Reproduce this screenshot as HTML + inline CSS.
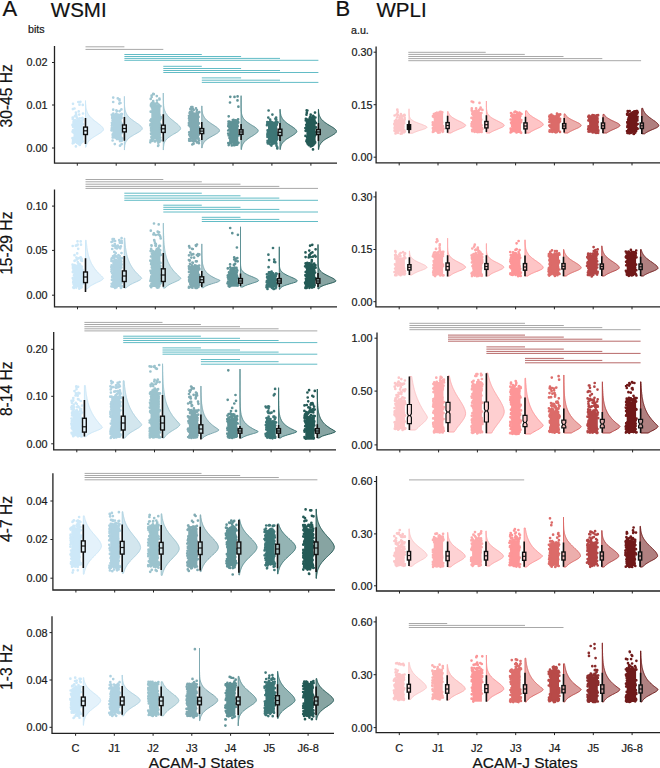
<!DOCTYPE html>
<html><head><meta charset="utf-8"><style>
html,body{margin:0;padding:0;background:#fff;}
body{width:660px;height:768px;overflow:hidden;font-family:"Liberation Sans",sans-serif;}
svg{display:block;}
</style></head><body>
<svg width="660" height="768" viewBox="0 0 660 768" font-family="Liberation Sans, sans-serif">
<style>text{stroke:#1a1a1a;stroke-width:0.22px;}</style>
<rect width="660" height="768" fill="#fff"/>
<defs><clipPath id="ca"><rect x="0" y="0" width="337" height="768"/></clipPath></defs>
<g clip-path="url(#ca)">
<rect x="73.5" y="121" width="9.2" height="21" fill="#cde8f8"/>
<path d="M73.8 139.8h0M74.1 125.7h0M73.1 139.3h0M72.5 138.2h0M74.1 130.8h0M73.1 126.8h0M73 130.3h0M73.5 132.6h0M74.5 137.6h0M73.7 141.8h0M72.9 124.4h0M73.7 121.9h0M72.6 131.8h0M73.4 140.3h0M73.8 131.8h0M73.5 126.2h0M72.5 125h0M73.9 125.2h0M81.9 121.1h0M82.9 124.2h0M81.7 139.5h0M82.2 138.8h0M82.5 136.6h0M81.4 132.4h0M82.2 139.3h0M81.9 133.6h0M81.3 129.1h0M74.1 121.4h0M75.1 121.4h0M73.5 122h0M74.8 121.7h0M75.7 121.9h0M79.6 121.1h0M81.5 121.9h0M82.2 121.6h0M79.4 120.6h0M76.5 120.4h0M75.1 120h0M81.9 120.5h0M78.4 120.3h0M72.8 119.1h0M82.8 119.7h0M79.8 118.4h0M78.1 118.8h0M82.2 118.2h0M82.5 118h0M77 117.8h0M72.7 117.6h0M74.9 116.2h0M76.4 116.2h0M76.1 114.3h0M83 113.5h0M78.7 111.4h0M81.1 141.7h0M80.2 141.6h0M82.9 141.3h0M76.8 141.2h0M73 141.2h0M82.3 141.8h0M79.2 142.6h0M74.5 142.1h0M76.9 142.8h0M81.2 142.7h0M73.7 142.9h0M81.1 142.9h0M78.1 142.9h0M72.7 143.3h0M78.6 144h0M79.8 145h0M78.3 102h0M79.5 104.7h0M74.5 108.5h0M72.9 109.1h0M82.8 104.9h0M73 103.8h0M75.9 112.5h0M79.2 114.6h0M80.4 101.8h0M75.9 146.4h0M81 143.2h0" stroke="#cde8f8" stroke-width="2.7" stroke-linecap="round"/>
<rect x="112.4" y="115" width="9.2" height="23.5" fill="#afd2e1"/>
<path d="M112.9 135.7h0M111.8 128.5h0M112.7 129.3h0M111.6 130.5h0M112.7 134.4h0M113 122.7h0M112.8 135.4h0M113.2 118.8h0M111.5 130.3h0M111.8 128.2h0M113.3 123.9h0M111.9 125.7h0M112.7 117.4h0M112.2 118.1h0M112.7 134.5h0M112.2 123.7h0M112.5 120.1h0M111.9 122.8h0M112.3 116.9h0M112.9 128.6h0M120.7 116.8h0M121.6 118.1h0M120.4 118.1h0M120.3 136.3h0M120.6 122.2h0M121.8 129.6h0M120.5 125.2h0M121.9 123.8h0M121.5 117.3h0M121.6 133.2h0M114.2 115.5h0M119.4 115.9h0M112.7 115.2h0M120 115.6h0M119.1 116h0M121.4 115.8h0M111.8 114.8h0M117.2 114.4h0M117.3 114.7h0M115.5 114.8h0M121.2 114.4h0M112.9 114.8h0M122 114.1h0M119 114.8h0M121.3 114.1h0M113.3 113.6h0M116.2 113.8h0M119.6 111.1h0M122.1 138.4h0M121.2 137.7h0M115.6 137.7h0M112.7 137.5h0M118.6 138.8h0M117 138.8h0M116.9 139.1h0M117.1 138.9h0M119.9 139.4h0M112.6 140.5h0M121.8 140.7h0M114.8 144.1h0M116.4 110.4h0M119.5 99.3h0M119.5 100.4h0M120.5 103h0M119.3 103.6h0M113.2 109.7h0M113.2 102h0M117.8 98.4h0M121.4 109.4h0M116.9 111.2h0M113.2 97.6h0M121.7 144.1h0M120 141.1h0M120 145.7h0" stroke="#afd2e1" stroke-width="2.7" stroke-linecap="round"/>
<rect x="151.3" y="105" width="9.2" height="34.5" fill="#9bc3cd"/>
<path d="M151.6 137.8h0M151.2 119.3h0M151.7 133.8h0M151 128.1h0M150.7 124h0M151.8 107.3h0M151.8 105.5h0M152.2 121.2h0M151.1 129.9h0M151.3 130.2h0M150.5 124.4h0M151.4 137.2h0M150.4 120.6h0M151.6 124h0M150.4 125.5h0M150.7 111.7h0M152.1 111.8h0M151.2 130.9h0M151.7 124.1h0M151.9 121.1h0M151.5 133.3h0M151.7 127.1h0M151.1 124.3h0M151.1 130.7h0M151.1 121.1h0M151.8 122.4h0M151 133.5h0M151.1 134.1h0M151.9 120.4h0M160.4 106.2h0M159.8 134.7h0M160.2 124.2h0M160.3 128.4h0M160.2 119.5h0M159.4 115.1h0M159.6 119.9h0M161 117.2h0M159.9 117.8h0M160.2 137.7h0M160.8 118h0M159.5 135.5h0M160 128.7h0M159.1 134.9h0M154.3 105.5h0M152.5 105.3h0M157.9 105.8h0M150.9 105.7h0M159 105.4h0M151 105.7h0M152.9 105.6h0M154.3 105.6h0M153.6 104.3h0M151 104.4h0M158.6 104.7h0M152.4 104.1h0M153.7 104.8h0M155.5 104.9h0M155 103.5h0M151.8 103.4h0M157.1 103.1h0M151.8 103.2h0M153.3 104h0M153.2 139.3h0M152.3 139.1h0M157.4 140.1h0M158.6 139.7h0M160.5 140.4h0M151.5 139.8h0M150.6 140.3h0M160.1 140.5h0M156.8 140.2h0M158 141.2h0M154.8 141.4h0M158.4 140.8h0M151.1 140.6h0M152.3 140.8h0M155.1 141.4h0M159.4 141.9h0M150.3 142.3h0M153.2 101.2h0M153.2 93.9h0M151.7 96.9h0M151.6 95.5h0M150.7 98.9h0M159.4 98.5h0M153.2 101.8h0M156.8 96.1h0M157 100.6h0M159.5 99.4h0M153.8 94.2h0M158.4 145.3h0M158.2 142.7h0M158.1 146h0" stroke="#9bc3cd" stroke-width="2.7" stroke-linecap="round"/>
<rect x="189.8" y="112.4" width="9.2" height="27.4" fill="#80aab2"/>
<path d="M189.6 113.1h0M190.7 132h0M189.2 132.4h0M189.4 125.3h0M190.5 124.7h0M189.4 120.8h0M189 118.4h0M189.3 117.1h0M188.9 125.2h0M189.2 132.6h0M190.6 119.9h0M189.9 126.3h0M189 115.8h0M190.6 125.4h0M190.4 114.2h0M190 136.1h0M190.5 112.6h0M189.8 122.5h0M190.3 114.4h0M189.3 134.7h0M189.7 124.8h0M190.7 121.2h0M188.9 123.1h0M197.8 114.6h0M198.6 138.5h0M198.7 130.1h0M198.1 128h0M199 128.5h0M199.1 127.5h0M197.9 128.4h0M198.5 116.9h0M198.7 134.8h0M197.8 127.3h0M199 123.4h0M197.6 113.3h0M189.9 112.6h0M190.7 113.2h0M198.5 112.4h0M192.4 112.6h0M196.8 111.8h0M190.3 111.8h0M199.3 112.2h0M190 112.2h0M192.1 112.2h0M193.7 110.1h0M193.8 139.2h0M195.1 139.1h0M189.2 139.1h0M190.3 140.2h0M195.2 140.7h0M190.4 140.5h0M193.9 139.9h0M199.2 140.5h0M190.2 140.7h0M189.9 139.9h0M192.3 140.7h0M189.2 140.7h0M193.7 141.4h0M196.7 141.5h0M197.5 142.2h0M193.6 143.7h0M198.9 143.2h0M198.9 143.2h0M192.9 108.9h0M190.3 108.9h0M196.9 110h0M196 108.4h0M191.3 107.1h0M191.8 109.6h0M192.4 107.1h0M196.9 142.4h0M192.3 144.5h0" stroke="#80aab2" stroke-width="2.7" stroke-linecap="round"/>
<rect x="229.1" y="121.8" width="9.2" height="21.5" fill="#5f9296"/>
<path d="M228.5 124.1h0M229.5 138.1h0M228.7 135.5h0M228.2 130.5h0M229.3 127.2h0M228.8 134.9h0M229.3 125.1h0M229.5 123.5h0M230 126.2h0M228.6 126.1h0M230.1 128h0M229.3 143.1h0M230 122.7h0M229.1 134.7h0M229.5 129h0M228.8 121.9h0M228.2 133.6h0M228.3 126.2h0M237.5 123.3h0M236.9 141.7h0M237.7 126.2h0M238.2 122h0M237.3 142.5h0M238.6 135.5h0M237 128.6h0M236.9 126.5h0M236.9 124.5h0M229 122.6h0M235.3 122.3h0M234.7 121.9h0M230.9 122.4h0M238.3 122.6h0M229.5 121.5h0M236.8 121.6h0M232.9 121h0M228.5 121.7h0M233.5 119.8h0M232.8 120h0M235.7 120.3h0M237.4 120.7h0M238.1 119.3h0M228.7 116.3h0M237 142.9h0M235.9 142.9h0M230.3 143.1h0M228.3 143h0M230.2 142.8h0M238.5 142.8h0M230.8 143.3h0M233.9 143.7h0M233.5 143.6h0M237.3 144.6h0M236.7 144.6h0M235.8 144.6h0M234.5 145.2h0M228.7 145.1h0M231.8 145.4h0M238.4 106.7h0M237.6 96.4h0M230 102.5h0M230.3 96.8h0M237.5 100.4h0M234.5 96.9h0M233.7 144.8h0M233.7 145.1h0" stroke="#5f9296" stroke-width="2.7" stroke-linecap="round"/>
<rect x="268" y="121.8" width="9.2" height="21.2" fill="#3d7676"/>
<path d="M267.3 124.5h0M268.6 141.4h0M267.3 122.1h0M267.5 124.7h0M267.4 134.2h0M267.8 130.9h0M267.4 135.9h0M267.6 130.3h0M267.9 141h0M267.5 137h0M267.6 140.8h0M267.8 132.5h0M268.8 136.1h0M267.2 124.7h0M269 122.4h0M267.6 142.1h0M267 125.2h0M267.4 123.6h0M276.6 134.4h0M276.3 124.1h0M277.3 138.9h0M276.8 124.7h0M276.8 135.1h0M276.6 140.1h0M276.5 132.6h0M275.9 133.7h0M277.2 137.3h0M272.5 122.7h0M272 122.3h0M270 122.7h0M270.4 122.5h0M271.4 122.7h0M277.1 121.8h0M277.6 122.4h0M267.8 122.3h0M270.3 121.4h0M275.8 121.7h0M270.5 121.4h0M276.3 119.5h0M270.1 119.6h0M268.3 117.6h0M273.3 143h0M271.9 142.8h0M268 142.9h0M273.2 142.9h0M275.4 142.9h0M267.6 142.7h0M269.1 143.4h0M275.8 143.5h0M272.5 143.8h0M274 143.3h0M267.9 143.5h0M276.4 143.6h0M271.1 144.6h0M271.4 145.6h0M276.5 145.7h0M277.3 147.3h0M276.1 117.6h0M272.4 114.6h0M275.4 118.8h0M268.6 110.5h0M277.3 148.5h0M270.2 144.3h0" stroke="#3d7676" stroke-width="2.7" stroke-linecap="round"/>
<rect x="306.4" y="118.3" width="9.2" height="25" fill="#245a56"/>
<path d="M307.2 130.3h0M305.6 130.8h0M305.9 128.5h0M306.7 141.2h0M307 122.3h0M306.4 130.6h0M307.4 120.5h0M306.4 141.2h0M306.2 124.8h0M306.5 126.3h0M307.3 120.4h0M305.8 120.4h0M306.8 125.6h0M307.2 140.6h0M307.3 124.7h0M305.4 128h0M307.3 137.4h0M305.5 135.9h0M307.2 142.5h0M306.8 139.9h0M307.1 127.3h0M314.3 136.5h0M314.4 127.9h0M316.1 132.3h0M315.1 142h0M314.7 143.3h0M315.9 127.4h0M314.8 121.5h0M315.9 122.9h0M314.1 140.6h0M315.3 135.1h0M305.9 118.8h0M313.3 119h0M312 118.3h0M315.4 117.5h0M309.8 117.8h0M313.1 118.2h0M313.3 117.6h0M313.7 116.5h0M310.3 116.8h0M312 117.3h0M313.1 115.8h0M314.4 143.1h0M309.1 142.9h0M315.1 142.7h0M311.3 142.7h0M310.8 144h0M307.6 143.4h0M313.9 144.1h0M312.5 143.6h0M312.4 143.4h0M312.5 143.9h0M312 143.7h0M307.8 144h0M310.4 144h0M309.3 143.4h0M313.7 144.6h0M312.9 144.7h0M308.8 144.8h0M311.1 145h0M312.6 145.6h0M311.9 145.8h0M310.7 146.5h0M315 112.6h0M306.5 114.7h0M306.8 112.9h0M306.7 110.4h0M310.7 114.7h0M307.4 110.5h0M308.8 145.1h0M313 149.4h0" stroke="#245a56" stroke-width="2.7" stroke-linecap="round"/>
<path d="M85.5 100.6L85.6 100.6L85.6 101.2L85.6 101.8L85.6 102.4L85.6 103L85.6 103.6L85.7 104.1L85.7 104.7L85.8 105.3L85.8 105.9L85.9 106.5L85.9 107.1L86 107.7L86.1 108.3L86.2 108.9L86.4 109.5L86.5 110.1L86.7 110.6L86.9 111.2L87.1 111.8L87.4 112.4L87.6 113L87.9 113.6L88.3 114.2L88.7 114.8L89.1 115.4L89.5 116L90 116.6L90.6 117.2L91.1 117.7L91.7 118.3L92.4 118.9L93.1 119.5L93.8 120.1L94.5 120.7L95.3 121.3L96.1 121.9L96.9 122.5L97.7 123.1L98.4 123.7L99.2 124.2L99.9 124.8L100.7 125.4L101.3 126L101.9 126.6L102.4 127.2L102.9 127.8L103.2 128.4L103.4 129L103.5 129.5L103.5 129.6L103.3 130.2L103 130.7L102.4 131.3L101.7 131.9L101 132.5L100.1 133.1L99.2 133.7L98.2 134.3L97.2 134.9L96.2 135.5L95.2 136.1L94.3 136.7L93.4 137.3L92.5 137.8L91.7 138.4L90.9 139L90.2 139.6L89.6 140.2L89 140.8L88.5 141.4L88.1 142L87.7 142.6L87.3 143.2L87 143.8L86.8 144.3L86.5 144.9L86.3 145.5L86.2 146.1L86.1 146.7L85.9 147.3L85.5 147.3Z" fill="#e4f2fb" stroke="#cde8f8" stroke-width="1"/>
<path d="M124.4 96.4L124.4 96.4L124.4 97.1L124.4 97.8L124.4 98.4L124.4 99.1L124.4 99.8L124.4 100.5L124.4 101.1L124.4 101.8L124.4 102.5L124.5 103.2L124.5 103.9L124.5 104.5L124.5 105.2L124.6 105.9L124.6 106.6L124.7 107.3L124.8 107.9L124.9 108.6L125 109.3L125.1 110L125.3 110.6L125.5 111.3L125.7 112L126 112.7L126.3 113.4L126.6 114L127 114.7L127.5 115.4L128.1 116.1L128.7 116.8L129.3 117.4L130 118.1L130.8 118.8L131.7 119.5L132.6 120.1L133.5 120.8L134.5 121.5L135.5 122.2L136.5 122.9L137.5 123.5L138.5 124.2L139.4 124.9L140.2 125.6L141 126.3L141.6 126.9L142 127.6L142.3 128.3L142.3 128.6L142.2 129L141.9 129.6L141.2 130.3L140.4 131L139.4 131.7L138.3 132.4L137.1 133L135.9 133.7L134.7 134.4L133.5 135.1L132.4 135.8L131.3 136.4L130.3 137.1L129.4 137.8L128.6 138.5L127.9 139.1L127.3 139.8L126.8 140.5L126.3 141.2L125.9 141.9L125.6 142.5L125.4 143.2L125.1 143.9L125 144.6L124.8 145.3L124.7 145.9L124.7 146.6L124.6 147.3L124.5 148L124.5 148.6L124.5 149.3L124.5 150L124.4 150Z" fill="#d3e6ee" stroke="#afd2e1" stroke-width="1"/>
<path d="M163.3 93L163.3 93L163.3 93.7L163.3 94.4L163.3 95.2L163.3 95.9L163.3 96.6L163.3 97.3L163.3 98.1L163.3 98.8L163.3 99.5L163.4 100.2L163.4 100.9L163.4 101.7L163.4 102.4L163.5 103.1L163.5 103.8L163.6 104.5L163.6 105.3L163.7 106L163.8 106.7L163.9 107.4L164 108.2L164.2 108.9L164.4 109.6L164.6 110.3L164.9 111L165.2 111.8L165.5 112.5L165.9 113.2L166.4 113.9L166.9 114.6L167.4 115.4L168 116.1L168.7 116.8L169.4 117.5L170.2 118.3L171 119L171.9 119.7L172.8 120.4L173.7 121.1L174.6 121.9L175.5 122.6L176.4 123.3L177.3 124L178.1 124.7L178.8 125.5L179.5 126.2L180 126.9L180.4 127.6L180.6 128.4L180.6 128.6L180.5 129.1L180 129.8L179.3 130.5L178.4 131.2L177.4 132L176.2 132.7L175 133.4L173.7 134.1L172.5 134.8L171.3 135.6L170.2 136.3L169.2 137L168.2 137.7L167.4 138.5L166.7 139.2L166 139.9L165.5 140.6L165.1 141.3L164.7 142.1L164.4 142.8L164.1 143.5L163.9 144.2L163.8 144.9L163.7 145.7L163.6 146.4L163.5 147.1L163.4 147.8L163.4 148.6L163.4 149.3L163.4 150L163.3 150Z" fill="#c8dee4" stroke="#9bc3cd" stroke-width="1"/>
<path d="M201.8 105.9L201.8 105.9L201.9 106.4L201.9 107L201.9 107.5L201.9 108L201.9 108.6L202 109.1L202 109.6L202.1 110.2L202.1 110.7L202.2 111.2L202.3 111.8L202.4 112.3L202.5 112.8L202.6 113.4L202.7 113.9L202.9 114.4L203.1 115L203.3 115.5L203.6 116L203.9 116.6L204.2 117.1L204.5 117.6L204.9 118.2L205.4 118.7L205.8 119.2L206.4 119.8L206.9 120.3L207.5 120.8L208.2 121.4L208.9 121.9L209.6 122.4L210.4 123L211.1 123.5L211.9 124L212.8 124.6L213.6 125.1L214.4 125.6L215.2 126.2L216 126.7L216.7 127.2L217.4 127.7L218 128.3L218.5 128.8L219 129.3L219.3 129.9L219.5 130.4L219.5 130.7L219.5 130.9L219.2 131.5L218.8 132L218.2 132.5L217.5 133.1L216.7 133.6L215.8 134.1L214.9 134.7L213.9 135.2L212.9 135.7L212 136.3L211 136.8L210.1 137.3L209.2 137.9L208.4 138.4L207.6 138.9L206.9 139.5L206.2 140L205.6 140.5L205.1 141.1L204.6 141.6L204.1 142.1L203.8 142.7L203.5 143.2L203.2 143.7L202.9 144.3L202.7 144.8L202.6 145.3L202.4 145.9L202.3 146.4L202.2 146.9L202.1 147.5L202.1 148L201.8 148Z" fill="#b9d0d5" stroke="#80aab2" stroke-width="1"/>
<path d="M241.1 95.7L241.1 95.7L241.1 96.4L241.1 97.1L241.1 97.7L241.1 98.4L241.1 99.1L241.1 99.8L241.1 100.5L241.1 101.1L241.1 101.8L241.1 102.5L241.1 103.2L241.1 103.9L241.1 104.6L241.1 105.2L241.1 105.9L241.1 106.6L241.1 107.3L241.1 108L241.2 108.6L241.2 109.3L241.2 110L241.2 110.7L241.3 111.4L241.4 112L241.4 112.7L241.5 113.4L241.7 114.1L241.8 114.8L242 115.4L242.3 116.1L242.6 116.8L242.9 117.5L243.3 118.2L243.8 118.9L244.4 119.5L245 120.2L245.7 120.9L246.5 121.6L247.4 122.3L248.3 122.9L249.3 123.6L250.4 124.3L251.5 125L252.6 125.7L253.7 126.3L254.8 127L255.7 127.7L256.6 128.4L257.3 129.1L257.9 129.8L258.2 130.4L258.2 130.7L258.1 131.1L257.8 131.8L257.2 132.5L256.5 133.2L255.6 133.8L254.6 134.5L253.6 135.2L252.5 135.9L251.4 136.6L250.3 137.2L249.3 137.9L248.3 138.6L247.4 139.3L246.5 140L245.7 140.6L245 141.3L244.4 142L243.8 142.7L243.4 143.4L242.9 144.1L242.6 144.7L242.3 145.4L242.1 146.1L241.9 146.8L241.7 147.5L241.6 148.1L241.5 148.8L241.4 149.5L241.1 149.5Z" fill="#a7c3c5" stroke="#5f9296" stroke-width="1"/>
<path d="M280 109.3L280.1 109.3L280.1 109.8L280.1 110.3L280.2 110.8L280.2 111.3L280.3 111.8L280.3 112.4L280.4 112.9L280.5 113.4L280.6 113.9L280.7 114.4L280.8 114.9L280.9 115.4L281.1 115.9L281.3 116.4L281.5 116.9L281.8 117.4L282 118L282.3 118.5L282.7 119L283.1 119.5L283.5 120L283.9 120.5L284.4 121L285 121.5L285.6 122L286.2 122.5L286.8 123L287.5 123.5L288.2 124.1L289 124.6L289.8 125.1L290.5 125.6L291.3 126.1L292.1 126.6L292.8 127.1L293.5 127.6L294.2 128.1L294.9 128.6L295.4 129.1L295.9 129.7L296.3 130.2L296.6 130.7L296.8 131.2L296.8 131.4L296.8 131.7L296.5 132.2L296.2 132.7L295.7 133.2L295.1 133.7L294.5 134.2L293.7 134.7L292.9 135.3L292.1 135.8L291.3 136.3L290.4 136.8L289.6 137.3L288.8 137.8L288 138.3L287.2 138.8L286.4 139.3L285.8 139.8L285.1 140.3L284.5 140.8L284 141.4L283.5 141.9L283 142.4L282.6 142.9L282.2 143.4L281.9 143.9L281.6 144.4L281.4 144.9L281.2 145.4L281 145.9L280.8 146.4L280.7 147L280.6 147.5L280.5 148L280.4 148.5L280.3 149L280.2 149.5L280 149.5Z" fill="#94b4b4" stroke="#3d7676" stroke-width="1"/>
<path d="M318.4 109.3L318.5 109.3L318.5 109.8L318.6 110.3L318.6 110.8L318.6 111.3L318.7 111.8L318.7 112.4L318.8 112.9L318.9 113.4L319 113.9L319.1 114.4L319.3 114.9L319.4 115.4L319.6 115.9L319.8 116.4L320 116.9L320.3 117.4L320.6 118L320.9 118.5L321.3 119L321.7 119.5L322.2 120L322.7 120.5L323.2 121L323.8 121.5L324.4 122L325.1 122.5L325.8 123L326.6 123.5L327.3 124.1L328.1 124.6L329 125.1L329.8 125.6L330.6 126.1L331.5 126.6L332.3 127.1L333.1 127.6L333.8 128.1L334.5 128.6L335.1 129.1L335.7 129.7L336.1 130.2L336.4 130.7L336.6 131.2L336.6 131.4L336.6 131.7L336.3 132.2L335.9 132.7L335.4 133.2L334.8 133.7L334.1 134.2L333.3 134.7L332.4 135.3L331.5 135.8L330.6 136.3L329.7 136.8L328.8 137.3L327.9 137.8L327 138.3L326.2 138.8L325.4 139.3L324.6 139.8L323.9 140.3L323.3 140.8L322.7 141.4L322.1 141.9L321.7 142.4L321.2 142.9L320.8 143.4L320.5 143.9L320.2 144.4L319.9 144.9L319.6 145.4L319.4 145.9L319.3 146.4L319.1 147L319 147.5L318.9 148L318.8 148.5L318.7 149L318.7 149.5L318.4 149.5Z" fill="#87a4a2" stroke="#245a56" stroke-width="1"/>
<path d="M85.5 118.1V127.1M85.5 134.5V143.9" stroke="#111" stroke-width="1.6"/>
<rect x="83.6" y="127.1" width="3.8" height="7.4" fill="#e8f5fc" stroke="#111" stroke-width="1.4"/>
<path d="M83.6 130.8H87.4" stroke="#111" stroke-width="1.2"/>
<path d="M124.4 117V125M124.4 131.9V140.7" stroke="#111" stroke-width="1.6"/>
<rect x="122.5" y="125" width="3.8" height="6.9" fill="#dbebf2" stroke="#111" stroke-width="1.4"/>
<path d="M122.5 128.5H126.3" stroke="#111" stroke-width="1.2"/>
<path d="M163.3 114.2V125.2M163.3 132.4V141.5" stroke="#111" stroke-width="1.6"/>
<rect x="161.4" y="125.2" width="3.8" height="7.2" fill="#d2e4e8" stroke="#111" stroke-width="1.4"/>
<path d="M161.4 128.8H165.2" stroke="#111" stroke-width="1.2"/>
<path d="M201.8 122V128.6M201.8 133.6V140" stroke="#111" stroke-width="1.6"/>
<rect x="199.9" y="128.6" width="3.8" height="5" fill="#c6d9dc" stroke="#111" stroke-width="1.4"/>
<path d="M199.9 131.1H203.7" stroke="#111" stroke-width="1.2"/>
<path d="M241.1 124V129.8M241.1 134.3V140" stroke="#111" stroke-width="1.6"/>
<rect x="239.2" y="129.8" width="3.8" height="4.5" fill="#b7ced0" stroke="#111" stroke-width="1.4"/>
<path d="M239.2 132H243" stroke="#111" stroke-width="1.2"/>
<path d="M280 123V129.2M280 135.5V141" stroke="#111" stroke-width="1.6"/>
<rect x="278.1" y="129.2" width="3.8" height="6.3" fill="#a8c1c1" stroke="#111" stroke-width="1.4"/>
<path d="M278.1 132.4H281.9" stroke="#111" stroke-width="1.2"/>
<path d="M318.4 123V129.5M318.4 134.5V141" stroke="#111" stroke-width="1.6"/>
<rect x="316.5" y="129.5" width="3.8" height="5" fill="#9cb5b3" stroke="#111" stroke-width="1.4"/>
<path d="M316.5 132H320.3" stroke="#111" stroke-width="1.2"/>
<path d="M85.5 46.8H124.4" stroke="#a8a8a8" stroke-width="1"/>
<path d="M85.5 49.4H163.3" stroke="#a8a8a8" stroke-width="1"/>
<path d="M124.4 54.5H201.8" stroke="#62bcc6" stroke-width="1"/>
<path d="M124.4 56.5H241.1" stroke="#62bcc6" stroke-width="1"/>
<path d="M124.4 58.4H280" stroke="#62bcc6" stroke-width="1"/>
<path d="M124.4 60.3H318.4" stroke="#62bcc6" stroke-width="1"/>
<path d="M163.3 66.3H201.8" stroke="#62bcc6" stroke-width="1"/>
<path d="M163.3 68.5H241.1" stroke="#62bcc6" stroke-width="1"/>
<path d="M163.3 70.5H280" stroke="#62bcc6" stroke-width="1"/>
<path d="M163.3 72.5H318.4" stroke="#62bcc6" stroke-width="1"/>
<path d="M201.8 77.9H241.1" stroke="#62bcc6" stroke-width="1"/>
<path d="M201.8 80.2H280" stroke="#62bcc6" stroke-width="1"/>
<path d="M201.8 82.4H318.4" stroke="#62bcc6" stroke-width="1"/>
<rect x="73.5" y="266" width="9.2" height="21" fill="#cde8f8"/>
<path d="M73.2 282.6h0M72.8 278.2h0M73.4 272.1h0M74.1 281.7h0M72.8 272.1h0M74.1 286.8h0M73.7 284.3h0M74.5 281.6h0M73.8 270.6h0M73.2 279.1h0M74.4 272.3h0M73.3 266.5h0M73.9 275.3h0M74.1 270.9h0M73.8 280.1h0M73.4 270h0M73.3 281.6h0M72.9 267.9h0M82.1 270.9h0M82.8 283.2h0M83.1 283.6h0M82.5 269.9h0M82.8 281.3h0M82.7 280.6h0M82.9 272.3h0M82.5 276.9h0M81.9 272.9h0M77.9 266.1h0M76.7 267h0M73.4 266.8h0M81.8 266.5h0M81 266.4h0M76.3 266.5h0M74.6 266.3h0M75.8 267h0M74.6 265.1h0M73.6 265.3h0M76.9 265.9h0M78.2 266h0M80.2 265.1h0M78.4 265.2h0M72.9 265.9h0M79.5 264.5h0M72.6 264.7h0M78.2 263.5h0M79.7 264h0M77.8 262.2h0M81.6 258.7h0M75.5 286.5h0M79.7 286.6h0M80.3 286.1h0M74.4 286.3h0M75.5 286.8h0M76.3 287.6h0M81.7 287.3h0M74.5 287h0M74 287.9h0M79.2 288h0M73.2 287.4h0M81 287.7h0M79.3 288.7h0M74.5 255.2h0M77.5 241.3h0M78.2 248.8h0M75 260.6h0M74.5 260.8h0M76.9 259.4h0M76.4 257.6h0M72.7 246h0M81.1 260.4h0M77.2 253.4h0M78.3 258.5h0M81.7 259.1h0M75.9 245.7h0M82 260.9h0M79.5 258h0M81 244.7h0M77.7 244.6h0M77.4 245.2h0M77.6 258.5h0M80.7 257.4h0M80.7 241.4h0" stroke="#cde8f8" stroke-width="2.7" stroke-linecap="round"/>
<rect x="112.3" y="261" width="9.2" height="26" fill="#afd2e1"/>
<path d="M111.6 265.3h0M112.1 273h0M113.2 285.5h0M113.2 280h0M112.7 268h0M112 261.1h0M113 268.2h0M111.5 269.2h0M111.9 279.8h0M111.3 267h0M113.1 283.2h0M112.6 275.5h0M111.7 283.8h0M112.8 274.3h0M111.6 266.6h0M112.1 269.6h0M111.4 271.6h0M112.2 268.5h0M112.1 269.6h0M112.1 277.1h0M112.3 266.1h0M112.9 274.3h0M120.9 279.5h0M121.5 283.1h0M121.6 278.4h0M121.4 265.1h0M121.4 267.6h0M120.5 264.1h0M120.8 261.5h0M121.3 280.5h0M121.6 264.4h0M121.3 282.8h0M120.1 266h0M118.6 261.2h0M118.9 261.7h0M119 261.1h0M121.4 261.6h0M114.2 261.4h0M116.8 261.5h0M116.1 260.2h0M111.4 261h0M114.4 260.5h0M115.1 260.1h0M120.9 260.9h0M118.4 259.8h0M119.4 259.7h0M111.5 259.2h0M114.2 258.3h0M121.9 258.2h0M111.8 258.4h0M118.2 258.2h0M120.3 258.2h0M119.1 257.8h0M114 257.1h0M117.6 257.5h0M116.2 256.4h0M113 256.3h0M114.1 256.2h0M119.7 256.1h0M114.6 255.2h0M118.5 255h0M115.7 253.2h0M121.5 253.1h0M114.3 251.9h0M115.5 247.9h0M113.8 246h0M116.1 246.1h0M114.8 245.2h0M120.6 286.7h0M113.8 286.6h0M114.6 286.9h0M115 286.2h0M111.8 286.3h0M121.9 286.2h0M116.2 287h0M111.4 286.3h0M120.1 286.1h0M121.2 286.8h0M112.8 286.6h0M121 287.9h0M115.2 287.7h0M116.5 287.3h0M115 288h0M115 287.6h0M121.4 287.3h0M112.5 241.5h0M119.9 242.7h0M121.7 241h0M121.8 243h0M116.9 248.4h0M112.2 249h0M119 246.8h0M111.5 242h0M113.9 239.1h0M120.2 248.3h0M119.2 240h0M116.3 247.9h0M115.1 241h0M119.7 241.5h0M120.9 246.4h0M119.3 247.4h0M114.8 244.1h0M117.8 245.6h0M112.5 245.6h0M121.6 238.2h0M112.6 239.2h0" stroke="#afd2e1" stroke-width="2.7" stroke-linecap="round"/>
<rect x="151.3" y="252.8" width="9.2" height="34.2" fill="#9bc3cd"/>
<path d="M152.2 271h0M150.6 280.9h0M151.2 277.2h0M152 271.2h0M150.4 280.9h0M151.7 283.9h0M150.8 279.7h0M152 264.9h0M151.1 264.2h0M150.3 260.7h0M151 256.5h0M151.8 267.4h0M151.4 262.5h0M151 278.6h0M151.2 273.2h0M151.1 271.9h0M152.1 261.9h0M151.3 276.3h0M150.5 285.7h0M151.3 261.2h0M151.8 280.7h0M151.6 284.1h0M150.5 270.8h0M151.8 284.2h0M151.6 273.4h0M151.1 272.3h0M151.4 283.8h0M152 278h0M160.8 255.1h0M160.5 268.7h0M160.5 262.9h0M159.9 281h0M159.1 262.8h0M160 281.9h0M159.5 280.9h0M159.5 263.2h0M160.1 275.2h0M160.8 282.9h0M159.5 278.3h0M160.3 266h0M160.6 283.5h0M160 284.1h0M151.9 253.6h0M158.2 252.9h0M153.1 253.6h0M160.1 253.7h0M155.7 253.2h0M154.4 251.9h0M155.3 252.5h0M157.3 252.8h0M159.8 252.4h0M159.2 250.8h0M152.8 251h0M153.1 251.7h0M150.6 251.1h0M156.4 251.5h0M158.6 251.2h0M152.7 251.7h0M151.6 250.9h0M152.8 251.3h0M151.3 250h0M158.7 250.4h0M158.8 249.8h0M159.9 250.2h0M160.2 250.4h0M156.2 250.6h0M156.8 249.2h0M151.1 248.9h0M158.5 247.9h0M155.8 246h0M154.2 240h0M158.7 286.7h0M150.5 286.1h0M158.2 286.7h0M151.2 287.2h0M158.5 287.5h0M157.4 287.7h0M156.8 287.2h0M157.8 287.1h0M155.1 243.2h0M151.4 245.3h0M158.2 234.5h0M154.5 241.3h0M155.9 244.2h0M160.3 236.5h0M160 245.9h0M154 223.5h0M159.1 232.3h0M153.4 234.5h0M159.7 235.3h0M155.4 245.4h0M159.3 245.9h0M150.8 230.7h0M157.7 231.7h0M155.9 245.2h0M153.9 233.4h0M160.7 238.4h0M155.7 235h0M151.6 245.7h0M158.7 224.4h0" stroke="#9bc3cd" stroke-width="2.7" stroke-linecap="round"/>
<rect x="189.8" y="268.6" width="9.2" height="18.4" fill="#80aab2"/>
<path d="M190.3 284h0M190 279.2h0M189.9 282.1h0M189.5 277.7h0M189.7 280.8h0M189.2 269.1h0M189 271.9h0M190.5 281.8h0M190.3 276.8h0M189 277.2h0M190.5 278h0M190.1 275.5h0M189.1 280.1h0M189.8 275h0M189.3 281.4h0M189.4 279.2h0M198 282.5h0M198.2 277.4h0M199.4 281.8h0M199 274.8h0M199.2 275.7h0M199.5 285.1h0M198.8 283.9h0M198.6 282.1h0M197 268.7h0M199.1 268.9h0M199.4 269.4h0M194 269h0M189.8 268.7h0M194.5 268.1h0M192.7 268.5h0M198.4 267.8h0M197.1 267.9h0M190.8 267.8h0M194.9 267.9h0M191.4 267.7h0M192.3 268.4h0M189 268.1h0M195.3 267.6h0M191.9 268.5h0M199.4 268.5h0M198.7 267.5h0M193 266.7h0M198.4 267.6h0M194.3 266.8h0M192 265.6h0M191.5 266.6h0M188.9 266.3h0M197.2 266h0M199.2 265.5h0M194.9 265.3h0M191.7 265.5h0M195.7 265.5h0M191.9 265.6h0M190 263.8h0M192.9 262.8h0M192.4 262.5h0M195.9 261.3h0M196.8 261.3h0M189.6 260.7h0M188.9 260.1h0M189.8 260.3h0M194.1 257.7h0M191.3 257.6h0M198 256h0M199.3 254.7h0M193.3 254.2h0M195.8 245.3h0M189 286.9h0M195.5 286.4h0M190.3 286.8h0M195.4 287.1h0M188.9 287.7h0M192.5 287.7h0M197.1 287.8h0M195.4 287.8h0M195.8 287.9h0M198.4 287h0M191.7 287.4h0M191.5 287.2h0M189.1 246.2h0M196.9 255h0M191.6 254.7h0M197 244.5h0M190.3 252.5h0M199.3 254.3h0M189.5 247.6h0M192.8 249h0M192 248.8h0M189 255.3h0M198 254.1h0M196.1 245.9h0M196.3 245.1h0" stroke="#80aab2" stroke-width="2.7" stroke-linecap="round"/>
<rect x="228.5" y="272" width="9.2" height="14.7" fill="#5f9296"/>
<path d="M227.9 277.2h0M229.3 286.5h0M228.4 283.4h0M229.4 286.7h0M228.1 281.6h0M228.3 278.8h0M228.4 276.1h0M227.5 283.3h0M228.9 284.4h0M227.8 275.5h0M228.7 285.8h0M228.4 275h0M228.7 286.1h0M237.9 285.2h0M237 275.9h0M237.9 283.6h0M237.9 277.8h0M236.8 275.5h0M237.9 285.5h0M230.4 272.3h0M233 272.1h0M235.9 272.2h0M232.3 272.6h0M229 272.4h0M233.5 272.6h0M235 271.8h0M236.1 271.2h0M236.4 271.6h0M234.7 271.9h0M231.8 271.9h0M236.9 271.8h0M231.6 271.5h0M237.3 270.5h0M230.4 270h0M235.9 270.3h0M233 270.2h0M234 270.4h0M236.1 270.7h0M236.9 269.9h0M234.4 269.9h0M232.7 268.2h0M232.1 268.5h0M227.8 268.4h0M234.6 267.6h0M230.2 267.4h0M236.5 267.9h0M233.9 264.9h0M230.1 264.4h0M234.7 264.2h0M235.1 263.8h0M235.6 261h0M237.3 258.1h0M234.2 257.4h0M229.6 286.5h0M229.8 285.8h0M230.1 286.2h0M236.9 247.5h0M237.9 234.8h0M232.3 233.2h0M237.7 261.3h0M234.2 259.5h0M236.2 258.6h0M230.2 228h0" stroke="#5f9296" stroke-width="2.7" stroke-linecap="round"/>
<rect x="267.3" y="274.4" width="9.2" height="12.8" fill="#3d7676"/>
<path d="M267.1 277.2h0M268 282.3h0M267.6 278.4h0M266.7 285.4h0M267.8 283.8h0M268.3 281.6h0M266.7 282.2h0M266.9 281h0M267.2 281.6h0M268.1 284.8h0M267.1 284.9h0M276.7 284.3h0M276.1 285.9h0M276 275.8h0M275.5 282.8h0M275.8 279.8h0M273.5 274.7h0M271.2 275.3h0M273 275.2h0M266.9 274.3h0M270.7 273.9h0M276.3 273.6h0M276.7 273.8h0M268.9 273.6h0M271.8 273.9h0M275.8 273.5h0M272.8 273.2h0M268.9 272.4h0M269.8 272.3h0M271.6 271.6h0M274.2 261.9h0M266.7 287.1h0M269.7 286.3h0M272.7 287h0M272.7 286.4h0M270.6 286.5h0M266.5 287.2h0M271.9 287.8h0M275.7 288.2h0M276 287.5h0M272.6 287.3h0M271.9 287.3h0M267.5 287.3h0M267.5 288.9h0M273.5 288.9h0M274 288.9h0M274.2 259.5h0M268.6 267.2h0M268.4 254.7h0M269.1 260.1h0M275.2 262.2h0M273 248h0" stroke="#3d7676" stroke-width="2.7" stroke-linecap="round"/>
<rect x="306" y="266.2" width="9.2" height="20.8" fill="#245a56"/>
<path d="M305.9 271.9h0M306.6 279.9h0M305.9 284.3h0M306.4 286.6h0M306.3 284.9h0M306.1 281h0M306.7 268.1h0M305.9 278.8h0M305.1 282.6h0M306.4 285.7h0M305.7 276h0M306.8 274.8h0M306.7 275h0M305.7 272h0M305.4 275.2h0M305.3 283.4h0M306.9 268.2h0M305.1 266.3h0M315.6 267.7h0M315.1 272.5h0M314.1 271.3h0M315.1 266.6h0M315.4 278h0M314.2 270.5h0M315 279.3h0M314.3 273.1h0M314.6 285.1h0M314.3 266.6h0M314 267.1h0M311.2 266.3h0M313.1 266.9h0M308.1 267.1h0M310.2 266.3h0M305.7 266.4h0M311.5 267h0M306.1 266.2h0M306.6 265.8h0M315.2 265.3h0M310.5 265.6h0M309.4 265.5h0M307.9 265.4h0M306.1 265.8h0M309.8 265.9h0M311.8 264.3h0M310.7 264.3h0M307.4 264.8h0M315.4 265.2h0M307.8 264.3h0M310.5 264.6h0M309.1 265h0M312.6 264.8h0M309.8 264h0M308.1 263.8h0M305.6 263.4h0M309.3 263.3h0M309.5 263.4h0M314.2 263.5h0M309.1 264h0M307.3 262.8h0M311.7 261.7h0M311.8 260.2h0M308.7 257.4h0M305.6 257.1h0M314.8 255.5h0M309.9 254.7h0M310.8 253.3h0M309.3 250.6h0M305.9 286.4h0M313.8 286.2h0M310.4 287h0M313.9 286.9h0M312.2 286.6h0M311.2 286.6h0M310 286.4h0M306.8 287.8h0M305.4 287.9h0M312 287.6h0M309.4 287.8h0M310.6 257h0M309.3 255.2h0M305.5 252.4h0M312.3 244.8h0M312.9 256.7h0M312.4 252.4h0M315.6 249.3h0M315.7 256.6h0M310.1 245.7h0" stroke="#245a56" stroke-width="2.7" stroke-linecap="round"/>
<path d="M85.5 240.2L86.2 240.2L86.2 240.8L86.3 241.4L86.3 242.1L86.4 242.7L86.4 243.3L86.5 243.9L86.6 244.5L86.6 245.1L86.7 245.8L86.8 246.4L86.9 247L86.9 247.6L87 248.2L87.1 248.8L87.2 249.5L87.3 250.1L87.4 250.7L87.5 251.3L87.7 251.9L87.8 252.6L87.9 253.2L88.1 253.8L88.2 254.4L88.4 255L88.5 255.6L88.7 256.3L88.9 256.9L89.1 257.5L89.3 258.1L89.5 258.7L89.7 259.3L90 260L90.2 260.6L90.5 261.2L90.7 261.8L91 262.4L91.3 263.1L91.6 263.7L92 264.3L92.3 264.9L92.7 265.5L93.1 266.1L93.5 266.8L93.9 267.4L94.3 268L94.7 268.6L95.2 269.2L95.7 269.9L96.2 270.5L96.7 271.1L97.3 271.7L97.8 272.3L98.4 272.9L99 273.6L99.6 274.2L100.2 274.8L100.8 275.4L101.5 276L102.1 276.6L102.7 277.3L103.3 277.9L103.5 278.2L103.4 278.5L103 279.1L102.3 279.7L101.4 280.4L100.3 281L99 281.6L97.7 282.2L96.4 282.8L95.1 283.4L93.9 284.1L92.7 284.7L91.6 285.3L90.6 285.9L89.8 286.5L89 287.1L88.3 287.8L87.8 288.4L87.3 289L85.5 289Z" fill="#e4f2fb" stroke="#cde8f8" stroke-width="1"/>
<path d="M124.3 238L124.8 238L124.8 238.6L124.8 239.3L124.9 239.9L124.9 240.5L125 241.2L125 241.8L125.1 242.4L125.1 243.1L125.2 243.7L125.2 244.3L125.3 245L125.3 245.6L125.4 246.2L125.5 246.9L125.5 247.5L125.6 248.1L125.7 248.8L125.8 249.4L125.9 250L126 250.7L126.1 251.3L126.2 251.9L126.3 252.6L126.5 253.2L126.6 253.8L126.7 254.5L126.9 255.1L127.1 255.7L127.2 256.4L127.4 257L127.6 257.6L127.8 258.3L128 258.9L128.2 259.5L128.5 260.2L128.7 260.8L129 261.4L129.2 262.1L129.5 262.7L129.8 263.3L130.1 263.9L130.5 264.6L130.8 265.2L131.2 265.8L131.6 266.5L132 267.1L132.4 267.7L132.8 268.4L133.3 269L133.8 269.6L134.3 270.3L134.8 270.9L135.3 271.5L135.9 272.2L136.5 272.8L137.1 273.4L137.7 274.1L138.3 274.7L139 275.3L139.6 276L140.2 276.6L140.9 277.2L141.5 277.9L141.7 278.2L141.6 278.5L141.1 279.1L140.3 279.8L139.3 280.4L138 281L136.6 281.7L135.2 282.3L133.8 282.9L132.5 283.6L131.2 284.2L130.1 284.8L129.1 285.5L128.2 286.1L127.4 286.7L126.7 287.4L126.2 288L124.3 288Z" fill="#d3e6ee" stroke="#afd2e1" stroke-width="1"/>
<path d="M163.3 223.2L163.4 223.2L163.4 224L163.4 224.8L163.4 225.7L163.4 226.5L163.4 227.3L163.4 228.1L163.5 228.9L163.5 229.8L163.5 230.6L163.5 231.4L163.5 232.2L163.5 233L163.6 233.9L163.6 234.7L163.6 235.5L163.7 236.3L163.7 237.1L163.7 238L163.8 238.8L163.8 239.6L163.8 240.4L163.9 241.2L163.9 242.1L164 242.9L164.1 243.7L164.1 244.5L164.2 245.3L164.3 246.2L164.4 247L164.5 247.8L164.6 248.6L164.7 249.4L164.8 250.3L164.9 251.1L165.1 251.9L165.2 252.7L165.4 253.5L165.6 254.4L165.8 255.2L166 256L166.2 256.8L166.4 257.7L166.7 258.5L167 259.3L167.3 260.1L167.6 260.9L167.9 261.8L168.3 262.6L168.7 263.4L169.1 264.2L169.6 265L170 265.9L170.5 266.7L171.1 267.5L171.7 268.3L172.3 269.1L172.9 270L173.6 270.8L174.3 271.6L175.1 272.4L175.9 273.2L176.7 274.1L177.5 274.9L178.4 275.7L179.3 276.5L180.1 277.3L180.9 278.2L180.9 278.2L180.5 279L179.4 279.8L177.9 280.6L176.2 281.4L174.3 282.3L172.4 283.1L170.7 283.9L169.1 284.7L167.8 285.5L166.7 286.4L165.8 287.2L165.1 288L163.3 288Z" fill="#c8dee4" stroke="#9bc3cd" stroke-width="1"/>
<path d="M201.8 243.9L201.8 243.9L201.8 244.5L201.8 245L201.8 245.6L201.8 246.1L201.8 246.7L201.8 247.2L201.8 247.8L201.8 248.3L201.8 248.9L201.8 249.4L201.8 250L201.8 250.6L201.8 251.1L201.9 251.7L201.9 252.2L201.9 252.8L201.9 253.3L201.9 253.9L201.9 254.4L201.9 255L201.9 255.5L202 256.1L202 256.7L202 257.2L202 257.8L202 258.3L202.1 258.9L202.1 259.4L202.2 260L202.2 260.5L202.3 261.1L202.3 261.6L202.4 262.2L202.5 262.8L202.5 263.3L202.6 263.9L202.7 264.4L202.9 265L203 265.5L203.1 266.1L203.3 266.6L203.5 267.2L203.7 267.7L203.9 268.3L204.1 268.8L204.4 269.4L204.7 270L205.1 270.5L205.4 271.1L205.9 271.6L206.3 272.2L206.8 272.7L207.4 273.3L208 273.8L208.7 274.4L209.4 274.9L210.2 275.5L211.1 276.1L212 276.6L213 277.2L214.1 277.7L215.2 278.3L216.4 278.8L217.7 279.4L218.9 279.9L220 280.5L220 280.5L219.6 281L218.6 281.6L217.1 282.2L215.4 282.7L213.6 283.3L211.8 283.8L210 284.4L208.4 284.9L207 285.5L205.8 286L204.8 286.6L204 287.1L203.4 287.7L201.8 287.7Z" fill="#b9d0d5" stroke="#80aab2" stroke-width="1"/>
<path d="M240.5 226.8L240.5 226.8L240.5 227.6L240.5 228.3L240.5 229.1L240.5 229.8L240.5 230.6L240.5 231.4L240.5 232.1L240.5 232.9L240.5 233.7L240.5 234.4L240.5 235.2L240.5 235.9L240.5 236.7L240.5 237.5L240.5 238.2L240.5 239L240.5 239.8L240.5 240.5L240.5 241.3L240.5 242L240.5 242.8L240.5 243.6L240.5 244.3L240.5 245.1L240.5 245.9L240.5 246.6L240.5 247.4L240.5 248.1L240.5 248.9L240.5 249.7L240.5 250.4L240.5 251.2L240.5 251.9L240.5 252.7L240.5 253.5L240.5 254.2L240.5 255L240.5 255.8L240.5 256.5L240.5 257.3L240.5 258L240.5 258.8L240.5 259.6L240.5 260.3L240.5 261.1L240.5 261.9L240.5 262.6L240.5 263.4L240.5 264.1L240.6 264.9L240.6 265.7L240.7 266.4L240.8 267.2L240.9 267.9L241.1 268.7L241.4 269.5L241.8 270.2L242.3 271L243 271.8L243.9 272.5L244.9 273.3L246.2 274L247.7 274.8L249.4 275.6L251.2 276.3L253.1 277.1L254.9 277.9L256.5 278.6L257.7 279.4L258.5 280.1L258.6 280.5L258.4 280.9L257 281.7L254.9 282.4L252.5 283.2L250 284L247.7 284.7L245.7 285.5L244.1 286.2L242.9 287L240.5 287Z" fill="#a7c3c5" stroke="#5f9296" stroke-width="1"/>
<path d="M279.3 246.8L279.3 246.8L279.3 247.3L279.3 247.9L279.3 248.4L279.3 249L279.3 249.5L279.3 250L279.3 250.6L279.3 251.1L279.3 251.6L279.3 252.2L279.3 252.7L279.3 253.3L279.3 253.8L279.3 254.3L279.3 254.9L279.3 255.4L279.3 255.9L279.3 256.5L279.3 257L279.3 257.6L279.3 258.1L279.3 258.6L279.3 259.2L279.3 259.7L279.3 260.2L279.3 260.8L279.3 261.3L279.3 261.9L279.3 262.4L279.3 262.9L279.3 263.5L279.3 264L279.4 264.6L279.4 265.1L279.4 265.6L279.5 266.2L279.5 266.7L279.6 267.2L279.7 267.8L279.8 268.3L280 268.9L280.2 269.4L280.4 269.9L280.7 270.5L281.1 271L281.5 271.5L282.1 272.1L282.7 272.6L283.4 273.2L284.2 273.7L285.1 274.2L286 274.8L287.1 275.3L288.3 275.9L289.5 276.4L290.7 276.9L291.9 277.5L293.1 278L294.3 278.5L295.3 279.1L296.2 279.6L296.8 280.2L297.2 280.7L297.3 281L297.2 281.2L296.4 281.8L295.1 282.3L293.5 282.8L291.6 283.4L289.7 283.9L287.9 284.5L286.2 285L284.7 285.5L283.4 286.1L282.4 286.6L281.5 287.1L280.9 287.7L280.4 288.2L280.1 288.8L279.8 289.3L279.3 289.3Z" fill="#94b4b4" stroke="#3d7676" stroke-width="1"/>
<path d="M318 244.5L318 244.5L318 245.1L318 245.6L318 246.2L318 246.8L318 247.3L318 247.9L318 248.4L318 249L318 249.6L318 250.1L318 250.7L318 251.3L318 251.8L318 252.4L318 252.9L318 253.5L318 254.1L318 254.6L318 255.2L318 255.8L318 256.3L318 256.9L318 257.5L318 258L318 258.6L318 259.1L318 259.7L318 260.3L318 260.8L318 261.4L318 262L318.1 262.5L318.1 263.1L318.1 263.7L318.1 264.2L318.2 264.8L318.2 265.3L318.3 265.9L318.4 266.5L318.5 267L318.7 267.6L318.9 268.2L319.1 268.7L319.4 269.3L319.7 269.8L320.1 270.4L320.5 271L321.1 271.5L321.7 272.1L322.4 272.7L323.2 273.2L324.1 273.8L325.1 274.4L326.1 274.9L327.2 275.5L328.3 276L329.5 276.6L330.7 277.2L331.8 277.7L332.9 278.3L333.9 278.9L334.7 279.4L335.3 280L335.8 280.6L335.9 281L335.9 281.1L335.2 281.7L333.9 282.2L332.2 282.8L330.3 283.4L328.3 283.9L326.4 284.5L324.7 285.1L323.2 285.6L321.9 286.2L320.8 286.7L320 287.3L319.4 287.9L319 288.4L318.6 289L318 289Z" fill="#87a4a2" stroke="#245a56" stroke-width="1"/>
<path d="M85.5 258.2V272M85.5 282.6V292.1" stroke="#111" stroke-width="1.6"/>
<rect x="83.6" y="272" width="3.8" height="10.6" fill="#e8f5fc" stroke="#111" stroke-width="1.4"/>
<path d="M83.6 277H87.4" stroke="#111" stroke-width="1.2"/>
<path d="M124.3 256V270.9M124.3 281.5V287.9" stroke="#111" stroke-width="1.6"/>
<rect x="122.4" y="270.9" width="3.8" height="10.6" fill="#dbebf2" stroke="#111" stroke-width="1.4"/>
<path d="M122.4 276H126.2" stroke="#111" stroke-width="1.2"/>
<path d="M163.3 252.9V268.8M163.3 281.5V286.8" stroke="#111" stroke-width="1.6"/>
<rect x="161.4" y="268.8" width="3.8" height="12.7" fill="#d2e4e8" stroke="#111" stroke-width="1.4"/>
<path d="M161.4 275H165.2" stroke="#111" stroke-width="1.2"/>
<path d="M201.8 271V276.8M201.8 282.5V287" stroke="#111" stroke-width="1.6"/>
<rect x="199.9" y="276.8" width="3.8" height="5.7" fill="#c6d9dc" stroke="#111" stroke-width="1.4"/>
<path d="M199.9 279.8H203.7" stroke="#111" stroke-width="1.2"/>
<path d="M240.5 273.4V278.6M240.5 283.2V286" stroke="#111" stroke-width="1.6"/>
<rect x="238.6" y="278.6" width="3.8" height="4.6" fill="#b7ced0" stroke="#111" stroke-width="1.4"/>
<path d="M238.6 281H242.4" stroke="#111" stroke-width="1.2"/>
<path d="M279.3 273V278.6M279.3 283.2V287" stroke="#111" stroke-width="1.6"/>
<rect x="277.4" y="278.6" width="3.8" height="4.6" fill="#a8c1c1" stroke="#111" stroke-width="1.4"/>
<path d="M277.4 281H281.2" stroke="#111" stroke-width="1.2"/>
<path d="M318 273V278.6M318 283.2V287" stroke="#111" stroke-width="1.6"/>
<rect x="316.1" y="278.6" width="3.8" height="4.6" fill="#9cb5b3" stroke="#111" stroke-width="1.4"/>
<path d="M316.1 281H319.9" stroke="#111" stroke-width="1.2"/>
<path d="M85.5 179.5H163.3" stroke="#a8a8a8" stroke-width="1"/>
<path d="M85.5 181.8H201.8" stroke="#a8a8a8" stroke-width="1"/>
<path d="M85.5 184.2H240.5" stroke="#a8a8a8" stroke-width="1"/>
<path d="M85.5 186.4H279.3" stroke="#a8a8a8" stroke-width="1"/>
<path d="M85.5 188.4H318" stroke="#a8a8a8" stroke-width="1"/>
<path d="M124.3 193.2H201.8" stroke="#62bcc6" stroke-width="1"/>
<path d="M124.3 195.8H240.5" stroke="#62bcc6" stroke-width="1"/>
<path d="M124.3 198.1H279.3" stroke="#62bcc6" stroke-width="1"/>
<path d="M124.3 200.3H318" stroke="#62bcc6" stroke-width="1"/>
<path d="M163.3 205.2H201.8" stroke="#62bcc6" stroke-width="1"/>
<path d="M163.3 207.3H240.5" stroke="#62bcc6" stroke-width="1"/>
<path d="M163.3 209.4H279.3" stroke="#62bcc6" stroke-width="1"/>
<path d="M163.3 212H318" stroke="#62bcc6" stroke-width="1"/>
<path d="M201.8 217.3H240.5" stroke="#62bcc6" stroke-width="1"/>
<path d="M201.8 219.4H279.3" stroke="#62bcc6" stroke-width="1"/>
<path d="M201.8 221.5H318" stroke="#62bcc6" stroke-width="1"/>
<rect x="72.4" y="412.8" width="9.2" height="22.6" fill="#cde8f8"/>
<path d="M71.8 421.2h0M72.1 433h0M72.4 414.3h0M72.8 424h0M73 413.8h0M73.1 433h0M71.4 423.6h0M71.6 424.8h0M71.6 432.8h0M71.8 427.9h0M72.7 420.1h0M71.8 433.5h0M71.5 418.5h0M72.1 426h0M72.1 415.3h0M72.5 429.2h0M72.8 423.9h0M72 413h0M72.5 427h0M81 434.5h0M80.5 431.2h0M81.5 433.1h0M81.9 418.1h0M81.9 421.9h0M81.5 434.3h0M81.3 426h0M80.2 426.3h0M80.6 421.6h0M81.6 413.2h0M75.6 413.3h0M76.1 413.3h0M75.9 413.5h0M74.4 413h0M76 412.9h0M76.2 413.3h0M75.5 412.6h0M77 412.5h0M82 412.5h0M77.2 412.6h0M76 411.8h0M74.3 412.4h0M81.5 412.4h0M72.6 411.5h0M78.8 411.8h0M72.9 411.7h0M79.9 411.1h0M76.5 411.4h0M76.7 410.2h0M81.1 410.4h0M75.9 410.8h0M80.3 409.3h0M73.8 409.4h0M81.1 409.1h0M71.6 409h0M72 407.9h0M79.2 407.3h0M77.2 407.1h0M71.4 407.4h0M74.2 407.1h0M78.1 406.3h0M72 406.1h0M82 405.6h0M73.8 404.7h0M76.8 404h0M71.9 402.8h0M75.8 402.8h0M72.3 401.7h0M78 399.2h0M75.5 395.5h0M79.5 435.2h0M73.8 434.6h0M74 434.5h0M75.9 434.9h0M78.1 434.5h0M73.5 434.5h0M74.3 434.6h0M81.4 434.8h0M72.9 435.1h0M74 435.6h0M81.2 436.2h0M81 436.2h0M80 435.8h0M79.6 435.6h0M78.4 435.4h0M81.7 436.3h0M73.2 436.2h0M80.2 435.4h0M77.5 435.8h0M78 436.3h0M79.1 435.6h0M77.4 395h0M72.8 401h0M73.3 398h0M78.6 399.4h0M76.3 386.4h0M79.5 393.3h0M78.4 392.8h0M80.7 401h0M73.3 400.2h0M77.7 395.7h0M74.5 391.1h0M78.1 386.8h0M76.5 389.2h0M71.5 400.8h0M76 393.4h0M76.2 386.7h0" stroke="#cde8f8" stroke-width="2.7" stroke-linecap="round"/>
<rect x="111.2" y="396.5" width="9.2" height="41.4" fill="#afd2e1"/>
<path d="M110.9 403.9h0M111.1 407h0M112 403.9h0M112.1 432.1h0M111 428.5h0M111.4 415.8h0M111.8 430.9h0M110.6 434h0M110.3 396.7h0M111.2 409h0M111 416.3h0M111.1 434.1h0M112 410.8h0M110.8 423.6h0M110.6 413.1h0M111.6 396.7h0M111.7 426.9h0M111 406.8h0M111.3 408.7h0M111.8 421h0M110.8 429.9h0M111.4 402h0M111 416.8h0M112.1 409.8h0M111.1 436.9h0M111.1 430.7h0M110.4 412.8h0M110.6 433.1h0M111.3 405.5h0M110.4 413.9h0M110.4 416.6h0M111.7 409.3h0M110.5 411.5h0M110.5 431.4h0M119.1 427.2h0M119.6 426.7h0M120.4 402.1h0M120.4 435.6h0M120 423.2h0M119.5 403.7h0M120.4 430.5h0M119.3 401.2h0M119.6 422.4h0M119.6 436.4h0M120.5 434.4h0M120.1 427.8h0M120.8 398h0M120 404.2h0M120.5 406.1h0M120.4 410.3h0M120.2 424.6h0M115.7 397.1h0M118 397.1h0M114.1 397.4h0M114.2 397.4h0M118.8 397.3h0M119.1 397.5h0M120.8 397h0M114.2 397.2h0M115.2 396.3h0M119.7 395.9h0M115.7 396h0M115.8 395h0M117.8 393.6h0M120.3 394.5h0M120.6 393.5h0M117.1 394.2h0M118.9 392.8h0M110.9 392.6h0M120.2 392.4h0M120.2 392.3h0M114.3 391.7h0M120 391.9h0M117.6 391.1h0M115.6 391.3h0M119.9 390.3h0M110.7 389.4h0M116.9 387.5h0M117.6 382.9h0M110.8 437.9h0M116.2 437.5h0M114 437.7h0M116.5 385.2h0M118.5 387.2h0M111.7 387.4h0M119.1 384.8h0M113.4 387h0M116.7 387.7h0M111.5 383.3h0M116 385.4h0M115.9 387.8h0M112.3 387.1h0M111.2 381h0M116.8 386.7h0M110.4 386.3h0M112.8 382.3h0M119.9 386.3h0M119.6 382h0" stroke="#afd2e1" stroke-width="2.7" stroke-linecap="round"/>
<rect x="150.5" y="392.8" width="9.2" height="45.1" fill="#9bc3cd"/>
<path d="M151.3 411.3h0M151 431.1h0M149.9 436.5h0M149.7 422.5h0M150 402.5h0M149.8 435.3h0M149.8 434h0M149.8 407.6h0M149.9 437.4h0M149.7 431.6h0M150.1 435.7h0M151 404.7h0M150.5 400.1h0M150.3 394h0M150.9 419.6h0M150 393.4h0M151.4 398.4h0M150.2 393.9h0M150.3 410.9h0M150.6 407.4h0M150 428.2h0M150.1 407.8h0M150.5 405.1h0M151 396.6h0M150.1 411.8h0M150 430.7h0M150.2 411.8h0M150.4 430.2h0M149.9 430.2h0M151.4 404.8h0M149.8 428.4h0M150.1 403.1h0M149.7 420.5h0M151.4 432.5h0M150.7 412.6h0M151.5 422.6h0M151.4 423.8h0M159.6 424.4h0M158.5 404.2h0M158.3 434.9h0M160.2 420.1h0M158.5 398.4h0M159.1 410.4h0M158.6 396.8h0M159.5 428.5h0M158.3 406.8h0M158.8 417.3h0M159.4 411.3h0M159.9 410.4h0M158.8 427.4h0M159.9 432.4h0M158.5 401.7h0M159.1 436.4h0M159.4 420.9h0M158.9 437.5h0M151 393.6h0M158.6 393.4h0M153.6 393.5h0M160 393.4h0M157.9 393.7h0M157.6 393.3h0M151.4 393.5h0M158.4 393.8h0M151.1 392.9h0M150.4 392.6h0M152.7 392.2h0M150.9 392.1h0M150.9 392.1h0M155.7 392.1h0M156.6 392.7h0M153.2 391.3h0M156.1 391.1h0M154.2 391.4h0M152.6 390.4h0M155 390.2h0M157.1 390.6h0M158.1 389.2h0M153.7 389.6h0M156.5 389.8h0M154.9 388.6h0M150.7 386.1h0M153.2 386.1h0M155.8 383.9h0M159.6 382.1h0M154.4 437.2h0M153.1 437.4h0M156.8 436.9h0M160.2 437.3h0M149.6 366.3h0M150.6 384.8h0M153.9 366.7h0M156.9 368.8h0M153.4 384.6h0M154.3 381.4h0M150.4 371.5h0M154.6 366.2h0M157 380.8h0M157.1 382.3h0M154.6 379.8h0M151.7 383.5h0M155.7 368.3h0M157.8 379.7h0M151.2 366.7h0M159.2 365h0" stroke="#9bc3cd" stroke-width="2.7" stroke-linecap="round"/>
<rect x="188.9" y="415.6" width="9.2" height="22.4" fill="#80aab2"/>
<path d="M187.9 429.4h0M188.4 421.2h0M188.9 429.1h0M188.8 431.6h0M189.8 419.4h0M188.4 429.3h0M188.7 422.7h0M188.9 431.2h0M189.7 436.7h0M189.5 423.4h0M189.7 431.5h0M188.2 437h0M188.4 430.9h0M189.3 435.9h0M189.2 437.6h0M188 416.4h0M188.3 428.5h0M188.7 417.4h0M188.3 428.6h0M197.4 432.7h0M197.5 435.3h0M198.1 426.7h0M197.3 420.4h0M197.2 423.6h0M197.3 419.6h0M197.5 418.1h0M198.3 427.9h0M196.8 422.9h0M195.4 416h0M195.1 416.1h0M193.3 415.9h0M192.5 416.1h0M191.8 415.2h0M196.7 414.8h0M195 415.3h0M192.1 414.7h0M194.4 414.8h0M191.8 415.1h0M198.2 414.7h0M194.8 413.6h0M193.8 413.7h0M195 414h0M190.8 412.8h0M190 413.1h0M192.6 413.4h0M192.8 411.6h0M194.4 411.7h0M193.7 411.7h0M197.1 411.7h0M195 412.3h0M190.7 410.6h0M195.1 410.7h0M190 410.7h0M191.3 410.1h0M198.5 410.2h0M193 410.5h0M188.5 409.7h0M196.3 410.5h0M188.4 409.6h0M193.9 408.3h0M191.7 405.9h0M192.2 405.6h0M191.7 404.8h0M198.4 403.8h0M188.1 403.5h0M190.4 402.7h0M191.2 401.9h0M190.1 402.2h0M198 401.7h0M195.7 398.5h0M190.8 398.5h0M190 396.9h0M193.6 394.8h0M196.1 395.2h0M189 394h0M189.9 391.9h0M191.8 437.3h0M196.6 437.2h0M193.7 437.6h0M191.4 437.9h0M191.5 437.3h0M195.3 437.5h0M189.5 390.9h0M195.8 397.4h0M197.1 395.4h0M190.5 396.8h0M191.8 388.6h0M190.3 397.7h0M190.7 390.2h0M196.8 393.4h0M196 392.6h0M191.1 386.5h0M193.8 388.4h0M189.3 397.1h0M191.8 387.3h0" stroke="#80aab2" stroke-width="2.7" stroke-linecap="round"/>
<rect x="228" y="419" width="9.2" height="19" fill="#5f9296"/>
<path d="M227.3 433.7h0M228.1 419.8h0M228.8 430.3h0M227.9 421.7h0M227.9 436.4h0M228.2 427.7h0M228.2 429.5h0M228.2 422.8h0M227.3 419.2h0M228.7 419.1h0M227.5 430.1h0M228 436.1h0M227.4 421.2h0M227.3 428.5h0M227.6 427.7h0M228.4 425.1h0M237 419.4h0M236.8 436.2h0M237.6 429.9h0M237.7 423.5h0M236.3 427.5h0M236.7 434.6h0M236.6 419.9h0M237.1 423.2h0M233.4 419.3h0M227.5 419.6h0M234.9 419.1h0M231.5 419.1h0M236.4 418h0M233.9 418.7h0M236.7 417h0M228.5 417.7h0M231.9 417.5h0M230.2 417.2h0M235 416.3h0M237.2 416.2h0M232.8 415.8h0M227.5 415.5h0M231.7 415.4h0M232.8 415.6h0M228.6 414.1h0M229.9 414.1h0M234.3 414.7h0M233.5 414.4h0M232 414.3h0M230.4 413.6h0M231 411.1h0M228.2 437.2h0M229.4 437.7h0M229.7 437h0M231.5 437.2h0M234.4 437.2h0M233 437.2h0M232.2 437.9h0M230.2 437.5h0M227.7 399.8h0M236 410.9h0M234.3 403.5h0M236 400.8h0M232.2 407.9h0M235.5 395h0M228.3 370.3h0" stroke="#5f9296" stroke-width="2.7" stroke-linecap="round"/>
<rect x="266.6" y="421.5" width="9.2" height="17" fill="#3d7676"/>
<path d="M266.3 429.6h0M266.8 423.9h0M266.7 433.3h0M267.1 425.3h0M266.5 426.6h0M266.4 427.7h0M267.5 421.7h0M267.5 422.1h0M265.8 425h0M266.2 436.1h0M267.3 437.4h0M266.4 421.8h0M266.9 436.8h0M265.8 435.6h0M265.6 433.9h0M275.3 436.9h0M276 422.3h0M275.3 425.6h0M275.2 422.6h0M275 428.4h0M274.3 429.6h0M276.1 422.5h0M267.9 421.8h0M266.3 422.3h0M270.8 422.1h0M275.1 422h0M268.6 422h0M271 421.8h0M268.1 421.9h0M273.5 421.7h0M272.9 421.4h0M268.3 421.3h0M268.9 420.9h0M267 421.4h0M269.6 421.2h0M270.4 420.2h0M267.4 420h0M267.1 419h0M270.5 419.1h0M274.8 419.2h0M267 418.4h0M268.6 417.9h0M275.1 417.7h0M275.4 417.7h0M266.5 418h0M274.3 416.6h0M268.6 416.6h0M273.5 417h0M273.5 416.5h0M271.6 412.6h0M270.2 413.1h0M268.4 412.9h0M265.6 406.6h0M269 406.7h0M266.2 407.4h0M268.3 406.4h0M270.2 437.9h0M275.1 437.7h0M272.6 437.8h0M272.5 438.3h0M274.6 394.2h0M268.6 408.6h0M268.3 411.2h0M274 411.2h0M267.7 411.8h0M273.8 395.3h0M275.1 388.9h0" stroke="#3d7676" stroke-width="2.7" stroke-linecap="round"/>
<rect x="305.3" y="416.8" width="9.2" height="22.9" fill="#245a56"/>
<path d="M305.1 417.8h0M305.9 423.4h0M305.8 417.2h0M304.4 430.5h0M305.7 429.7h0M305.4 430.5h0M304.6 418.3h0M305 429.3h0M304.8 420.9h0M305.2 426.2h0M304.8 438h0M306.2 417.9h0M305.3 422.2h0M305 417.5h0M304.5 417.6h0M304.6 431.7h0M304.5 437.1h0M305.9 423h0M305.7 438.6h0M313.2 429.6h0M313.9 423.9h0M313.6 418.8h0M314.3 421.3h0M313.8 438.1h0M313.7 424h0M314.9 430.2h0M314.1 421.9h0M314.3 425.5h0M305.8 417.1h0M307.8 417h0M307.1 417.1h0M313.5 417.2h0M313.1 416.8h0M306.3 417.8h0M304.8 416.9h0M310.1 416.3h0M313.4 415.9h0M306.8 416.4h0M304.7 416.6h0M314.7 416.1h0M305 415.3h0M304.7 415.8h0M311.1 415.4h0M311 415.2h0M307.7 414.2h0M305.2 414.7h0M307.1 414.3h0M305 414.4h0M307.1 413.5h0M307.9 413.7h0M306.8 413.1h0M311.5 412h0M313.3 412.5h0M306.2 412.1h0M307.9 412.7h0M309.2 412.4h0M304.4 410.9h0M311.7 411.2h0M313.2 411.3h0M311.8 410.2h0M309.6 410.6h0M313.3 409.2h0M314.7 409.6h0M310.2 408.5h0M308.4 407.4h0M308.6 407.5h0M310 407.5h0M314.1 406.6h0M304.5 405.4h0M312.3 403h0M308.2 401.3h0M307.7 397.5h0M313.4 396.6h0M314.8 390.9h0M311.1 403.4h0M310.7 404.7h0M312.3 395.8h0M307.4 392.5h0M313 404.5h0M306.8 405h0M312.6 403.4h0M309.1 390.2h0" stroke="#245a56" stroke-width="2.7" stroke-linecap="round"/>
<path d="M84.4 385.5L85.3 385.5L85.4 386.1L85.4 386.8L85.5 387.4L85.6 388.1L85.6 388.7L85.7 389.4L85.8 390L85.8 390.7L85.9 391.3L86 392L86.1 392.6L86.2 393.3L86.2 393.9L86.3 394.6L86.4 395.2L86.6 395.9L86.7 396.5L86.8 397.2L86.9 397.8L87 398.5L87.2 399.1L87.3 399.8L87.5 400.4L87.6 401.1L87.8 401.7L87.9 402.4L88.1 403L88.3 403.7L88.5 404.3L88.7 405L88.9 405.6L89.1 406.3L89.4 406.9L89.6 407.6L89.8 408.2L90.1 408.9L90.4 409.5L90.7 410.2L90.9 410.8L91.3 411.5L91.6 412.1L91.9 412.8L92.2 413.4L92.6 414.1L93 414.7L93.4 415.4L93.8 416L94.2 416.7L94.6 417.3L95 418L95.5 418.6L96 419.3L96.4 419.9L96.9 420.6L97.4 421.2L98 421.9L98.5 422.5L99 423.2L99.6 423.8L100.1 424.5L100.7 425.1L101.2 425.8L101.8 426.4L102.3 427.1L102.4 427.3L102.2 427.7L101.6 428.4L100.5 429L99.1 429.7L97.6 430.3L95.9 431L94.3 431.6L92.7 432.3L91.3 432.9L90 433.6L88.8 434.2L87.9 434.9L87.1 435.5L86.4 436.2L85.9 436.8L84.4 436.8Z" fill="#e4f2fb" stroke="#cde8f8" stroke-width="1"/>
<path d="M123.2 380.8L124.1 380.8L124.2 381.5L124.2 382.2L124.3 383L124.3 383.7L124.4 384.4L124.5 385.1L124.5 385.9L124.6 386.6L124.7 387.3L124.8 388L124.9 388.8L125 389.5L125.1 390.2L125.2 390.9L125.3 391.7L125.4 392.4L125.5 393.1L125.7 393.8L125.8 394.6L126 395.3L126.1 396L126.3 396.7L126.4 397.5L126.6 398.2L126.8 398.9L127 399.6L127.2 400.3L127.4 401.1L127.7 401.8L127.9 402.5L128.1 403.2L128.4 404L128.7 404.7L129 405.4L129.3 406.1L129.6 406.9L129.9 407.6L130.3 408.3L130.6 409L131 409.8L131.4 410.5L131.8 411.2L132.2 411.9L132.6 412.7L133.1 413.4L133.6 414.1L134.1 414.8L134.6 415.6L135.1 416.3L135.6 417L136.2 417.7L136.8 418.5L137.3 419.2L137.9 419.9L138.6 420.6L139.2 421.3L139.8 422.1L140.4 422.8L141 423.5L141.5 424.2L141.7 424.5L141.6 425L141.2 425.7L140.5 426.4L139.6 427.1L138.5 427.9L137.3 428.6L136.1 429.3L134.8 430L133.6 430.8L132.4 431.5L131.2 432.2L130.1 432.9L129.1 433.7L128.2 434.4L127.4 435.1L126.6 435.8L126 436.6L125.5 437.3L125 438L123.2 438Z" fill="#d3e6ee" stroke="#afd2e1" stroke-width="1"/>
<path d="M162.5 363.8L162.6 363.8L162.6 364.7L162.6 365.7L162.7 366.6L162.7 367.6L162.7 368.5L162.7 369.4L162.7 370.4L162.7 371.3L162.8 372.3L162.8 373.2L162.8 374.1L162.8 375.1L162.9 376L162.9 376.9L162.9 377.9L163 378.8L163 379.8L163.1 380.7L163.1 381.6L163.2 382.6L163.2 383.5L163.3 384.5L163.4 385.4L163.4 386.3L163.5 387.3L163.6 388.2L163.7 389.2L163.8 390.1L163.9 391L164 392L164.1 392.9L164.3 393.9L164.4 394.8L164.6 395.7L164.8 396.7L164.9 397.6L165.1 398.6L165.4 399.5L165.6 400.4L165.8 401.4L166.1 402.3L166.4 403.2L166.7 404.2L167 405.1L167.4 406.1L167.8 407L168.2 407.9L168.6 408.9L169 409.8L169.5 410.8L170 411.7L170.6 412.6L171.2 413.6L171.8 414.5L172.4 415.5L173.1 416.4L173.8 417.3L174.6 418.3L175.4 419.2L176.2 420.2L177 421.1L177.8 422L178.7 423L179.5 423.9L179.9 424.5L179.8 424.9L179.3 425.8L178.4 426.7L177.2 427.7L175.8 428.6L174.3 429.5L172.7 430.5L171.2 431.4L169.8 432.4L168.5 433.3L167.3 434.2L166.3 435.2L165.5 436.1L164.8 437.1L164.2 438L162.5 438Z" fill="#c8dee4" stroke="#9bc3cd" stroke-width="1"/>
<path d="M200.9 386.1L201 386.1L201 386.8L201 387.4L201 388.1L201 388.7L201 389.4L201 390.1L201 390.7L201 391.4L201 392.1L201.1 392.7L201.1 393.4L201.1 394L201.1 394.7L201.1 395.4L201.2 396L201.2 396.7L201.2 397.4L201.3 398L201.3 398.7L201.3 399.3L201.4 400L201.4 400.7L201.5 401.3L201.5 402L201.6 402.7L201.6 403.3L201.7 404L201.8 404.6L201.9 405.3L202 406L202.1 406.6L202.2 407.3L202.3 407.9L202.4 408.6L202.6 409.3L202.7 409.9L202.9 410.6L203.1 411.3L203.2 411.9L203.5 412.6L203.7 413.2L203.9 413.9L204.2 414.6L204.5 415.2L204.8 415.9L205.1 416.6L205.5 417.2L205.9 417.9L206.3 418.5L206.8 419.2L207.2 419.9L207.8 420.5L208.3 421.2L208.9 421.8L209.6 422.5L210.2 423.2L210.9 423.8L211.7 424.5L212.5 425.2L213.3 425.8L214.2 426.5L215.1 427.1L216.1 427.8L217 428.5L217.9 429.1L218.8 429.8L218.9 429.9L218.6 430.5L217.6 431.1L216.1 431.8L214.4 432.4L212.6 433.1L210.7 433.8L208.9 434.4L207.3 435.1L205.9 435.8L204.7 436.4L203.7 437.1L203 437.7L202.4 438.4L200.9 438.4Z" fill="#b9d0d5" stroke="#80aab2" stroke-width="1"/>
<path d="M240 369.1L240 369.1L240 370L240 370.8L240 371.7L240 372.6L240 373.5L240 374.3L240 375.2L240 376.1L240 376.9L240 377.8L240 378.7L240 379.6L240 380.4L240 381.3L240 382.2L240 383.1L240 383.9L240 384.8L240 385.7L240 386.5L240 387.4L240 388.3L240 389.2L240 390L240 390.9L240 391.8L240 392.6L240 393.5L240 394.4L240 395.3L240 396.1L240 397L240 397.9L240.1 398.8L240.1 399.6L240.1 400.5L240.1 401.4L240.1 402.2L240.1 403.1L240.1 404L240.2 404.9L240.2 405.7L240.2 406.6L240.3 407.5L240.4 408.3L240.4 409.2L240.5 410.1L240.6 411L240.7 411.8L240.8 412.7L241 413.6L241.1 414.5L241.3 415.3L241.6 416.2L241.8 417.1L242.2 417.9L242.5 418.8L242.9 419.7L243.4 420.6L244 421.4L244.6 422.3L245.4 423.2L246.2 424L247.2 424.9L248.3 425.8L249.5 426.7L250.8 427.5L252.3 428.4L253.9 429.3L255.7 430.2L257.4 431L258.2 431.5L257.9 431.9L256.1 432.8L253.3 433.6L250.2 434.5L247.3 435.4L244.9 436.3L243.1 437.1L241.8 438L240 438Z" fill="#a7c3c5" stroke="#5f9296" stroke-width="1"/>
<path d="M278.6 387.7L278.6 387.7L278.6 388.3L278.6 389L278.6 389.6L278.6 390.2L278.6 390.9L278.6 391.5L278.6 392.2L278.6 392.8L278.6 393.4L278.6 394.1L278.6 394.7L278.6 395.3L278.6 396L278.6 396.6L278.6 397.3L278.6 397.9L278.6 398.5L278.6 399.2L278.6 399.8L278.6 400.4L278.7 401.1L278.7 401.7L278.7 402.3L278.7 403L278.7 403.6L278.7 404.3L278.7 404.9L278.7 405.5L278.8 406.2L278.8 406.8L278.8 407.4L278.8 408.1L278.9 408.7L278.9 409.3L279 410L279 410.6L279.1 411.3L279.1 411.9L279.2 412.5L279.3 413.2L279.4 413.8L279.5 414.4L279.6 415.1L279.8 415.7L279.9 416.4L280.1 417L280.3 417.6L280.5 418.3L280.8 418.9L281.1 419.5L281.4 420.2L281.7 420.8L282.1 421.4L282.6 422.1L283.1 422.7L283.6 423.4L284.2 424L284.9 424.6L285.7 425.3L286.5 425.9L287.4 426.5L288.4 427.2L289.4 427.8L290.6 428.4L291.8 429.1L293.2 429.7L294.5 430.4L295.9 431L296.8 431.5L296.8 431.6L295.9 432.3L294.3 432.9L292.3 433.5L290 434.2L287.8 434.8L285.7 435.5L283.9 436.1L282.4 436.7L281.3 437.4L280.4 438L278.6 438Z" fill="#94b4b4" stroke="#3d7676" stroke-width="1"/>
<path d="M317.3 389L317.3 389L317.3 389.6L317.3 390.2L317.3 390.9L317.3 391.5L317.3 392.1L317.3 392.7L317.4 393.3L317.4 394L317.4 394.6L317.4 395.2L317.4 395.8L317.4 396.4L317.4 397.1L317.4 397.7L317.4 398.3L317.4 398.9L317.5 399.5L317.5 400.2L317.5 400.8L317.5 401.4L317.5 402L317.6 402.6L317.6 403.3L317.6 403.9L317.7 404.5L317.7 405.1L317.7 405.7L317.8 406.4L317.8 407L317.9 407.6L318 408.2L318 408.8L318.1 409.5L318.2 410.1L318.3 410.7L318.4 411.3L318.5 411.9L318.6 412.6L318.8 413.2L318.9 413.8L319.1 414.4L319.3 415.1L319.4 415.7L319.7 416.3L319.9 416.9L320.2 417.5L320.4 418.2L320.8 418.8L321.1 419.4L321.5 420L321.9 420.6L322.3 421.3L322.8 421.9L323.3 422.5L323.8 423.1L324.4 423.7L325 424.4L325.7 425L326.5 425.6L327.2 426.2L328.1 426.8L329 427.5L329.9 428.1L330.9 428.7L331.9 429.3L333 429.9L334 430.6L335.1 431.2L335.5 431.5L335.3 431.8L334.3 432.4L332.6 433L330.6 433.7L328.4 434.3L326.2 434.9L324.2 435.5L322.5 436.1L321.1 436.8L320 437.4L319.1 438L317.3 438Z" fill="#87a4a2" stroke="#245a56" stroke-width="1"/>
<path d="M84.4 399.9V418.3M84.4 432.1V436.4" stroke="#111" stroke-width="1.6"/>
<rect x="82.5" y="418.3" width="3.8" height="13.8" fill="#e8f5fc" stroke="#111" stroke-width="1.4"/>
<path d="M82.5 426.8H86.3" stroke="#111" stroke-width="1.2"/>
<path d="M123.2 396.5V416.2M123.2 430V438.5" stroke="#111" stroke-width="1.6"/>
<rect x="121.3" y="416.2" width="3.8" height="13.8" fill="#dbebf2" stroke="#111" stroke-width="1.4"/>
<path d="M121.3 423H125.1" stroke="#111" stroke-width="1.2"/>
<path d="M162.5 395V416.2M162.5 430V438" stroke="#111" stroke-width="1.6"/>
<rect x="160.6" y="416.2" width="3.8" height="13.8" fill="#d2e4e8" stroke="#111" stroke-width="1.4"/>
<path d="M160.6 423H164.4" stroke="#111" stroke-width="1.2"/>
<path d="M200.9 414.5V424.8M200.9 433.2V439.5" stroke="#111" stroke-width="1.6"/>
<rect x="199" y="424.8" width="3.8" height="8.4" fill="#c6d9dc" stroke="#111" stroke-width="1.4"/>
<path d="M199 429H202.8" stroke="#111" stroke-width="1.2"/>
<path d="M240 425.9V428.6M240 433.2V438.4" stroke="#111" stroke-width="1.6"/>
<rect x="238.1" y="428.6" width="3.8" height="4.6" fill="#b7ced0" stroke="#111" stroke-width="1.4"/>
<path d="M238.1 431H241.9" stroke="#111" stroke-width="1.2"/>
<path d="M278.6 425V428.6M278.6 433.2V438" stroke="#111" stroke-width="1.6"/>
<rect x="276.7" y="428.6" width="3.8" height="4.6" fill="#a8c1c1" stroke="#111" stroke-width="1.4"/>
<path d="M276.7 431H280.5" stroke="#111" stroke-width="1.2"/>
<path d="M317.3 424.3V428.6M317.3 433.2V438" stroke="#111" stroke-width="1.6"/>
<rect x="315.4" y="428.6" width="3.8" height="4.6" fill="#9cb5b3" stroke="#111" stroke-width="1.4"/>
<path d="M315.4 431H319.2" stroke="#111" stroke-width="1.2"/>
<path d="M84.4 322.4H162.5" stroke="#a8a8a8" stroke-width="1"/>
<path d="M84.4 324.5H200.9" stroke="#a8a8a8" stroke-width="1"/>
<path d="M84.4 326.7H240" stroke="#a8a8a8" stroke-width="1"/>
<path d="M84.4 328.8H278.6" stroke="#a8a8a8" stroke-width="1"/>
<path d="M84.4 330.9H317.3" stroke="#a8a8a8" stroke-width="1"/>
<path d="M123.2 336.2H200.9" stroke="#62bcc6" stroke-width="1"/>
<path d="M123.2 338.3H240" stroke="#62bcc6" stroke-width="1"/>
<path d="M123.2 340.5H278.6" stroke="#62bcc6" stroke-width="1"/>
<path d="M123.2 342.6H317.3" stroke="#62bcc6" stroke-width="1"/>
<path d="M162.5 347.9H200.9" stroke="#62bcc6" stroke-width="1"/>
<path d="M162.5 350H240" stroke="#62bcc6" stroke-width="1"/>
<path d="M162.5 352.1H278.6" stroke="#62bcc6" stroke-width="1"/>
<path d="M162.5 354.2H317.3" stroke="#62bcc6" stroke-width="1"/>
<path d="M200.9 359.5H240" stroke="#62bcc6" stroke-width="1"/>
<path d="M200.9 361.7H278.6" stroke="#62bcc6" stroke-width="1"/>
<path d="M200.9 364.2H317.3" stroke="#62bcc6" stroke-width="1"/>
<rect x="71.3" y="527.8" width="9.2" height="36.2" fill="#cde8f8"/>
<path d="M72 552h0M72 556.3h0M72.1 537.8h0M71 550.5h0M71.5 556h0M71.9 538.8h0M70.5 554.6h0M71.7 537.8h0M70.4 528.6h0M70.8 537.7h0M70.7 529.6h0M70.6 540.5h0M70.5 535.3h0M71.2 558.5h0M72 542.5h0M70.6 537.5h0M71.6 542.5h0M71.4 554.5h0M71.6 558.9h0M70.5 538.5h0M70.4 546.7h0M71.5 537h0M70.4 544.6h0M70.6 534.8h0M71.1 562h0M71 553.5h0M71 542.5h0M70.6 534.5h0M71.8 543.3h0M70.9 563.5h0M80.8 537.4h0M79.9 548.3h0M79.3 543.3h0M79.6 557.1h0M79.2 563.7h0M79.5 539.8h0M79.2 560.8h0M80.7 530.2h0M80.1 541.9h0M80.2 540h0M80.9 535.7h0M80.6 537.5h0M80.3 543.3h0M80.1 546.7h0M80.3 530.3h0M77.2 528.8h0M74.6 528.1h0M74 527.8h0M71.3 527.8h0M79.3 526.9h0M71.7 527.6h0M72.9 527h0M80.4 527h0M79.2 527.1h0M78.1 525.9h0M73.5 525.9h0M77.2 526.5h0M78.3 526.6h0M74.5 526h0M76.9 524.7h0M79.5 524.5h0M78.3 523.2h0M80.4 522h0M79.6 521.4h0M76.8 521.1h0M80.7 563h0M79.8 563.8h0M73.9 563.7h0M74.3 563.6h0M74.9 563.9h0M75.2 563.8h0M76.5 563.4h0M80.6 563.2h0M71.1 564.1h0M78.2 564.4h0M80 564.1h0M72.1 564.8h0M74.8 564.2h0M78.7 564.2h0M80.7 564.3h0M79.5 564.5h0M80.3 564.3h0M80.2 564.3h0M75.1 564.6h0M76.2 564.7h0M78 565.6h0M76.3 565.5h0M77.7 566.9h0M72 566.8h0M73.2 566.1h0M73.2 570.3h0M73.5 520.8h0M72.5 522h0M77.5 521.3h0M78 520.7h0M73.9 520.3h0M72.7 521.7h0M79.1 517.1h0M75.2 566.6h0M72.6 572.6h0M77.8 570.3h0" stroke="#cde8f8" stroke-width="2.7" stroke-linecap="round"/>
<rect x="110.2" y="526" width="9.2" height="41.6" fill="#afd2e1"/>
<path d="M110.8 536h0M110.7 529h0M110.5 539.4h0M110.5 535.4h0M109.9 553.9h0M111.1 540.2h0M109.5 531.2h0M110.5 563.2h0M109.2 540.3h0M109.5 565.7h0M109.5 528.9h0M110.7 567.6h0M110.7 530.8h0M110 547.6h0M111 557.3h0M109.3 544.8h0M110.8 548.6h0M110.5 566.2h0M111.2 560.8h0M110.3 538.8h0M109.5 533h0M110.5 558.2h0M110.9 564h0M109.8 539.9h0M109.6 548.6h0M111.1 557.5h0M110.1 532.6h0M110.9 563.3h0M110.7 538.2h0M110 550.3h0M111 536.1h0M110 528.5h0M109.2 536.1h0M110.8 554.1h0M118.9 543h0M118.4 557.9h0M118.9 528.9h0M119.2 567.3h0M118 567.5h0M118.1 538.8h0M119.9 566.4h0M118.3 556h0M119.1 542.6h0M119.5 552.4h0M118.4 546.4h0M119.3 551.9h0M119 556.7h0M118.2 527.8h0M118 551.8h0M118.8 560.8h0M119.8 530.7h0M110.3 526.6h0M114.3 526.6h0M115.3 526.6h0M117.1 526.1h0M117.2 526.6h0M116.6 526.4h0M110.1 526.9h0M118 527h0M113.6 525.5h0M116.2 525.6h0M118.6 525.8h0M110.3 525.3h0M118.7 525.8h0M109.4 525.6h0M110.6 525.5h0M116.1 524.9h0M112.2 524.7h0M111.9 524.2h0M112.8 524.3h0M119.5 524.2h0M113.7 524.5h0M116.3 523.2h0M118.5 523.6h0M110.7 523.9h0M114.8 523.5h0M118.5 521.1h0M114.9 520.6h0M111 519.9h0M119.9 566.8h0M109.7 567.4h0M111.1 566.9h0M114.7 566.7h0M113.7 567h0M110.1 567.2h0M114 566.8h0M117.6 567h0M109.5 567.5h0M113.6 566.7h0M111 567.8h0M116.4 567.8h0M109.4 567.8h0M118.6 569.4h0M114.2 569.4h0M117.2 570.1h0M117.1 570.3h0M109.9 570.4h0M109.8 514.2h0M112.9 516.1h0M112.8 520.9h0M110.1 516.4h0M109.7 513.9h0M112.7 520.1h0M119.1 520.9h0M118.9 512.2h0M111.9 512.9h0M118.1 569.5h0M112.3 571.2h0" stroke="#afd2e1" stroke-width="2.7" stroke-linecap="round"/>
<rect x="149.2" y="526.9" width="9.2" height="38.9" fill="#9bc3cd"/>
<path d="M148.4 527.1h0M150.1 540.7h0M149.8 543.5h0M148.4 545.4h0M148.5 530h0M148.2 542.5h0M148.7 540h0M150.1 559.2h0M149.6 536.4h0M149.7 554h0M149.3 536.2h0M148.6 543.2h0M148.8 561.3h0M149.1 553.3h0M150 551.1h0M148.5 539.3h0M150 528.7h0M148.6 550.9h0M149.9 558.8h0M149.7 554.2h0M148.9 529.3h0M149.5 529.7h0M149.8 532h0M148.2 565.8h0M148.5 549.5h0M148.3 565.1h0M148.2 553.7h0M149.9 538.4h0M148.2 528.3h0M148.3 556.2h0M149.3 561.8h0M149.5 550h0M157.3 535.6h0M158.9 563.9h0M157.8 557.8h0M158.3 537.7h0M157.3 556h0M158.8 565.2h0M157.6 529.4h0M157.5 529.6h0M158.9 538.8h0M158.6 536.5h0M158.8 545.9h0M158.6 550.2h0M158.4 529.7h0M157.1 540.8h0M158.7 562.3h0M158.3 550.2h0M155.5 527.7h0M149.2 527.6h0M157.9 527.5h0M150 527.8h0M149.3 527.1h0M157.3 527.5h0M153.8 526.6h0M151.7 526h0M152.7 526.8h0M156 526.1h0M157.2 526.6h0M151.3 526.2h0M150.1 526.3h0M155.6 525.7h0M156.3 525.8h0M151.8 525.3h0M150.8 525.8h0M157.9 525.3h0M152.5 525h0M158.6 525.6h0M158.5 525.5h0M153.7 525.6h0M156.8 524.4h0M157.1 524h0M148.2 524h0M152.9 524.3h0M158.5 524.9h0M157.2 522.3h0M153.2 521.2h0M151.8 565h0M154 564.9h0M154 565.2h0M148.3 565.1h0M158.6 565.4h0M148.9 565.4h0M155.7 564.9h0M152.5 565h0M154 565.6h0M153.8 566.6h0M156.4 566.5h0M148.3 566.2h0M150.8 566.3h0M158.4 567.7h0M151.8 569.8h0M155.7 570.2h0M149.7 521.3h0M154.2 518.1h0M149.8 515h0M158.3 516.2h0M149.4 516.9h0M149.1 521.6h0M156.3 520.6h0M153 521.6h0M149.6 515h0M155.5 567.1h0M156.7 570.9h0M150.2 571.8h0" stroke="#9bc3cd" stroke-width="2.7" stroke-linecap="round"/>
<rect x="188.2" y="528.3" width="9.2" height="37.9" fill="#80aab2"/>
<path d="M187.9 548.1h0M188.3 538.6h0M188 558.1h0M188.9 560.5h0M188.3 561.4h0M187.5 565.6h0M187.3 562.4h0M188.8 543.1h0M188.8 564.6h0M187.5 552.9h0M187.2 553.5h0M187.3 553.6h0M187.3 543.6h0M188.9 539.9h0M189.1 546.2h0M187.6 563.8h0M187.5 550.8h0M189.1 564h0M188.3 536.3h0M188.2 539.4h0M187.8 540.3h0M187.6 529.8h0M188.7 528.8h0M188.3 542.2h0M188.5 550.3h0M188.2 557.8h0M188.3 562.4h0M188.4 561.5h0M188.9 555.1h0M187.9 546.7h0M187.4 555.8h0M197.2 559.3h0M196.1 533.2h0M197.2 556h0M196 529.5h0M196.5 541.2h0M196 532h0M196.3 528.8h0M196.2 529.3h0M196.6 556.7h0M197.2 551.2h0M196.8 535.4h0M196 535.3h0M197.8 559.1h0M197 551.5h0M197.4 559.5h0M193.1 529.3h0M195.7 528.5h0M188.5 528.6h0M189 528.4h0M195 528.6h0M190.3 527.8h0M190.5 527.6h0M188.9 528.3h0M189.4 527.6h0M191.6 527.4h0M189.7 527.7h0M193.4 527.8h0M193.9 526.7h0M196.1 526.3h0M193 526.6h0M189.5 527.2h0M188.4 525.5h0M188.1 525.6h0M196.9 525.9h0M193.8 565.4h0M191.2 565.8h0M195.2 566.1h0M189.8 565.4h0M191.5 565.5h0M195.1 566.3h0M196.3 566.4h0M189.9 566.7h0M196.9 566.6h0M192.3 566.6h0M188.4 566.5h0M194.9 567.2h0M191.8 567.6h0M191.9 568.1h0M191 567.2h0M187.8 569.4h0M188.8 570.9h0M193.1 522.1h0M194.7 514.9h0M197.9 520.6h0M192 520.9h0M195.6 516h0M197.5 569.9h0M191.1 568.3h0" stroke="#80aab2" stroke-width="2.7" stroke-linecap="round"/>
<rect x="226.9" y="529.5" width="9.2" height="36.7" fill="#5f9296"/>
<path d="M225.9 538.3h0M227.5 547.4h0M227.6 554.1h0M227 559.1h0M226.9 554h0M226.9 542.4h0M227.4 532.1h0M227.9 564.8h0M227.6 546.7h0M226.8 544.3h0M226.8 537.6h0M227.5 561.8h0M226.9 560.8h0M226.5 561h0M227.8 554.1h0M227.8 556.1h0M227.3 546.9h0M226 534.1h0M227.6 536.2h0M227.3 535.4h0M227.4 564.6h0M227.1 530.9h0M227.4 547h0M227.6 535h0M226.5 563.2h0M227.6 562.9h0M226.9 554.2h0M227.8 553.7h0M226.1 535.2h0M225.9 533.6h0M234.7 543.6h0M235.8 561.1h0M235.4 535.4h0M236.4 563.2h0M236.6 530.4h0M235.8 552.6h0M235.7 536.4h0M236.4 549.2h0M234.7 542.2h0M236.1 536.9h0M236.2 537.2h0M235.5 540.2h0M234.9 561.9h0M235.3 557.1h0M236.4 539.9h0M235.3 529.7h0M233.6 529.5h0M229.2 529.4h0M232.5 529.3h0M231.3 528.7h0M235.7 528.8h0M227.7 529.1h0M231.1 527.6h0M226.8 527.9h0M226 527.7h0M229.8 528.1h0M234.4 527.2h0M233.3 526.8h0M233.2 526.1h0M232 526h0M226.6 524.7h0M236.4 524.9h0M232 524.1h0M229.2 522.7h0M229.5 522.9h0M233.1 522.2h0M227.4 565.3h0M234.9 565.7h0M229.3 565.9h0M233.1 566.2h0M227.2 566.3h0M233.3 566.9h0M228.5 566.5h0M234.2 566.6h0M229.6 567.1h0M230.2 568h0M232.9 568.1h0M229.2 567.7h0M230.3 522.7h0M234.2 520.9h0M232.9 522.2h0M229.2 522.6h0M231.3 520.5h0M232.7 574.5h0M234.6 567.3h0" stroke="#5f9296" stroke-width="2.7" stroke-linecap="round"/>
<rect x="265.5" y="531.8" width="9.2" height="33.2" fill="#3d7676"/>
<path d="M265.8 534.8h0M265.7 560h0M265.9 535.8h0M265.3 538.3h0M265.8 555.4h0M266 543.6h0M265.7 538.7h0M266.4 563h0M264.6 550.5h0M265.9 539.5h0M264.6 531.9h0M265.9 532.2h0M265.3 558.3h0M264.6 555.3h0M265.4 544.7h0M265.5 543.5h0M266.2 554h0M265.3 535.8h0M265.5 565h0M266.3 534.1h0M265.2 547.4h0M265.3 535.5h0M264.9 549.6h0M265.9 555.6h0M265.8 554.2h0M264.5 539h0M265.2 540.3h0M265.3 545.1h0M273.9 532.1h0M274.9 563.6h0M274.4 540.9h0M274.1 562.1h0M274.4 554.9h0M274.6 564.4h0M274.5 535.4h0M274.2 562.4h0M273.5 533.5h0M273.3 534.1h0M273.5 557.4h0M274.4 556.1h0M274.3 543.5h0M274.8 537.4h0M272.5 532.3h0M270 532.4h0M266 532h0M266.4 532.3h0M271.7 532.5h0M266.7 532.1h0M266.1 532.5h0M269 532.1h0M266.9 532.7h0M274.2 531.7h0M269.1 531.7h0M266.4 531.2h0M269.2 531h0M269.7 531.6h0M265.7 531.3h0M270.1 531h0M271.4 531.1h0M272.9 530.6h0M273 530.6h0M270.5 530.7h0M271.5 530.4h0M273.5 530.5h0M272.7 530.7h0M268.7 530.6h0M271 529h0M264.7 529.6h0M272.6 529.5h0M270.7 529.5h0M272.2 529.3h0M271.5 529h0M270.2 529.4h0M265.9 528.5h0M272.8 526.2h0M266.2 525.5h0M266.1 564.9h0M265.8 565h0M273.5 564.4h0M273.7 564.1h0M270.5 564.4h0M267.7 564.9h0M267.6 565.5h0M274.4 565.8h0M265.6 565.3h0M273.7 566.8h0M274.7 566.2h0M267.1 568h0M274.3 525.6h0M270 525.3h0M268.8 525.5h0M273.3 525.6h0M269.3 525.1h0M267 568.3h0M274.4 570h0" stroke="#3d7676" stroke-width="2.7" stroke-linecap="round"/>
<rect x="304.1" y="528.3" width="9.2" height="39.1" fill="#245a56"/>
<path d="M303.3 544.7h0M304 528.8h0M305 564.1h0M303.3 549.9h0M303.7 536.6h0M303.6 530.4h0M304.5 542.6h0M304.5 560.2h0M304.2 541.7h0M303.4 553.8h0M304.4 558.8h0M303.4 530.1h0M304.9 552h0M303.3 556h0M303.2 553h0M304.2 556.3h0M303.3 563.8h0M305 566.8h0M304.6 540.5h0M305.1 552.3h0M304.5 554.2h0M303.5 561.7h0M304.4 536.9h0M303.9 533.9h0M304 567h0M303.9 543.8h0M304.7 531.5h0M303.3 557.5h0M303.4 552.2h0M304.7 550.3h0M303.3 536.4h0M304.2 565.6h0M313.1 555.5h0M313 541h0M313 528.7h0M312.6 560h0M312.2 553.7h0M313.2 534.4h0M313.5 537.8h0M313.7 541.8h0M313 565.4h0M313.4 547.3h0M312.2 552.3h0M313 530.8h0M312.6 564.3h0M312.9 535.4h0M313.1 546h0M313.6 547.5h0M313.3 528.7h0M306.8 529.3h0M310.6 527.5h0M305 527.6h0M304.5 528h0M306.1 527.7h0M306 527.7h0M306.4 527.7h0M304.4 527.2h0M303.5 526.6h0M312.3 526.4h0M305.4 526.6h0M309.2 526.1h0M309.1 525.8h0M307.8 525.6h0M304.8 525.2h0M308.5 524.9h0M309.8 525.1h0M312.1 525h0M303.2 525.1h0M311.4 522.9h0M304.4 521.2h0M305 518.2h0M312.9 567.2h0M305.3 566.6h0M307.3 567.2h0M308.6 566.7h0M311.3 566.6h0M310.7 567.2h0M304.2 567h0M313.7 567.8h0M305.7 567.6h0M310.5 568h0M305.7 567.9h0M306.2 568.2h0M306.9 568h0M312.9 567.6h0M313.3 567.9h0M303.3 569.3h0M309.2 569h0M309.5 568.4h0M306.2 568.5h0M310.1 569.3h0M310.2 569.2h0M307.5 569.6h0M311.9 515.8h0M305.6 509.4h0M311.3 510.3h0M313.5 516.3h0M303.4 516.9h0M306.4 520.6h0M310.2 510.3h0M309.2 574h0M303.3 569.6h0M309 573.7h0" stroke="#245a56" stroke-width="2.7" stroke-linecap="round"/>
<path d="M83.3 515.9L84.3 515.9L84.4 516.6L84.6 517.4L84.7 518.1L84.9 518.9L85.1 519.6L85.4 520.3L85.6 521.1L85.9 521.8L86.2 522.5L86.5 523.3L86.8 524L87.2 524.8L87.6 525.5L88 526.2L88.4 527L88.9 527.7L89.4 528.4L89.9 529.2L90.4 529.9L91 530.7L91.6 531.4L92.2 532.1L92.8 532.9L93.4 533.6L94.1 534.3L94.7 535.1L95.4 535.8L96 536.6L96.6 537.3L97.3 538L97.9 538.8L98.4 539.5L99 540.3L99.5 541L100 541.7L100.4 542.5L100.7 543.2L101 543.9L101.2 544.7L101.4 545.4L101.4 545.9L101.4 546.2L101.3 546.9L101 547.6L100.7 548.4L100.3 549.1L99.8 549.8L99.3 550.6L98.7 551.3L98 552.1L97.4 552.8L96.7 553.5L96 554.3L95.2 555L94.5 555.8L93.8 556.5L93.1 557.2L92.4 558L91.7 558.7L91.1 559.4L90.4 560.2L89.8 560.9L89.2 561.7L88.7 562.4L88.2 563.1L87.7 563.9L87.3 564.6L86.9 565.3L86.5 566.1L86.1 566.8L85.8 567.6L85.5 568.3L85.3 569L85 569.8L84.8 570.5L84.6 571.2L84.4 572L84.3 572.7L84.2 573.5L84 574.2L83.3 574.2Z" fill="#e4f2fb" stroke="#cde8f8" stroke-width="1"/>
<path d="M122.2 511.7L122.8 511.7L122.9 512.5L123 513.3L123.1 514L123.2 514.8L123.4 515.6L123.5 516.4L123.7 517.1L123.9 517.9L124.1 518.7L124.3 519.5L124.5 520.3L124.8 521L125.1 521.8L125.3 522.6L125.7 523.4L126 524.2L126.4 524.9L126.8 525.7L127.2 526.5L127.6 527.3L128.1 528L128.6 528.8L129.1 529.6L129.6 530.4L130.2 531.2L130.8 531.9L131.4 532.7L132 533.5L132.6 534.3L133.2 535.1L133.8 535.8L134.5 536.6L135.1 537.4L135.7 538.2L136.3 538.9L136.9 539.7L137.5 540.5L138 541.3L138.5 542.1L139 542.8L139.4 543.6L139.8 544.4L140.1 545.2L140.3 546L140.5 546.7L140.6 547.5L140.6 547.7L140.5 548.3L140.4 549.1L140 549.8L139.6 550.6L139.2 551.4L138.6 552.2L138 553L137.3 553.7L136.6 554.5L135.9 555.3L135.1 556.1L134.3 556.9L133.6 557.6L132.8 558.4L132 559.2L131.3 560L130.6 560.7L129.9 561.5L129.2 562.3L128.6 563.1L128 563.9L127.4 564.6L126.9 565.4L126.4 566.2L126 567L125.5 567.8L125.2 568.5L124.8 569.3L124.5 570.1L124.2 570.9L124 571.6L123.7 572.4L123.5 573.2L122.2 573.2Z" fill="#d3e6ee" stroke="#afd2e1" stroke-width="1"/>
<path d="M161.2 513.8L161.7 513.8L161.8 514.6L161.9 515.4L162 516.1L162.1 516.9L162.2 517.7L162.3 518.5L162.5 519.2L162.7 520L162.8 520.8L163.1 521.6L163.3 522.4L163.5 523.1L163.8 523.9L164.1 524.7L164.4 525.5L164.8 526.3L165.2 527L165.6 527.8L166 528.6L166.4 529.4L166.9 530.1L167.4 530.9L168 531.7L168.5 532.5L169.1 533.3L169.7 534L170.3 534.8L171 535.6L171.6 536.4L172.3 537.2L172.9 537.9L173.6 538.7L174.3 539.5L174.9 540.3L175.5 541L176.1 541.8L176.7 542.6L177.2 543.4L177.7 544.2L178.1 544.9L178.5 545.7L178.8 546.5L179 547.3L179.2 548.1L179.2 548.6L179.2 548.8L179.1 549.6L178.8 550.4L178.5 551.2L178 551.9L177.5 552.7L176.9 553.5L176.3 554.3L175.6 555.1L174.9 555.8L174.2 556.6L173.4 557.4L172.7 558.2L171.9 559L171.2 559.7L170.4 560.5L169.7 561.3L169 562.1L168.4 562.8L167.7 563.6L167.1 564.4L166.6 565.2L166 566L165.5 566.7L165.1 567.5L164.7 568.3L164.3 569.1L163.9 569.9L163.6 570.6L163.3 571.4L163 572.2L162.8 573L162.6 573.7L162.4 574.5L162.2 575.3L161.2 575.3Z" fill="#c8dee4" stroke="#9bc3cd" stroke-width="1"/>
<path d="M200.2 514.8L200.6 514.8L200.7 515.5L200.8 516.2L200.8 517L200.9 517.7L201.1 518.4L201.2 519.1L201.3 519.8L201.5 520.6L201.6 521.3L201.8 522L202.1 522.7L202.3 523.4L202.5 524.1L202.8 524.9L203.1 525.6L203.5 526.3L203.8 527L204.2 527.7L204.6 528.5L205.1 529.2L205.5 529.9L206 530.6L206.6 531.3L207.1 532.1L207.7 532.8L208.3 533.5L208.9 534.2L209.6 534.9L210.2 535.7L210.9 536.4L211.6 537.1L212.3 537.8L212.9 538.5L213.6 539.2L214.2 540L214.9 540.7L215.5 541.4L216 542.1L216.6 542.8L217.1 543.6L217.5 544.3L217.8 545L218.1 545.7L218.3 546.4L218.4 547.2L218.4 547.3L218.3 547.9L218.1 548.6L217.8 549.3L217.4 550L216.9 550.7L216.3 551.5L215.6 552.2L214.9 552.9L214.2 553.6L213.4 554.3L212.6 555.1L211.8 555.8L211.1 556.5L210.3 557.2L209.5 557.9L208.8 558.7L208 559.4L207.3 560.1L206.7 560.8L206.1 561.5L205.5 562.3L204.9 563L204.4 563.7L204 564.4L203.5 565.1L203.1 565.8L202.8 566.6L202.5 567.3L202.2 568L201.9 568.7L201.7 569.4L201.5 570.2L201.3 570.9L201.1 571.6L200.2 571.6Z" fill="#b9d0d5" stroke="#80aab2" stroke-width="1"/>
<path d="M238.9 519.3L239.7 519.3L239.8 520L239.9 520.7L240.1 521.4L240.2 522.1L240.4 522.8L240.6 523.5L240.9 524.2L241.1 524.9L241.4 525.6L241.7 526.4L242 527.1L242.4 527.8L242.8 528.5L243.2 529.2L243.6 529.9L244.1 530.6L244.6 531.3L245.1 532L245.7 532.7L246.3 533.4L246.9 534.1L247.6 534.8L248.2 535.5L248.9 536.2L249.6 536.9L250.3 537.6L251 538.3L251.6 539L252.3 539.7L253 540.5L253.6 541.2L254.2 541.9L254.8 542.6L255.3 543.3L255.8 544L256.2 544.7L256.5 545.4L256.8 546.1L257 546.8L257 547.3L257 547.5L256.9 548.2L256.6 548.9L256.3 549.6L255.9 550.3L255.4 551L254.9 551.7L254.3 552.4L253.6 553.1L252.9 553.8L252.2 554.6L251.5 555.3L250.8 556L250.1 556.7L249.3 557.4L248.6 558.1L247.9 558.8L247.2 559.5L246.6 560.2L245.9 560.9L245.3 561.6L244.8 562.3L244.2 563L243.7 563.7L243.2 564.4L242.8 565.1L242.4 565.8L242 566.5L241.7 567.2L241.3 567.9L241.1 568.7L240.8 569.4L240.6 570.1L240.3 570.8L240.2 571.5L240 572.2L239.8 572.9L239.7 573.6L239.6 574.3L239.5 575L238.9 575Z" fill="#a7c3c5" stroke="#5f9296" stroke-width="1"/>
<path d="M277.5 523.9L278.7 523.9L278.8 524.5L279 525.2L279.2 525.8L279.4 526.4L279.7 527.1L280 527.7L280.3 528.3L280.6 529L280.9 529.6L281.3 530.2L281.7 530.9L282.2 531.5L282.7 532.1L283.2 532.8L283.7 533.4L284.3 534L284.8 534.7L285.5 535.3L286.1 535.9L286.7 536.6L287.4 537.2L288.1 537.8L288.8 538.5L289.5 539.1L290.2 539.7L290.9 540.4L291.5 541L292.2 541.6L292.8 542.3L293.4 542.9L293.9 543.5L294.4 544.2L294.8 544.8L295.2 545.4L295.4 546.1L295.6 546.7L295.7 547.3L295.7 547.3L295.6 548L295.4 548.6L295.1 549.2L294.8 549.8L294.4 550.5L293.9 551.1L293.3 551.7L292.7 552.4L292.1 553L291.5 553.6L290.8 554.3L290.1 554.9L289.4 555.5L288.7 556.2L288 556.8L287.3 557.4L286.7 558.1L286 558.7L285.4 559.3L284.8 560L284.2 560.6L283.6 561.2L283.1 561.9L282.6 562.5L282.1 563.1L281.7 563.8L281.3 564.4L280.9 565L280.5 565.7L280.2 566.3L279.9 566.9L279.6 567.6L279.4 568.2L279.2 568.8L279 569.5L278.8 570.1L278.6 570.7L278.5 571.4L278.4 572L278.2 572.6L278.1 573.3L278.1 573.9L277.5 573.9Z" fill="#94b4b4" stroke="#3d7676" stroke-width="1"/>
<path d="M316.1 509.1L316.3 509.1L316.3 510L316.4 510.9L316.4 511.7L316.5 512.6L316.5 513.5L316.6 514.4L316.7 515.2L316.8 516.1L317 517L317.1 517.9L317.3 518.7L317.5 519.6L317.7 520.5L317.9 521.4L318.2 522.3L318.5 523.1L318.8 524L319.2 524.9L319.6 525.8L320 526.6L320.5 527.5L321 528.4L321.6 529.3L322.2 530.2L322.8 531L323.5 531.9L324.2 532.8L324.9 533.7L325.7 534.5L326.4 535.4L327.2 536.3L328 537.2L328.8 538L329.6 538.9L330.3 539.8L331 540.7L331.7 541.6L332.3 542.4L332.9 543.3L333.4 544.2L333.8 545.1L334.1 545.9L334.3 546.8L334.3 547.3L334.3 547.7L334.1 548.6L333.7 549.5L333.2 550.3L332.6 551.2L331.9 552.1L331.1 553L330.2 553.8L329.4 554.7L328.4 555.6L327.5 556.5L326.6 557.3L325.7 558.2L324.8 559.1L324 560L323.2 560.9L322.5 561.7L321.7 562.6L321.1 563.5L320.5 564.4L319.9 565.2L319.4 566.1L319 567L318.6 567.9L318.2 568.8L317.9 569.6L317.6 570.5L317.4 571.4L317.2 572.3L317 573.1L316.9 574L316.7 574.9L316.6 575.8L316.5 576.6L316.4 577.5L316.4 578.4L316.1 578.4Z" fill="#87a4a2" stroke="#245a56" stroke-width="1"/>
<path d="M83.3 524.4V540.9M83.3 552V567.9" stroke="#111" stroke-width="1.6"/>
<rect x="81.4" y="540.9" width="3.8" height="11.1" fill="#e8f5fc" stroke="#111" stroke-width="1.4"/>
<path d="M81.4 546H85.2" stroke="#111" stroke-width="1.2"/>
<path d="M122.2 524.4V541.4M122.2 554.1V572.1" stroke="#111" stroke-width="1.6"/>
<rect x="120.3" y="541.4" width="3.8" height="12.7" fill="#dbebf2" stroke="#111" stroke-width="1.4"/>
<path d="M120.3 547.5H124.1" stroke="#111" stroke-width="1.2"/>
<path d="M161.2 525V542.4M161.2 554.1V570" stroke="#111" stroke-width="1.6"/>
<rect x="159.3" y="542.4" width="3.8" height="11.7" fill="#d2e4e8" stroke="#111" stroke-width="1.4"/>
<path d="M159.3 548H163.1" stroke="#111" stroke-width="1.2"/>
<path d="M200.2 526.8V542M200.2 554.5V570.5" stroke="#111" stroke-width="1.6"/>
<rect x="198.3" y="542" width="3.8" height="12.5" fill="#c6d9dc" stroke="#111" stroke-width="1.4"/>
<path d="M198.3 548H202.1" stroke="#111" stroke-width="1.2"/>
<path d="M238.9 520V542M238.9 554V572.7" stroke="#111" stroke-width="1.6"/>
<rect x="237" y="542" width="3.8" height="12" fill="#b7ced0" stroke="#111" stroke-width="1.4"/>
<path d="M237 548H240.8" stroke="#111" stroke-width="1.2"/>
<path d="M277.5 524.5V544.3M277.5 554V568.2" stroke="#111" stroke-width="1.6"/>
<rect x="275.6" y="544.3" width="3.8" height="9.7" fill="#a8c1c1" stroke="#111" stroke-width="1.4"/>
<path d="M275.6 549H279.4" stroke="#111" stroke-width="1.2"/>
<path d="M316.1 527.3V542M316.1 554.5V572" stroke="#111" stroke-width="1.6"/>
<rect x="314.2" y="542" width="3.8" height="12.5" fill="#9cb5b3" stroke="#111" stroke-width="1.4"/>
<path d="M314.2 548H318" stroke="#111" stroke-width="1.2"/>
<path d="M84.6 473.4H201.5" stroke="#a8a8a8" stroke-width="1"/>
<path d="M84.6 475.5H240.2" stroke="#a8a8a8" stroke-width="1"/>
<path d="M84.6 477.5H278.8" stroke="#a8a8a8" stroke-width="1"/>
<path d="M84.6 479.8H317.4" stroke="#a8a8a8" stroke-width="1"/>
<rect x="71.3" y="689.6" width="9.2" height="23.4" fill="#cde8f8"/>
<path d="M71.2 694.7h0M70.9 707.4h0M71.7 695.4h0M72.2 690.6h0M70.8 699.9h0M71.9 702.8h0M71.7 711.9h0M71 693.8h0M71.1 702.8h0M70.6 690.5h0M71.8 712.7h0M72.2 698.4h0M71.2 709h0M72.3 697.9h0M72.2 705.9h0M70.6 700.1h0M70.3 699.1h0M71.3 708.3h0M71 704.8h0M71.6 701.9h0M80.2 700.4h0M80.2 700.4h0M80.8 692.2h0M80.7 707h0M79 706.4h0M79.7 701.5h0M80 706.8h0M80 704.5h0M79.4 691.3h0M80.3 712.7h0M78.8 689.9h0M73.9 690.2h0M71.4 690.6h0M76.8 690.6h0M72.2 690.3h0M72.5 689.7h0M73.4 689.4h0M77.6 689.3h0M80.2 689.5h0M72.6 689.6h0M75.9 689.2h0M73.3 689h0M77.7 688.3h0M76.9 687.7h0M76.3 688h0M79 687.6h0M79.9 687.4h0M74.6 687.5h0M76.3 686.8h0M80.7 686.5h0M75.7 686.5h0M72.2 686h0M72.1 686.3h0M78.5 685.2h0M72.7 685.5h0M74.3 684.3h0M76.6 682.7h0M80.7 682.2h0M75.7 681h0M77.8 712.6h0M77.5 712.6h0M78.2 712.4h0M80.3 712.6h0M73.9 712.6h0M77.6 712.9h0M77.1 712.5h0M74.1 712.4h0M73.4 712.6h0M79.5 712.6h0M77.7 713.9h0M80.4 713.6h0M80.1 713.4h0M81 714h0M78.4 714.2h0M76.1 714.4h0M79.7 714.3h0M77.9 715.1h0M78.6 715.9h0M73.6 718h0M80 681.3h0M75.2 677.7h0M76.7 680.6h0M70.4 678.7h0M80.7 678.9h0M75 681h0M79.6 678.8h0M74.7 716.6h0M79.5 717.7h0M77.2 715.7h0" stroke="#cde8f8" stroke-width="2.7" stroke-linecap="round"/>
<rect x="110.2" y="687" width="9.2" height="26" fill="#afd2e1"/>
<path d="M110.6 696.6h0M110.8 699.8h0M111 701.2h0M110.9 698.5h0M110.5 693.9h0M110.4 704.2h0M109.6 701.1h0M111 692.2h0M110.2 708.8h0M110.1 687.8h0M110.3 699h0M111.1 704.3h0M110.8 696.6h0M111 708.5h0M109.4 704.2h0M111 703.9h0M111.1 693.8h0M110.4 700.9h0M109.8 707.3h0M110.1 703.9h0M110.8 705.9h0M109.4 688.4h0M119.5 703.9h0M118.2 690.4h0M118.9 691.6h0M119.8 692.8h0M119.8 705.6h0M119 704.4h0M119.3 694.4h0M118.9 688.7h0M118 711.5h0M119.6 706.6h0M118.1 703.2h0M114.2 687.3h0M113.9 687.6h0M113.7 687.9h0M118.6 687.8h0M111.4 686.7h0M118.4 686.4h0M114.9 686.7h0M115.4 686.5h0M116 686.7h0M117.8 686.6h0M116.3 686.2h0M118.7 685.1h0M116.5 685.2h0M115.9 685.8h0M110.4 684.7h0M109.8 684.9h0M111.2 684.7h0M114 684.6h0M118 683.8h0M119.6 712.6h0M119.6 712.7h0M111.5 712.6h0M117.4 712.4h0M111 712.4h0M117.6 712.2h0M109.3 712.9h0M119.6 712.9h0M117.8 712.7h0M115.1 712.7h0M117.2 712.3h0M111.4 712.7h0M110.7 713.6h0M119.5 713.1h0M110.9 713.7h0M112.4 713h0M118.7 713.1h0M110.1 714.6h0M114.9 714.2h0M111 714.4h0M112.3 714.4h0M113 714.8h0M112.3 715.9h0M116.2 715.8h0M119.6 682.2h0M113.2 679.1h0M110.3 682.1h0M110.5 676.2h0" stroke="#afd2e1" stroke-width="2.7" stroke-linecap="round"/>
<rect x="149.2" y="683.3" width="9.2" height="31.7" fill="#9bc3cd"/>
<path d="M148.6 693.1h0M149.3 695.9h0M148.3 687.9h0M148.2 684.6h0M148.8 703.5h0M148.5 711.3h0M150.2 702.8h0M148.3 689.1h0M149.2 712.9h0M150.2 706.7h0M150 686.4h0M149.2 698.5h0M148.6 701.2h0M149.3 714.1h0M148.3 692.8h0M148.5 690.4h0M148.8 695h0M150.1 693.7h0M149.2 688.6h0M148.6 690.2h0M149.3 692.8h0M148.8 699.9h0M148.2 710.7h0M148.3 696.3h0M150.2 688.6h0M148.3 698.7h0M158.2 695.4h0M157.3 705.2h0M158.1 694.3h0M158.1 709.9h0M157.9 695.6h0M158.1 699.3h0M157.1 711.9h0M157.1 706.8h0M157.8 708.1h0M157.9 709.3h0M157.8 691.1h0M158.4 709.5h0M157.9 712.8h0M158.3 684h0M148.8 683.6h0M154.2 683.5h0M153.2 684h0M149.1 683.6h0M157.6 683.3h0M149.4 684.1h0M155.4 683.8h0M157.4 683.5h0M148.3 684.1h0M155 683.6h0M148.9 682.4h0M151.5 682.9h0M155.7 683h0M157.6 683h0M155.4 682.9h0M150.4 682.2h0M152.5 681.9h0M150.5 681.8h0M148.5 681.9h0M158.4 682h0M156.8 714.4h0M154.9 714.6h0M156.6 714h0M149.2 714.3h0M150.4 714.7h0M149.4 714.1h0M153.9 714.1h0M156.7 714.3h0M151.4 714.6h0M158.6 714.3h0M151.5 715.3h0M156.2 715.7h0M156.2 715.4h0M152.8 715.9h0M148.7 715h0" stroke="#9bc3cd" stroke-width="2.7" stroke-linecap="round"/>
<rect x="187.5" y="683.6" width="9.2" height="30.8" fill="#80aab2"/>
<path d="M186.5 708.8h0M187.5 705h0M187.8 708.6h0M187.6 693.7h0M186.7 696.3h0M186.9 712.1h0M188 692.4h0M187.5 698.1h0M187.7 712.8h0M187.1 702.5h0M187.5 713h0M186.9 703.6h0M186.7 700.3h0M188.4 705.8h0M186.6 713.9h0M187.6 701.5h0M188.4 701.6h0M186.9 696.8h0M188 695.8h0M186.8 695.6h0M186.7 686.7h0M186.7 699.3h0M187.1 689.1h0M188 702.4h0M188.1 688.6h0M187.7 691.7h0M196.2 697.3h0M196.4 701.2h0M197 702.8h0M195.9 708.1h0M195.5 707.5h0M196.4 691.6h0M196.7 687.1h0M195.3 692h0M196.2 703h0M195.8 701.4h0M197.2 714.4h0M196.6 692.9h0M196.2 708.5h0M192.6 683.8h0M187.6 684h0M189.4 683.8h0M196.8 684.3h0M190.7 684.6h0M187.6 683.9h0M196 684.6h0M195 683.8h0M192.6 683.7h0M187.2 684.5h0M194.1 682.2h0M196.7 680.8h0M192.5 678.9h0M189.1 713.6h0M196.4 713.5h0M195.4 713.9h0M186.9 713.6h0M193.5 714h0M195.5 714.8h0M191.3 715.2h0M197.2 715.3h0M194.8 714.8h0M194.1 714.6h0M189.2 714.6h0M193.8 715.3h0M189.2 715.7h0M187.4 715.8h0M190.1 715.9h0M193.5 716.3h0M195.2 716h0M192.8 716.5h0M194.9 649.2h0M193.7 717.4h0M196.5 715.7h0" stroke="#80aab2" stroke-width="2.7" stroke-linecap="round"/>
<rect x="226.2" y="684.7" width="9.2" height="29.7" fill="#5f9296"/>
<path d="M225.8 699.8h0M227.1 687h0M226.4 712h0M225.5 705.6h0M226.6 695.4h0M226.3 712.5h0M226.1 698.3h0M226.3 685.6h0M226.8 686.2h0M227.2 713.5h0M226.8 711.3h0M226.4 693.8h0M226.4 704.9h0M225.5 707.7h0M225.8 699.9h0M225.7 693.1h0M227 707.6h0M225.3 707.6h0M227 705.6h0M226.6 692.5h0M226.6 696h0M227 705.6h0M225.8 710.9h0M226.7 690.7h0M225.6 685.1h0M235.4 687.3h0M234.5 706.6h0M234.5 693.2h0M234 686.2h0M235 688.8h0M235.8 685.5h0M234.5 690.2h0M235.7 707h0M234.1 686.4h0M234.1 706.7h0M235.4 703.5h0M234.9 698.5h0M235.7 685.6h0M233.2 685.5h0M230.1 685.6h0M232.6 685.1h0M232.5 684.8h0M229.4 685.5h0M225.7 684.3h0M227.2 684.3h0M229.8 684.1h0M234.7 683.8h0M231.2 684.1h0M226.8 684.1h0M234.5 683.9h0M233.8 683.1h0M227.4 682.9h0M235.7 683.6h0M230.2 683h0M234.4 681.7h0M232.5 713.9h0M228.2 713.9h0M232 713.7h0M234 714.1h0M233.3 714.1h0M227.7 714.1h0M227.1 713.5h0M230 714.5h0M231 715h0M230.4 714.4h0M232.7 714.9h0M231.3 715.1h0M227.1 715.8h0M234.9 716.4h0M230.3 715.7h0M228.7 716.3h0M234.1 716.9h0M225.4 719.4h0M229.7 676.9h0M233.2 678h0M235.7 679.7h0M231.1 677.6h0M225.8 719.5h0M225.4 725.6h0M232.3 717.9h0" stroke="#5f9296" stroke-width="2.7" stroke-linecap="round"/>
<rect x="265.5" y="683.6" width="9.2" height="28.4" fill="#3d7676"/>
<path d="M266.1 706.2h0M265.9 690.3h0M264.7 707.9h0M266.3 693.4h0M265.3 695.1h0M265.1 710.2h0M265.6 703.7h0M265.7 686.1h0M264.6 687.8h0M265.5 701.4h0M266.5 709.2h0M266 694.5h0M265.2 703.4h0M265.2 705.3h0M266 687h0M266.1 686.3h0M265.1 711.3h0M265.8 707.9h0M266.4 691.1h0M266.1 694.2h0M264.6 686.6h0M264.8 701.5h0M265.8 707.7h0M265.1 705.3h0M273.7 692.5h0M274.5 694.7h0M275.2 692.6h0M273.7 708.6h0M274.9 688.2h0M273.9 698.1h0M273.3 694.1h0M274.7 705.4h0M273.5 692.2h0M273.7 703h0M273.5 711.6h0M273.4 698.6h0M268.6 684.1h0M270.1 683.6h0M268 684.2h0M272.1 684h0M272.5 684.1h0M268.5 683.8h0M273 684.5h0M272.3 683.8h0M272.1 684.1h0M274.4 683.6h0M271.9 683.1h0M267.1 682.7h0M268.8 683.2h0M269.6 682.6h0M273 681.8h0M265.1 682h0M269.3 681.8h0M274.7 681.8h0M265.8 682.3h0M268.9 680.9h0M271.4 679.7h0M266.2 679h0M272.8 678.7h0M271.6 678.9h0M274.3 679h0M272.4 675.1h0M266.2 711.3h0M270 711.9h0M272 711.5h0M272.2 711.4h0M265 711.7h0M272 711.7h0M267.7 712.9h0M270.9 713h0M266.7 712.6h0M270.9 712h0M271.2 712.4h0M269.1 712.2h0M270.9 712.7h0M274 712.8h0M270.6 713.3h0M270.2 713.8h0M265.1 713.9h0M264.9 713.5h0M266.8 713h0M265.4 714.8h0M268.3 716.1h0M272.8 677.8h0M269.4 675.6h0M269 677.9h0M265.6 672.6h0M272.7 716.2h0M266 715h0" stroke="#3d7676" stroke-width="2.7" stroke-linecap="round"/>
<rect x="304.1" y="683.6" width="9.2" height="30.8" fill="#245a56"/>
<path d="M303.5 705.5h0M303.5 688.9h0M303.7 713.5h0M304.7 696h0M304.7 694.7h0M303.5 711.2h0M303.2 708h0M305 686.2h0M304.8 707.6h0M303.2 697.3h0M303.6 695.4h0M303.9 695.8h0M303.1 692h0M303.7 703.6h0M304.5 706.7h0M304.4 711.1h0M304.2 693.3h0M303.2 706h0M304.2 688.6h0M304.1 712.7h0M304.3 693.1h0M304.7 695.8h0M303.1 686.1h0M305 686.5h0M304.7 684.5h0M303.9 692.3h0M312.5 686.4h0M312.6 707h0M312.8 687.7h0M313.4 710.4h0M312.7 694.7h0M311.8 685.8h0M312.6 687.1h0M313.7 703.4h0M312.4 701.6h0M312.1 711.9h0M312.8 705.1h0M312.2 698.2h0M313.2 695.5h0M309.9 684.1h0M306.9 684.5h0M304.1 684.1h0M306.4 684.6h0M311.5 683.8h0M304.5 683.6h0M305 684.5h0M305 683.2h0M304.6 683.5h0M303.6 683.6h0M305.4 682.8h0M307.6 683.2h0M313.6 683.1h0M307.2 682h0M304.4 682.4h0M306.1 681.7h0M304.3 681.6h0M311.2 682.1h0M313.4 681h0M305.3 713.5h0M308.1 713.5h0M309 714.3h0M313.6 713.4h0M310.4 713.5h0M312.3 713.4h0M304.2 713.7h0M303.2 714.1h0M305.3 714.1h0M313.3 713.9h0M308.1 714.4h0M306.5 714.3h0M310.7 713.4h0M306.3 714.1h0M310.6 714.9h0M306.4 714.7h0M307.8 714.8h0M311.2 715.2h0M311.6 715.2h0M307 714.8h0M312.1 714.6h0M310.6 714.9h0M313.3 716.3h0M308.5 716.1h0M304.1 715.9h0M309.4 716.1h0M311.9 719.2h0M305 719.2h0M306.7 715.7h0M309.4 717.6h0" stroke="#245a56" stroke-width="2.7" stroke-linecap="round"/>
<path d="M83.3 677.6L83.7 677.6L83.8 678.2L83.8 678.8L83.9 679.4L84.1 680L84.2 680.6L84.4 681.2L84.5 681.8L84.7 682.4L85 683L85.2 683.6L85.5 684.2L85.8 684.8L86.2 685.4L86.6 686.1L87 686.7L87.5 687.3L88 687.9L88.6 688.5L89.1 689.1L89.8 689.7L90.4 690.3L91.1 690.9L91.8 691.5L92.6 692.1L93.3 692.7L94.1 693.3L94.9 693.9L95.7 694.5L96.4 695.1L97.2 695.7L97.9 696.3L98.5 696.9L99.1 697.5L99.6 698.1L100.1 698.7L100.4 699.3L100.6 699.9L100.7 700.5L100.7 700.5L100.6 701.1L100.3 701.8L100 702.4L99.5 703L99 703.6L98.4 704.2L97.7 704.8L97 705.4L96.3 706L95.5 706.6L94.7 707.2L93.9 707.8L93.2 708.4L92.4 709L91.7 709.6L90.9 710.2L90.3 710.8L89.6 711.4L89 712L88.4 712.6L87.9 713.2L87.4 713.8L86.9 714.4L86.5 715L86.1 715.6L85.7 716.2L85.4 716.8L85.1 717.5L84.9 718.1L84.7 718.7L84.5 719.3L84.3 719.9L84.2 720.5L84 721.1L83.9 721.7L83.8 722.3L83.7 722.9L83.7 723.5L83.6 724.1L83.5 724.7L83.5 725.3L83.3 725.3Z" fill="#e4f2fb" stroke="#cde8f8" stroke-width="1"/>
<path d="M122.2 675L122.3 675L122.3 675.5L122.3 676L122.3 676.5L122.3 677.1L122.4 677.6L122.4 678.1L122.4 678.6L122.5 679.1L122.6 679.6L122.6 680.2L122.7 680.7L122.8 681.2L122.9 681.7L123 682.2L123.2 682.7L123.3 683.3L123.5 683.8L123.7 684.3L123.9 684.8L124.2 685.3L124.4 685.8L124.8 686.4L125.1 686.9L125.5 687.4L125.9 687.9L126.3 688.4L126.8 688.9L127.4 689.5L127.9 690L128.5 690.5L129.1 691L129.8 691.5L130.5 692L131.2 692.6L132 693.1L132.7 693.6L133.5 694.1L134.2 694.6L135 695.1L135.8 695.7L136.5 696.2L137.2 696.7L137.8 697.2L138.4 697.7L139 698.2L139.4 698.8L139.8 699.3L140 699.8L140.2 700.3L140.2 700.5L140.2 700.8L140 701.3L139.6 701.9L139.2 702.4L138.7 702.9L138 703.4L137.4 703.9L136.6 704.4L135.9 705L135.1 705.5L134.3 706L133.4 706.5L132.6 707L131.8 707.5L131 708.1L130.3 708.6L129.5 709.1L128.8 709.6L128.2 710.1L127.6 710.6L127 711.2L126.5 711.7L126 712.2L125.5 712.7L125.1 713.2L124.8 713.7L124.4 714.3L124.1 714.8L123.9 715.3L123.6 715.8L122.2 715.8Z" fill="#d3e6ee" stroke="#afd2e1" stroke-width="1"/>
<path d="M161.2 681.8L162.4 681.8L162.6 682.2L162.7 682.7L162.9 683.1L163.1 683.5L163.3 684L163.5 684.4L163.8 684.8L164 685.2L164.3 685.7L164.6 686.1L164.9 686.5L165.2 687L165.6 687.4L165.9 687.8L166.3 688.3L166.7 688.7L167.2 689.1L167.6 689.5L168.1 690L168.6 690.4L169.1 690.8L169.6 691.3L170.1 691.7L170.6 692.1L171.2 692.6L171.7 693L172.3 693.4L172.9 693.9L173.4 694.3L174 694.7L174.5 695.1L175 695.6L175.6 696L176 696.4L176.5 696.9L177 697.3L177.4 697.7L177.7 698.2L178 698.6L178.3 699L178.5 699.4L178.7 699.9L178.8 700.3L178.8 700.5L178.8 700.7L178.7 701.2L178.5 701.6L178.2 702L177.9 702.5L177.6 702.9L177.2 703.3L176.7 703.7L176.2 704.2L175.7 704.6L175.2 705L174.6 705.5L174 705.9L173.5 706.3L172.9 706.8L172.3 707.2L171.7 707.6L171.1 708.1L170.5 708.5L169.9 708.9L169.4 709.3L168.8 709.8L168.3 710.2L167.8 710.6L167.3 711.1L166.9 711.5L166.4 711.9L166 712.4L165.6 712.8L165.2 713.2L164.9 713.6L164.6 714.1L164.2 714.5L164 714.9L163.7 715.4L163.5 715.8L161.2 715.8Z" fill="#c8dee4" stroke="#9bc3cd" stroke-width="1"/>
<path d="M199.5 648L199.5 648L199.5 648.9L199.5 649.8L199.5 650.8L199.5 651.7L199.5 652.6L199.5 653.5L199.5 654.4L199.5 655.4L199.5 656.3L199.5 657.2L199.5 658.1L199.5 659L199.5 660L199.5 660.9L199.5 661.8L199.5 662.7L199.5 663.6L199.5 664.6L199.5 665.5L199.5 666.4L199.5 667.3L199.5 668.2L199.5 669.2L199.5 670.1L199.5 671L199.5 671.9L199.6 672.8L199.6 673.8L199.6 674.7L199.7 675.6L199.7 676.5L199.8 677.4L199.9 678.4L200 679.3L200.2 680.2L200.4 681.1L200.7 682L201 683L201.4 683.9L201.9 684.8L202.5 685.7L203.1 686.7L203.9 687.6L204.8 688.5L205.7 689.4L206.8 690.3L208 691.3L209.2 692.2L210.5 693.1L211.8 694L213.1 694.9L214.3 695.9L215.4 696.8L216.3 697.7L217.1 698.6L217.6 699.5L217.7 700.2L217.7 700.5L217.3 701.4L216.6 702.3L215.6 703.2L214.4 704.1L213 705.1L211.7 706L210.2 706.9L208.9 707.8L207.6 708.7L206.3 709.7L205.2 710.6L204.2 711.5L203.3 712.4L202.6 713.3L202 714.3L201.4 715.2L201 716.1L200.6 717L200.4 717.9L200.2 718.9L200 719.8L199.9 720.7L199.5 720.7Z" fill="#b9d0d5" stroke="#80aab2" stroke-width="1"/>
<path d="M238.2 676.4L239 676.4L239.1 677L239.2 677.7L239.4 678.3L239.6 678.9L239.8 679.5L240 680.2L240.3 680.8L240.5 681.4L240.8 682L241.2 682.7L241.5 683.3L241.9 683.9L242.3 684.5L242.8 685.2L243.3 685.8L243.8 686.4L244.4 687.1L245 687.7L245.6 688.3L246.2 688.9L246.9 689.6L247.6 690.2L248.3 690.8L249 691.4L249.7 692.1L250.5 692.7L251.2 693.3L251.9 693.9L252.6 694.6L253.2 695.2L253.9 695.8L254.5 696.5L255 697.1L255.4 697.7L255.8 698.3L256.1 699L256.3 699.6L256.4 700.2L256.4 700.2L256.3 700.8L255.9 701.5L255.4 702.1L254.8 702.7L254.1 703.3L253.3 704L252.4 704.6L251.5 705.2L250.5 705.8L249.6 706.5L248.6 707.1L247.7 707.7L246.8 708.4L245.9 709L245.1 709.6L244.3 710.2L243.6 710.9L242.9 711.5L242.3 712.1L241.8 712.7L241.3 713.4L240.8 714L240.4 714.6L240.1 715.2L239.8 715.9L239.5 716.5L239.3 717.1L239.1 717.8L239 718.4L238.8 719L238.7 719.6L238.6 720.3L238.5 720.9L238.5 721.5L238.4 722.1L238.4 722.8L238.3 723.4L238.3 724L238.3 724.6L238.3 725.3L238.2 725.9L238.2 725.9Z" fill="#a7c3c5" stroke="#5f9296" stroke-width="1"/>
<path d="M277.5 671.4L277.8 671.4L277.9 672L277.9 672.6L278 673.2L278.1 673.8L278.2 674.4L278.2 675L278.4 675.6L278.5 676.2L278.6 676.8L278.8 677.3L278.9 677.9L279.1 678.5L279.3 679.1L279.5 679.7L279.8 680.3L280 680.9L280.3 681.5L280.6 682.1L280.9 682.7L281.3 683.3L281.7 683.9L282.1 684.5L282.5 685.1L283 685.7L283.4 686.3L283.9 686.9L284.5 687.5L285 688.1L285.6 688.7L286.2 689.2L286.8 689.8L287.4 690.4L288 691L288.6 691.6L289.3 692.2L289.9 692.8L290.5 693.4L291.1 694L291.7 694.6L292.2 695.2L292.8 695.8L293.3 696.4L293.7 697L294.1 697.6L294.4 698.2L294.7 698.8L294.9 699.4L295 700L295 700.2L295 700.6L294.7 701.1L294.4 701.7L293.9 702.3L293.3 702.9L292.6 703.5L291.8 704.1L291 704.7L290.2 705.3L289.3 705.9L288.4 706.5L287.5 707.1L286.7 707.7L285.9 708.3L285.1 708.9L284.3 709.5L283.6 710.1L282.9 710.7L282.3 711.3L281.7 711.9L281.2 712.5L280.7 713L280.3 713.6L279.9 714.2L279.5 714.8L279.2 715.4L279 716L278.7 716.6L278.5 717.2L278.4 717.8L278.2 718.4L277.5 718.4Z" fill="#94b4b4" stroke="#3d7676" stroke-width="1"/>
<path d="M316.1 678.6L316.7 678.6L316.8 679.1L316.9 679.6L317.1 680.2L317.2 680.7L317.4 681.2L317.5 681.7L317.7 682.3L317.9 682.8L318.2 683.3L318.4 683.8L318.7 684.4L319 684.9L319.4 685.4L319.7 685.9L320.1 686.5L320.5 687L321 687.5L321.5 688L322 688.6L322.5 689.1L323 689.6L323.6 690.1L324.2 690.7L324.9 691.2L325.5 691.7L326.2 692.2L326.8 692.7L327.5 693.3L328.2 693.8L328.8 694.3L329.5 694.8L330.1 695.4L330.7 695.9L331.2 696.4L331.8 696.9L332.2 697.5L332.7 698L333 698.5L333.3 699L333.5 699.6L333.6 700.1L333.6 700.2L333.5 700.6L333.3 701.1L333 701.7L332.6 702.2L332.1 702.7L331.5 703.2L330.9 703.8L330.2 704.3L329.5 704.8L328.7 705.3L328 705.9L327.2 706.4L326.4 706.9L325.7 707.4L324.9 707.9L324.2 708.5L323.5 709L322.8 709.5L322.2 710L321.6 710.6L321 711.1L320.5 711.6L320 712.1L319.6 712.7L319.2 713.2L318.8 713.7L318.5 714.2L318.2 714.8L317.9 715.3L317.7 715.8L317.4 716.3L317.3 716.9L317.1 717.4L316.9 717.9L316.8 718.4L316.7 719L316.6 719.5L316.5 720L316.1 720Z" fill="#87a4a2" stroke="#245a56" stroke-width="1"/>
<path d="M83.3 686.1V697.1M83.3 705.6V716.8" stroke="#111" stroke-width="1.6"/>
<rect x="81.4" y="697.1" width="3.8" height="8.5" fill="#e8f5fc" stroke="#111" stroke-width="1.4"/>
<path d="M81.4 701H85.2" stroke="#111" stroke-width="1.2"/>
<path d="M122.2 686V697M122.2 705V714.7" stroke="#111" stroke-width="1.6"/>
<rect x="120.3" y="697" width="3.8" height="8" fill="#dbebf2" stroke="#111" stroke-width="1.4"/>
<path d="M120.3 701H124.1" stroke="#111" stroke-width="1.2"/>
<path d="M161.2 686.5V697M161.2 705.6V715.8" stroke="#111" stroke-width="1.6"/>
<rect x="159.3" y="697" width="3.8" height="8.6" fill="#d2e4e8" stroke="#111" stroke-width="1.4"/>
<path d="M159.3 701H163.1" stroke="#111" stroke-width="1.2"/>
<path d="M199.5 686.6V697.3M199.5 704.8V713.9" stroke="#111" stroke-width="1.6"/>
<rect x="197.6" y="697.3" width="3.8" height="7.5" fill="#c6d9dc" stroke="#111" stroke-width="1.4"/>
<path d="M197.6 701H201.4" stroke="#111" stroke-width="1.2"/>
<path d="M238.2 686.6V697M238.2 704.8V715" stroke="#111" stroke-width="1.6"/>
<rect x="236.3" y="697" width="3.8" height="7.8" fill="#b7ced0" stroke="#111" stroke-width="1.4"/>
<path d="M236.3 701H240.1" stroke="#111" stroke-width="1.2"/>
<path d="M277.5 684.3V695.7M277.5 704.8V717.3" stroke="#111" stroke-width="1.6"/>
<rect x="275.6" y="695.7" width="3.8" height="9.1" fill="#a8c1c1" stroke="#111" stroke-width="1.4"/>
<path d="M275.6 700.5H279.4" stroke="#111" stroke-width="1.2"/>
<path d="M316.1 686.6V697M316.1 705V715" stroke="#111" stroke-width="1.6"/>
<rect x="314.2" y="697" width="3.8" height="8" fill="#9cb5b3" stroke="#111" stroke-width="1.4"/>
<path d="M314.2 701H318" stroke="#111" stroke-width="1.2"/>
</g>
<path d="M54.5 46V163.2H337" fill="none" stroke="#222" stroke-width="1.3"/>
<path d="M52 62.5H54.5" stroke="#222" stroke-width="1"/>
<text x="47.5" y="66.4" text-anchor="end" font-size="10.8" fill="#1a1a1a">0.02</text>
<path d="M52 105H54.5" stroke="#222" stroke-width="1"/>
<text x="47.5" y="108.9" text-anchor="end" font-size="10.8" fill="#1a1a1a">0.01</text>
<path d="M52 148H54.5" stroke="#222" stroke-width="1"/>
<text x="47.5" y="151.9" text-anchor="end" font-size="10.8" fill="#1a1a1a">0.00</text>
<path d="M77.3 163.2V165.7" stroke="#222" stroke-width="1"/>
<path d="M116.2 163.2V165.7" stroke="#222" stroke-width="1"/>
<path d="M155.2 163.2V165.7" stroke="#222" stroke-width="1"/>
<path d="M194.1 163.2V165.7" stroke="#222" stroke-width="1"/>
<path d="M233 163.2V165.7" stroke="#222" stroke-width="1"/>
<path d="M271.9 163.2V165.7" stroke="#222" stroke-width="1"/>
<path d="M310.9 163.2V165.7" stroke="#222" stroke-width="1"/>
<text transform="translate(12.2 95.8) rotate(-90)" text-anchor="middle" font-size="15.6" fill="#111">30-45 Hz</text>
<path d="M54.5 189.5V306.8H337" fill="none" stroke="#222" stroke-width="1.3"/>
<path d="M52 206.1H54.5" stroke="#222" stroke-width="1"/>
<text x="47.5" y="210" text-anchor="end" font-size="10.8" fill="#1a1a1a">0.10</text>
<path d="M52 250.4H54.5" stroke="#222" stroke-width="1"/>
<text x="47.5" y="254.3" text-anchor="end" font-size="10.8" fill="#1a1a1a">0.05</text>
<path d="M52 295.2H54.5" stroke="#222" stroke-width="1"/>
<text x="47.5" y="299.1" text-anchor="end" font-size="10.8" fill="#1a1a1a">0.00</text>
<path d="M77.5 306.8V309.3" stroke="#222" stroke-width="1"/>
<path d="M116.4 306.8V309.3" stroke="#222" stroke-width="1"/>
<path d="M155.3 306.8V309.3" stroke="#222" stroke-width="1"/>
<path d="M194.2 306.8V309.3" stroke="#222" stroke-width="1"/>
<path d="M233.1 306.8V309.3" stroke="#222" stroke-width="1"/>
<path d="M272 306.8V309.3" stroke="#222" stroke-width="1"/>
<path d="M310.9 306.8V309.3" stroke="#222" stroke-width="1"/>
<text transform="translate(12.2 243.2) rotate(-90)" text-anchor="middle" font-size="15.6" fill="#111">15-29 Hz</text>
<path d="M53.7 332.1V449.8H336" fill="none" stroke="#222" stroke-width="1.3"/>
<path d="M51.2 349.3H53.7" stroke="#222" stroke-width="1"/>
<text x="47.5" y="353.2" text-anchor="end" font-size="10.8" fill="#1a1a1a">0.20</text>
<path d="M51.2 396.3H53.7" stroke="#222" stroke-width="1"/>
<text x="47.5" y="400.2" text-anchor="end" font-size="10.8" fill="#1a1a1a">0.10</text>
<path d="M51.2 443.8H53.7" stroke="#222" stroke-width="1"/>
<text x="47.5" y="447.7" text-anchor="end" font-size="10.8" fill="#1a1a1a">0.00</text>
<path d="M76.8 449.8V452.3" stroke="#222" stroke-width="1"/>
<path d="M115.7 449.8V452.3" stroke="#222" stroke-width="1"/>
<path d="M154.5 449.8V452.3" stroke="#222" stroke-width="1"/>
<path d="M193.4 449.8V452.3" stroke="#222" stroke-width="1"/>
<path d="M232.2 449.8V452.3" stroke="#222" stroke-width="1"/>
<path d="M271.1 449.8V452.3" stroke="#222" stroke-width="1"/>
<path d="M309.9 449.8V452.3" stroke="#222" stroke-width="1"/>
<text transform="translate(12.2 388.8) rotate(-90)" text-anchor="middle" font-size="15.6" fill="#111">8-14 Hz</text>
<path d="M52.9 473.3V590H335" fill="none" stroke="#222" stroke-width="1.3"/>
<path d="M50.4 501H52.9" stroke="#222" stroke-width="1"/>
<text x="47.5" y="504.9" text-anchor="end" font-size="10.8" fill="#1a1a1a">0.04</text>
<path d="M50.4 539.5H52.9" stroke="#222" stroke-width="1"/>
<text x="47.5" y="543.4" text-anchor="end" font-size="10.8" fill="#1a1a1a">0.02</text>
<path d="M50.4 578.2H52.9" stroke="#222" stroke-width="1"/>
<text x="47.5" y="582.1" text-anchor="end" font-size="10.8" fill="#1a1a1a">0.00</text>
<path d="M75.9 590V592.5" stroke="#222" stroke-width="1"/>
<path d="M114.7 590V592.5" stroke="#222" stroke-width="1"/>
<path d="M153.5 590V592.5" stroke="#222" stroke-width="1"/>
<path d="M192.3 590V592.5" stroke="#222" stroke-width="1"/>
<path d="M231.1 590V592.5" stroke="#222" stroke-width="1"/>
<path d="M269.9 590V592.5" stroke="#222" stroke-width="1"/>
<path d="M308.7 590V592.5" stroke="#222" stroke-width="1"/>
<text transform="translate(12.2 519) rotate(-90)" text-anchor="middle" font-size="15.6" fill="#111">4-7 Hz</text>
<path d="M52 616.2V733.3H334" fill="none" stroke="#222" stroke-width="1.3"/>
<path d="M49.5 632.6H52" stroke="#222" stroke-width="1"/>
<text x="47.5" y="636.5" text-anchor="end" font-size="10.8" fill="#1a1a1a">0.08</text>
<path d="M49.5 680H52" stroke="#222" stroke-width="1"/>
<text x="47.5" y="683.9" text-anchor="end" font-size="10.8" fill="#1a1a1a">0.04</text>
<path d="M49.5 727.3H52" stroke="#222" stroke-width="1"/>
<text x="47.5" y="731.2" text-anchor="end" font-size="10.8" fill="#1a1a1a">0.00</text>
<path d="M75.6 733.3V735.8" stroke="#222" stroke-width="1"/>
<path d="M114.3 733.3V735.8" stroke="#222" stroke-width="1"/>
<path d="M153.1 733.3V735.8" stroke="#222" stroke-width="1"/>
<path d="M191.8 733.3V735.8" stroke="#222" stroke-width="1"/>
<path d="M230.6 733.3V735.8" stroke="#222" stroke-width="1"/>
<path d="M269.4 733.3V735.8" stroke="#222" stroke-width="1"/>
<path d="M308.1 733.3V735.8" stroke="#222" stroke-width="1"/>
<text transform="translate(12.2 667) rotate(-90)" text-anchor="middle" font-size="15.6" fill="#111">1-3 Hz</text>
<rect x="395.1" y="121" width="9.4" height="10.7" fill="#fcc6c8"/>
<path d="M395.1 122.1h0M395.7 124.4h0M394.6 127.9h0M394.5 130.7h0M395.4 129.4h0M394.8 125.6h0M394.6 123.7h0M394.9 129.4h0M395.1 129.9h0M394.3 124.1h0M403.1 130.8h0M403.1 126.8h0M404.3 123.2h0M405 131.5h0M403.5 122.5h0M404.1 121.3h0M403.1 121.6h0M402.2 121.7h0M404 121.8h0M401.1 121.3h0M399.5 121.3h0M397.8 121.5h0M398.7 121.3h0M397.4 121.3h0M396.2 121.6h0M395.1 121.2h0M402.9 120.3h0M397.9 120.6h0M394.9 121h0M395.6 120.9h0M401.3 120.8h0M396 119.9h0M404.7 119.4h0M402 119.7h0M399.5 119.5h0M399.6 118.2h0M404.7 118.1h0M401.9 118.7h0M397.1 117.3h0M401.1 117.6h0M400.2 116.4h0M401.6 116.5h0M403.9 131.3h0M404.6 130.7h0M404.5 130.9h0M403.9 130.7h0M403.4 131.3h0M401.6 131.1h0M398.3 130.9h0M395.9 131.9h0M396.2 132.2h0M404 132.3h0M400.7 133.7h0M395.5 133.5h0M401.9 133.4h0M398 132.8h0M395.6 133.4h0M404.4 114.9h0M403 115.8h0M397.3 113.8h0M398 115.2h0M396.6 114.5h0M404.7 115.4h0M400.9 114.2h0M397.7 111.9h0M397.3 109.5h0M394.6 115.5h0M397.4 110h0" stroke="#fcc6c8" stroke-width="2.7" stroke-linecap="round"/>
<rect x="433.7" y="113.7" width="9.4" height="18" fill="#fdaeb0"/>
<path d="M432.8 125h0M433.9 114.1h0M434.6 126.8h0M433.8 130.7h0M433.8 116.9h0M434.3 130.9h0M432.8 122.8h0M433.2 130h0M432.9 128.2h0M433.1 125.2h0M434.1 127.4h0M432.8 122.4h0M433 116h0M433 116.4h0M434.6 123.8h0M442.1 122.4h0M441.7 117.6h0M442.9 126.2h0M442.8 131.4h0M443.6 128.7h0M442.5 127.3h0M442.1 129.3h0M441.6 114.2h0M441.8 114.4h0M439.7 114.7h0M434 114.6h0M439 113.4h0M437 112.8h0M441.3 113.5h0M436.9 112.8h0M441.9 113.5h0M441.8 113.5h0M435.6 113.3h0M437.8 113.1h0M439.6 112.1h0M439.7 112.4h0M440.8 111.9h0M439.8 112.1h0M442.3 112.3h0M443 131.4h0M437.3 131.4h0M434.1 131.3h0M442.7 130.7h0M442.9 131h0M438.3 132.6h0M432.9 132h0M437.9 131.8h0M439.7 132.5h0M442.6 131.8h0M438.2 132.7h0" stroke="#fdaeb0" stroke-width="2.7" stroke-linecap="round"/>
<rect x="472.5" y="112" width="9.4" height="19.7" fill="#fda8aa"/>
<path d="M471.6 125.9h0M472.1 129.9h0M472.7 129.7h0M471.6 123.9h0M472.3 114.1h0M472.3 126.6h0M472.7 123.7h0M472.1 122h0M472.4 129.9h0M473.3 120.6h0M472.5 117.8h0M472.6 114.6h0M473.4 120.2h0M471.5 117.9h0M473.4 118.1h0M472.3 131.2h0M473.1 119.1h0M480.7 119.7h0M481.1 129.6h0M481.5 130.2h0M482.4 129.1h0M481.2 119.7h0M481.5 125.4h0M482.1 128.1h0M481 126.5h0M473.1 112.3h0M474.9 112.5h0M481.4 113h0M478.1 112.1h0M474.9 111.3h0M478.6 111.1h0M474.5 111.2h0M472 111.5h0M473.7 111.5h0M473.7 111.8h0M472.7 111.8h0M476.5 110.7h0M471.7 110.2h0M479.1 110.1h0M479.9 109.2h0M482.4 109.9h0M471.8 108.4h0M476.1 108.4h0M476.4 131.6h0M475.7 130.8h0M472.9 130.9h0M480.9 131h0M480.9 131.6h0M481.6 131.9h0M478.4 132h0M477.4 132.1h0M479.4 131.9h0M474.6 131.8h0M480.6 107.7h0M471.7 101.5h0M479.5 102.9h0M473.2 102.2h0" stroke="#fda8aa" stroke-width="2.7" stroke-linecap="round"/>
<rect x="511.6" y="113.9" width="9.4" height="18" fill="#fd9597"/>
<path d="M510.9 129.5h0M511 130.2h0M511.7 131.6h0M511.6 116.3h0M511.8 121.9h0M510.7 128.6h0M512.4 131.3h0M511.9 124.4h0M511 131.3h0M512.1 125.9h0M512 129h0M511.3 115.9h0M512.6 114.5h0M511.1 122.8h0M510.7 119.5h0M512.3 125.2h0M520.7 114.2h0M520.4 116.1h0M520.3 120.9h0M520.3 119.6h0M521.1 122.2h0M521.3 120.1h0M519.8 120.3h0M521.2 120.4h0M518.2 114.2h0M521 113.9h0M519.2 114.1h0M521.5 114h0M520.6 114.3h0M520.8 113.9h0M511.5 113.5h0M511 113h0M519.4 112.7h0M516.8 112.4h0M516.8 112.3h0M516.8 112.8h0M514.4 112.3h0M515.4 111.7h0M514.9 111.8h0M514.6 131.2h0M519.6 131.8h0M518.8 131.7h0M520.3 131.8h0M521.1 132.8h0M510.6 132.5h0M520.7 132.4h0M516.5 132.5h0M516.6 132.5h0" stroke="#fd9597" stroke-width="2.7" stroke-linecap="round"/>
<rect x="550.3" y="115.6" width="9.4" height="16.3" fill="#dc6b69"/>
<path d="M550.7 131.2h0M549.5 119.4h0M549.3 116.7h0M549.7 130.3h0M549.9 125.4h0M549.9 131.7h0M549.7 122h0M550 119.1h0M549.4 122h0M549.7 116h0M551.1 121.2h0M549.3 125.6h0M550.3 126.8h0M550 117.9h0M559.5 122.1h0M560 120.9h0M558.6 118.6h0M558.7 119.5h0M559.2 121.7h0M560.1 118.9h0M560.1 121.1h0M550.5 116.5h0M557.2 116.4h0M551.3 116.6h0M552.6 115.7h0M553.2 116h0M549.9 116.4h0M558.8 115.8h0M555.3 116.5h0M549.7 115.5h0M551.2 115.1h0M557 114.9h0M559.4 114.9h0M551.4 114.7h0M559.1 114.8h0M558.6 114.6h0M557 113.7h0M560.2 114.4h0M549.5 131.5h0M553.7 131h0M554.7 131.8h0M552.3 131.9h0M555.6 132.3h0M556.8 132.1h0M560 131.9h0" stroke="#dc6b69" stroke-width="2.7" stroke-linecap="round"/>
<rect x="589.1" y="116.3" width="9.4" height="15.6" fill="#b44646"/>
<path d="M588.5 126.3h0M588.4 120.4h0M589.1 128.1h0M589.8 121.2h0M589.4 116.7h0M589.9 126.8h0M589.9 119.6h0M589.1 127.9h0M588.2 129.4h0M589.5 128.6h0M588.4 128.4h0M589.2 118.6h0M588.4 129.7h0M588.9 120.5h0M597.7 127h0M597.3 118.8h0M598.3 130.3h0M598.3 131h0M597.6 121.8h0M597.7 121.9h0M597.5 128.7h0M588.3 116.8h0M591.8 116.6h0M591.3 116.3h0M596.1 116.8h0M595 116.9h0M592.3 116.8h0M593.3 117.2h0M591.9 116.5h0M592.3 115.7h0M589.3 115.9h0M596.5 115.3h0M593.9 115.4h0M596.6 115.9h0M588.8 115.8h0M592.5 115.2h0M598.1 115.2h0M594.4 131h0M591.3 131.5h0M589.6 131.6h0M593.7 131.1h0M594 131.3h0M588.5 131.6h0M592.7 132.5h0M593.6 132.2h0M597.6 132h0M594.7 132.1h0M598.2 132.8h0M595.9 132.8h0M596.5 132.6h0M596.2 132.8h0" stroke="#b44646" stroke-width="2.7" stroke-linecap="round"/>
<rect x="627.9" y="113.9" width="9.4" height="18.1" fill="#701818"/>
<path d="M627.3 127.1h0M627.3 122.2h0M627.6 125.4h0M628.2 130.2h0M628.6 115.1h0M627.2 114.7h0M628.3 120.2h0M628.9 117.8h0M628.8 127.6h0M628.4 124.9h0M628.7 118.1h0M628.6 129.8h0M628.1 125.9h0M627.4 122.8h0M628.1 119.6h0M627 131.1h0M637.4 120.5h0M636.9 124.6h0M637.7 124h0M637.2 128.4h0M636 124.4h0M637.7 128.8h0M637.6 116.8h0M637.4 119h0M627.1 114h0M632.3 114.4h0M627.7 114.2h0M630 114.2h0M631.7 113.9h0M627.3 114.1h0M634.7 114.8h0M635.1 114h0M632.8 113.2h0M637.3 113.6h0M635.7 112.9h0M634.7 113.7h0M631.9 113.2h0M632.2 113.5h0M631.6 113.2h0M634.4 112.2h0M632.6 112.3h0M627.8 112.1h0M637.7 112.3h0M629.7 111.1h0M627.7 111h0M634.3 111.3h0M636.4 111.1h0M637.1 111.1h0M635.4 131.1h0M632.5 131.9h0M630.3 131.1h0M629.8 131.9h0M635.3 132.6h0M630.4 132.7h0M628.5 132.9h0M633.6 133.3h0M633.9 134h0M633.5 133.8h0M630.8 133h0M627.4 133h0M629.3 133.3h0" stroke="#701818" stroke-width="2.7" stroke-linecap="round"/>
<path d="M409 108.8L409 108.8L409 109.1L409 109.4L409 109.7L409 110L409 110.3L409 110.7L409 111L409 111.3L409 111.6L409 111.9L409 112.2L409 112.5L409 112.8L409 113.1L409.1 113.4L409.1 113.7L409.1 114.1L409.1 114.4L409.1 114.7L409.2 115L409.2 115.3L409.3 115.6L409.3 115.9L409.4 116.2L409.5 116.5L409.5 116.8L409.7 117.1L409.8 117.4L409.9 117.8L410.1 118.1L410.3 118.4L410.5 118.7L410.8 119L411.1 119.3L411.4 119.6L411.8 119.9L412.2 120.2L412.7 120.5L413.2 120.8L413.7 121.2L414.3 121.5L414.9 121.8L415.6 122.1L416.4 122.4L417.1 122.7L417.9 123L418.7 123.3L419.6 123.6L420.4 123.9L421.3 124.2L422.1 124.6L423 124.9L423.7 125.2L424.5 125.5L425.2 125.8L425.8 126.1L426.3 126.4L426.7 126.7L426.9 127L427 127.3L427 127.3L426.8 127.6L426.5 127.9L425.9 128.3L425.3 128.6L424.5 128.9L423.6 129.2L422.7 129.5L421.8 129.8L420.8 130.1L419.8 130.4L418.8 130.7L417.9 131L417 131.3L416.1 131.7L415.3 132L414.5 132.3L413.8 132.6L413.2 132.9L412.6 133.2L409 133.2Z" fill="#fde0e1" stroke="#fcc6c8" stroke-width="1"/>
<path d="M447.6 111.5L448.1 111.5L448.2 111.8L448.3 112L448.3 112.3L448.4 112.6L448.5 112.9L448.6 113.1L448.8 113.4L448.9 113.7L449.1 113.9L449.2 114.2L449.4 114.5L449.6 114.8L449.8 115L450 115.3L450.3 115.6L450.5 115.9L450.8 116.1L451.1 116.4L451.4 116.7L451.8 116.9L452.1 117.2L452.5 117.5L452.9 117.8L453.3 118L453.8 118.3L454.2 118.6L454.7 118.8L455.2 119.1L455.7 119.4L456.2 119.7L456.8 119.9L457.3 120.2L457.9 120.5L458.4 120.8L459 121L459.6 121.3L460.1 121.6L460.7 121.8L461.3 122.1L461.8 122.4L462.3 122.7L462.8 122.9L463.3 123.2L463.7 123.5L464.1 123.7L464.5 124L464.8 124.3L465.1 124.6L465.3 124.8L465.5 125.1L465.6 125.4L465.6 125.5L465.6 125.7L465.4 125.9L465.2 126.2L464.9 126.5L464.5 126.7L464 127L463.5 127.3L462.9 127.6L462.3 127.8L461.7 128.1L461 128.4L460.3 128.6L459.6 128.9L458.9 129.2L458.2 129.5L457.6 129.7L456.9 130L456.2 130.3L455.6 130.6L455 130.8L454.4 131.1L453.8 131.4L453.3 131.6L452.8 131.9L452.3 132.2L451.8 132.5L451.4 132.7L451 133L447.6 133Z" fill="#fed2d4" stroke="#fdaeb0" stroke-width="1"/>
<path d="M486.4 101L486.4 101L486.4 101.4L486.4 101.8L486.4 102.2L486.4 102.6L486.4 103L486.4 103.4L486.4 103.8L486.4 104.2L486.4 104.6L486.4 105.1L486.4 105.5L486.4 105.9L486.4 106.3L486.4 106.7L486.5 107.1L486.5 107.5L486.5 107.9L486.5 108.3L486.5 108.7L486.6 109.1L486.6 109.5L486.6 109.9L486.7 110.3L486.8 110.7L486.8 111.1L486.9 111.5L487 111.9L487.1 112.3L487.3 112.7L487.4 113.2L487.6 113.6L487.8 114L488.1 114.4L488.4 114.8L488.7 115.2L489 115.6L489.4 116L489.9 116.4L490.3 116.8L490.8 117.2L491.4 117.6L492 118L492.7 118.4L493.4 118.8L494.1 119.2L494.9 119.6L495.7 120L496.5 120.4L497.3 120.8L498.2 121.3L499 121.7L499.8 122.1L500.6 122.5L501.3 122.9L502 123.3L502.7 123.7L503.2 124.1L503.7 124.5L504 124.9L504.2 125.3L504.2 125.5L504.2 125.7L503.9 126.1L503.4 126.5L502.8 126.9L502 127.3L501.2 127.7L500.2 128.1L499.2 128.5L498.2 128.9L497.2 129.4L496.2 129.8L495.2 130.2L494.2 130.6L493.3 131L492.5 131.4L491.7 131.8L491 132.2L490.4 132.6L489.8 133L486.4 133Z" fill="#fecfd0" stroke="#fda8aa" stroke-width="1"/>
<path d="M525.5 110.8L526.8 110.8L526.9 111.1L527.1 111.4L527.2 111.6L527.4 111.9L527.6 112.2L527.8 112.5L528 112.8L528.2 113L528.4 113.3L528.7 113.6L528.9 113.9L529.2 114.2L529.5 114.5L529.8 114.7L530.1 115L530.4 115.3L530.8 115.6L531.1 115.9L531.5 116.1L531.9 116.4L532.3 116.7L532.8 117L533.2 117.3L533.6 117.5L534.1 117.8L534.6 118.1L535 118.4L535.5 118.7L536 118.9L536.5 119.2L537 119.5L537.5 119.8L538 120.1L538.5 120.4L538.9 120.6L539.4 120.9L539.9 121.2L540.3 121.5L540.7 121.8L541.1 122L541.5 122.3L541.8 122.6L542.2 122.9L542.4 123.2L542.7 123.4L542.9 123.7L543 124L543.2 124.3L543.2 124.6L543.2 124.6L543.2 124.9L543 125.1L542.8 125.4L542.5 125.7L542.2 126L541.8 126.3L541.3 126.5L540.8 126.8L540.3 127.1L539.8 127.4L539.2 127.7L538.6 127.9L538 128.2L537.4 128.5L536.8 128.8L536.2 129.1L535.6 129.3L535 129.6L534.4 129.9L533.8 130.2L533.3 130.5L532.7 130.8L532.2 131L531.7 131.3L531.2 131.6L530.8 131.9L530.3 132.2L529.9 132.4L529.6 132.7L529.2 133L525.5 133Z" fill="#fec5c6" stroke="#fd9597" stroke-width="1"/>
<path d="M564.2 113.9L565.1 113.9L565.2 114.1L565.4 114.4L565.5 114.6L565.6 114.9L565.8 115.1L565.9 115.4L566.1 115.6L566.3 115.8L566.5 116.1L566.7 116.3L567 116.6L567.2 116.8L567.5 117L567.8 117.3L568.1 117.5L568.4 117.8L568.8 118L569.1 118.3L569.5 118.5L569.9 118.7L570.3 119L570.8 119.2L571.2 119.5L571.7 119.7L572.1 119.9L572.6 120.2L573.1 120.4L573.6 120.7L574.2 120.9L574.7 121.2L575.2 121.4L575.7 121.6L576.2 121.9L576.7 122.1L577.2 122.4L577.7 122.6L578.2 122.8L578.7 123.1L579.1 123.3L579.5 123.6L579.9 123.8L580.2 124.1L580.5 124.3L580.7 124.5L580.9 124.8L581.1 125L581.2 125.3L581.2 125.4L581.2 125.5L581.1 125.7L580.9 126L580.7 126.2L580.5 126.5L580.1 126.7L579.8 127L579.4 127.2L579 127.4L578.5 127.7L578 127.9L577.5 128.2L577 128.4L576.5 128.6L575.9 128.9L575.4 129.1L574.8 129.4L574.3 129.6L573.7 129.9L573.2 130.1L572.7 130.3L572.2 130.6L571.7 130.8L571.2 131.1L570.7 131.3L570.3 131.5L569.8 131.8L569.4 132L569 132.3L568.6 132.5L568.3 132.8L567.9 133L564.2 133Z" fill="#ecaeac" stroke="#dc6b69" stroke-width="1"/>
<path d="M603 114.4L604.2 114.4L604.3 114.6L604.4 114.9L604.6 115.1L604.7 115.3L604.9 115.6L605.1 115.8L605.3 116L605.5 116.3L605.7 116.5L606 116.8L606.2 117L606.5 117.2L606.8 117.5L607.1 117.7L607.5 117.9L607.8 118.2L608.2 118.4L608.6 118.6L609 118.9L609.4 119.1L609.8 119.3L610.2 119.6L610.7 119.8L611.2 120.1L611.6 120.3L612.1 120.5L612.6 120.8L613.1 121L613.6 121.2L614.1 121.5L614.6 121.7L615.2 121.9L615.6 122.2L616.1 122.4L616.6 122.6L617.1 122.9L617.5 123.1L617.9 123.3L618.3 123.6L618.7 123.8L619 124.1L619.3 124.3L619.5 124.5L619.7 124.8L619.9 125L620 125.2L620 125.4L620 125.5L619.9 125.7L619.8 125.9L619.6 126.2L619.3 126.4L619 126.6L618.7 126.9L618.3 127.1L617.9 127.3L617.5 127.6L617 127.8L616.5 128.1L616 128.3L615.5 128.5L615 128.8L614.5 129L613.9 129.2L613.4 129.5L612.9 129.7L612.3 129.9L611.8 130.2L611.3 130.4L610.8 130.6L610.3 130.9L609.9 131.1L609.4 131.4L609 131.6L608.6 131.8L608.2 132.1L607.8 132.3L607.4 132.5L607.1 132.8L606.7 133L603 133Z" fill="#d69999" stroke="#b44646" stroke-width="1"/>
<path d="M641.8 108.3L642.7 108.3L642.8 108.6L642.9 108.9L643 109.3L643.1 109.6L643.2 109.9L643.3 110.2L643.5 110.6L643.6 110.9L643.8 111.2L644 111.5L644.2 111.9L644.4 112.2L644.6 112.5L644.8 112.8L645 113.1L645.3 113.5L645.6 113.8L645.8 114.1L646.1 114.4L646.5 114.8L646.8 115.1L647.1 115.4L647.5 115.7L647.8 116L648.2 116.4L648.6 116.7L649 117L649.4 117.3L649.8 117.7L650.3 118L650.7 118.3L651.2 118.6L651.6 119L652.1 119.3L652.5 119.6L653 119.9L653.5 120.2L653.9 120.6L654.4 120.9L654.8 121.2L655.3 121.5L655.7 121.9L656.1 122.2L656.5 122.5L656.8 122.8L657.2 123.1L657.5 123.5L657.8 123.8L658.1 124.1L658.3 124.4L658.5 124.8L658.6 125.1L658.7 125.4L658.8 125.7L658.8 125.8L658.7 126.1L658.5 126.4L658.2 126.7L657.8 127L657.3 127.3L656.7 127.7L656.1 128L655.4 128.3L654.7 128.6L653.9 129L653.2 129.3L652.4 129.6L651.7 129.9L650.9 130.2L650.2 130.6L649.5 130.9L648.8 131.2L648.1 131.5L647.5 131.9L647 132.2L646.4 132.5L645.9 132.8L645.4 133.2L645 133.5L644.6 133.8L641.8 133.8Z" fill="#b08080" stroke="#701818" stroke-width="1"/>
<path d="M409 120.5V124.7M409 129.4V133.2" stroke="#111" stroke-width="1.6"/>
<rect x="407.4" y="124.7" width="3.2" height="4.7" fill="#111" stroke="#111" stroke-width="1.4"/>
<path d="M407.4 127H410.6" stroke="#111" stroke-width="1.2"/>
<path d="M447.6 115.8V122.6M447.6 128.5V132.8" stroke="#111" stroke-width="1.6"/>
<rect x="446" y="122.6" width="3.2" height="5.9" fill="#fedbdb" stroke="#111" stroke-width="1.4"/>
<path d="M446 125.5H449.2" stroke="#111" stroke-width="1.2"/>
<path d="M486.4 115.2V121.5M486.4 127.9V132.1" stroke="#111" stroke-width="1.6"/>
<rect x="484.8" y="121.5" width="3.2" height="6.4" fill="#fed8d9" stroke="#111" stroke-width="1.4"/>
<path d="M484.8 124.7H488" stroke="#111" stroke-width="1.2"/>
<path d="M525.5 116.8V122.9M525.5 128.9V133.8" stroke="#111" stroke-width="1.6"/>
<rect x="523.9" y="122.9" width="3.2" height="6" fill="#fecfd0" stroke="#111" stroke-width="1.4"/>
<path d="M523.9 126H527.1" stroke="#111" stroke-width="1.2"/>
<path d="M564.2 118V123.6M564.2 128.5V132.6" stroke="#111" stroke-width="1.6"/>
<rect x="562.6" y="123.6" width="3.2" height="4.9" fill="#efbcbc" stroke="#111" stroke-width="1.4"/>
<path d="M562.6 126H565.8" stroke="#111" stroke-width="1.2"/>
<path d="M603 117.3V123M603 128.5V133.3" stroke="#111" stroke-width="1.6"/>
<rect x="601.4" y="123" width="3.2" height="5.5" fill="#ddacac" stroke="#111" stroke-width="1.4"/>
<path d="M601.4 125.8H604.6" stroke="#111" stroke-width="1.2"/>
<path d="M641.8 116V123M641.8 128.5V134" stroke="#111" stroke-width="1.6"/>
<rect x="640.2" y="123" width="3.2" height="5.5" fill="#bf9797" stroke="#111" stroke-width="1.4"/>
<path d="M640.2 125.8H643.4" stroke="#111" stroke-width="1.2"/>
<path d="M408.3 52.3H485.7" stroke="#a8a8a8" stroke-width="1"/>
<path d="M408.3 54.4H524.8" stroke="#a8a8a8" stroke-width="1"/>
<path d="M408.3 56.5H563.5" stroke="#a8a8a8" stroke-width="1"/>
<path d="M408.3 58.6H602.3" stroke="#a8a8a8" stroke-width="1"/>
<path d="M408.3 60.7H641.1" stroke="#a8a8a8" stroke-width="1"/>
<rect x="395.5" y="257.4" width="9.4" height="17.1" fill="#fcc6c8"/>
<path d="M395.1 268.6h0M396 270.5h0M396 272h0M395.9 265.2h0M395.3 258.8h0M394.5 272.1h0M394.8 272.2h0M395.3 258.4h0M396.2 269.6h0M396.5 266.7h0M396.4 266.1h0M395 264.3h0M395.8 272.6h0M396.1 273.3h0M395.6 265.3h0M404.5 273.4h0M404.1 258.4h0M404.2 268.5h0M405.1 273.5h0M404.8 271.3h0M405 271.2h0M404.6 273.6h0M405.3 258.1h0M396 258.3h0M395.4 256.8h0M395.6 257h0M398 257.2h0M404.7 257.3h0M400.4 256.1h0M396.5 255.9h0M395.8 256.3h0M399.9 255.5h0M399.3 254.7h0M395.1 255h0M395.7 254.8h0M404.2 255.3h0M404.8 253.5h0M405.1 253.4h0M399.5 273.6h0M399.4 274.4h0M404.5 274.5h0M402.4 274.2h0M399.2 274.4h0M395.2 275.2h0M396.5 275.2h0M400.6 275.2h0M403.1 252.2h0M400.7 253h0M400 253.7h0M404.9 253.9h0M395.3 251.2h0M395.6 252.1h0" stroke="#fcc6c8" stroke-width="2.7" stroke-linecap="round"/>
<rect x="433.7" y="253.7" width="9.4" height="21.7" fill="#fdaeb0"/>
<path d="M433.5 265.1h0M433.7 261h0M433.9 262.4h0M433.5 254.4h0M433.9 255.5h0M434.4 264.1h0M433.4 268h0M434.5 257.4h0M433.5 274.8h0M434.4 262.2h0M433.4 271.4h0M432.9 256.3h0M433.8 266h0M433.8 270.3h0M434.5 262.4h0M433.4 272.1h0M433.2 272.7h0M434.1 272.1h0M442.9 256h0M443 264.5h0M442 255.9h0M442.1 256.4h0M441.9 272h0M443.5 275.3h0M442.7 266h0M441.7 256.3h0M443.1 266.1h0M441.8 254.5h0M443 254.2h0M438.4 253.7h0M438.3 254.3h0M442.7 254.6h0M441.1 253.3h0M442.3 253h0M437.1 252.8h0M438.3 253.5h0M435 252.4h0M438.2 252.3h0M434.1 252.5h0M442.1 252.1h0M436 252.7h0M443.3 251.8h0M438.6 252.1h0M440 251.1h0M436 248.9h0M442.6 275.3h0M435.1 274.7h0M436 274.6h0M435.1 276.1h0M440.3 275.4h0M439.7 245.5h0M439.8 244.3h0M436.4 242.1h0M437.5 240.9h0M439.8 249.9h0M439.6 247.9h0M437 239.4h0" stroke="#fdaeb0" stroke-width="2.7" stroke-linecap="round"/>
<rect x="472.5" y="254.6" width="9.4" height="20.8" fill="#fda8aa"/>
<path d="M472.5 266.2h0M472.9 260.8h0M472.8 259.4h0M473.1 259.4h0M471.6 255.4h0M472.7 261.3h0M472.6 261.1h0M472.4 272.7h0M473.3 255.5h0M473.4 265.1h0M473 273.9h0M471.9 262.5h0M473.3 265.4h0M473.3 272h0M473.5 268.3h0M471.6 273.4h0M471.9 257.9h0M472.2 258.9h0M480.7 267.9h0M482.2 260.1h0M481.1 267.9h0M481 264.9h0M482.2 257h0M481.5 259h0M481.9 258.9h0M482 263h0M482.3 262.1h0M472.5 254.9h0M480.6 255.4h0M477.6 255h0M476.9 254.6h0M472.9 255h0M473 254.8h0M480.3 255.4h0M479.9 254.4h0M479.3 254.4h0M473.6 254.2h0M477.4 254.5h0M475.8 253.8h0M474.9 254.1h0M482.2 254.3h0M479.3 254.1h0M480 252.8h0M475.8 253.2h0M480.6 252.6h0M478.4 252.2h0M481.4 274.7h0M481.7 274.5h0M478.7 275h0M478.7 275.2h0M472.3 275.1h0M474.6 275.6h0M472 276.1h0M480.3 275.4h0M476.9 276.2h0M478.5 275.8h0M481.8 275.8h0M476.9 249.8h0M475.8 249.6h0M472.3 248.5h0M477.8 247.7h0M474.1 246.6h0M479.2 251h0M478 249.5h0M475.3 250.1h0M474.8 244.7h0" stroke="#fda8aa" stroke-width="2.7" stroke-linecap="round"/>
<rect x="511.1" y="253.9" width="9.4" height="20.6" fill="#fd9597"/>
<path d="M511.1 267.2h0M510.6 260.4h0M511 268.2h0M510.8 255.2h0M511.1 263.3h0M512.1 265.9h0M510.2 267.2h0M510.3 261.6h0M510.2 266.3h0M510.4 273.4h0M510.5 273.8h0M511.9 264.6h0M511 261.9h0M511.6 257.8h0M510.8 255.1h0M511 257.8h0M511.9 263.2h0M510.5 259.5h0M519.4 255.7h0M519.1 268.7h0M519.2 271.2h0M520.9 272.7h0M519.4 270.2h0M520.2 273.4h0M519.6 266.4h0M520.2 257.8h0M520.2 268.8h0M514.2 254.3h0M517.7 254.5h0M519 253.9h0M513.2 254.6h0M512.7 254.7h0M513.5 254.6h0M514.3 253.2h0M515.9 253.4h0M518.8 253.9h0M510.2 252h0M518.6 252h0M513 252.3h0M513.3 274.3h0M510.3 274.1h0M519.6 274.4h0M520.2 273.9h0M510.3 273.8h0M513 274.1h0M518 274.5h0M515.6 275h0M519 274.7h0M515.6 274.9h0M511.2 274.6h0M512.7 274.9h0M520.7 275.9h0M518.6 275.8h0M518.1 276.2h0M519.6 250h0M515.5 249.9h0M516.5 249.1h0M516.7 249.3h0M516.6 243.3h0M518.6 241h0" stroke="#fd9597" stroke-width="2.7" stroke-linecap="round"/>
<rect x="549.6" y="253.9" width="9.4" height="20.6" fill="#dc6b69"/>
<path d="M549.4 267.7h0M549.5 272.8h0M548.8 271.8h0M548.6 271.5h0M548.8 268.3h0M548.8 270h0M549 255.3h0M550.3 265.8h0M550.3 270.2h0M548.8 255.9h0M550 271.3h0M549 272.2h0M548.7 269.7h0M549.9 261.8h0M549.4 260.2h0M549.6 264.2h0M548.9 254.2h0M549.7 257.8h0M557.7 259.1h0M557.8 271.7h0M558.1 267.2h0M557.5 267.5h0M559.4 269.5h0M559 262.5h0M558.5 272.5h0M558 264.3h0M559 260.9h0M551.4 254.1h0M556.4 254.3h0M559.4 254.7h0M557.2 253.4h0M550.4 253.6h0M559.1 253.4h0M550.1 253.6h0M554.5 253.7h0M555.2 253.8h0M555 251.2h0M556.8 251h0M550.3 251.8h0M552 250.3h0M551 274.1h0M559.5 273.9h0M551 274h0M550.7 273.8h0M556.6 273.7h0M553.5 274.1h0M550.3 273.6h0M554.4 274.9h0M550.5 274.6h0M554.9 274.6h0M548.7 274.7h0M557.4 275.2h0M554.2 274.7h0M553.7 274.5h0M554.9 275.9h0M549.2 275.6h0" stroke="#dc6b69" stroke-width="2.7" stroke-linecap="round"/>
<rect x="587.9" y="255" width="9.4" height="19.5" fill="#b44646"/>
<path d="M587.9 272.5h0M587 266h0M587.5 262.6h0M588.7 267.3h0M587.5 263.8h0M588.9 271.9h0M587.8 265.3h0M587.8 257.9h0M588.8 259.5h0M587.3 257.2h0M588.8 272.8h0M588.2 265.3h0M588.1 262.2h0M588.7 265.9h0M588.6 268.5h0M588.3 268.1h0M588.5 270.9h0M597.2 261.3h0M596.3 258.8h0M597.5 264.5h0M595.8 266.7h0M597.5 272.9h0M597.7 271.9h0M596.2 265.1h0M597.2 267.5h0M596.1 255.7h0M594.2 255h0M588.1 255.8h0M596.5 255.4h0M596.4 255.2h0M593.2 255.3h0M593.5 254.2h0M597.5 254.2h0M588.1 254.3h0M593.1 254.4h0M594.1 254.1h0M588.2 253.6h0M593 253.5h0M594.8 253.5h0M595.4 253.3h0M590.5 253.9h0M597 252.1h0M595.1 252.6h0M597 274.5h0M588.9 274.4h0M592.5 274.2h0M589.6 273.6h0M593.2 274.4h0M589.3 275.1h0M597.1 274.6h0M590.1 274.5h0M587.9 274.9h0M593.2 275h0M591.7 276.4h0M593.8 251h0M595.4 250.1h0M597.7 249.3h0M593.6 247.1h0" stroke="#b44646" stroke-width="2.7" stroke-linecap="round"/>
<rect x="626.7" y="252.7" width="9.4" height="21.3" fill="#701818"/>
<path d="M626.4 261.7h0M627.4 260.5h0M627.6 262.1h0M627.6 255.9h0M627.3 262.2h0M626.2 265.3h0M625.8 257h0M627.4 263.9h0M626.4 255.8h0M626 257.6h0M626.6 253.1h0M626.1 261.8h0M627.5 271.1h0M627.6 257.5h0M625.9 270.8h0M627.1 258h0M626.6 272.4h0M627.3 272.6h0M635.6 256.8h0M635.7 255.1h0M634.8 254.6h0M635.1 256.2h0M635.1 267.5h0M635.9 253.2h0M636.3 270.2h0M636.5 257.3h0M636.1 264.6h0M633.8 253.3h0M632 253.4h0M626.8 252.7h0M627 252.8h0M634.4 252.8h0M629.8 253.4h0M628.5 253.6h0M635.7 253.1h0M629.5 252.6h0M632.2 252.1h0M628.4 251.7h0M633.5 252h0M635 252h0M629 252.5h0M629.8 252.7h0M631.9 252.6h0M625.8 251.6h0M636.2 250.5h0M630.9 249.9h0M633 273.7h0M634.2 273.9h0M629.4 273.1h0M629.7 273.3h0M626.9 273.7h0M631.3 273.6h0M635.2 273.6h0M626.9 274.7h0M631.1 274.9h0M635.5 274.1h0M628.6 274.7h0M627.9 274.8h0M633 275h0M629.5 274.7h0M632.3 274.7h0M636 274.4h0M628.2 274.8h0M636.4 275.5h0M628.9 275.1h0M627.3 275h0M631.8 275.4h0M628.9 275.8h0" stroke="#701818" stroke-width="2.7" stroke-linecap="round"/>
<path d="M409.4 250.9L409.5 250.9L409.5 251.2L409.5 251.5L409.5 251.8L409.5 252.1L409.6 252.4L409.6 252.7L409.6 253L409.7 253.3L409.7 253.6L409.8 254L409.8 254.3L409.9 254.6L410 254.9L410.1 255.2L410.2 255.5L410.3 255.8L410.4 256.1L410.6 256.4L410.8 256.7L411 257L411.2 257.3L411.4 257.6L411.7 257.9L411.9 258.2L412.3 258.5L412.6 258.8L413 259.1L413.4 259.4L413.8 259.7L414.2 260.1L414.7 260.4L415.3 260.7L415.8 261L416.4 261.3L417 261.6L417.6 261.9L418.2 262.2L418.9 262.5L419.6 262.8L420.3 263.1L420.9 263.4L421.6 263.7L422.3 264L423 264.3L423.6 264.6L424.2 264.9L424.8 265.2L425.3 265.5L425.8 265.8L426.2 266.2L426.5 266.5L426.8 266.8L427 267.1L427 267.3L427 267.4L426.8 267.7L426.6 268L426.1 268.3L425.6 268.6L425 268.9L424.4 269.2L423.6 269.5L422.9 269.8L422.1 270.1L421.2 270.4L420.4 270.7L419.6 271L418.8 271.3L418 271.6L417.2 271.9L416.5 272.3L415.8 272.6L415.1 272.9L414.5 273.2L414 273.5L413.4 273.8L412.9 274.1L412.5 274.4L412.1 274.7L411.8 275L409.4 275Z" fill="#fde0e1" stroke="#fcc6c8" stroke-width="1"/>
<path d="M447.6 238.2L447.6 238.2L447.6 238.7L447.6 239.2L447.6 239.6L447.6 240.1L447.6 240.6L447.6 241.1L447.6 241.5L447.6 242L447.6 242.5L447.6 243L447.6 243.5L447.6 243.9L447.6 244.4L447.6 244.9L447.6 245.4L447.6 245.9L447.6 246.3L447.6 246.8L447.6 247.3L447.7 247.8L447.7 248.2L447.7 248.7L447.7 249.2L447.8 249.7L447.8 250.2L447.8 250.6L447.9 251.1L448 251.6L448.1 252.1L448.2 252.6L448.3 253L448.5 253.5L448.6 254L448.8 254.5L449.1 254.9L449.4 255.4L449.7 255.9L450 256.4L450.4 256.9L450.9 257.3L451.4 257.8L452 258.3L452.6 258.8L453.3 259.3L454 259.7L454.8 260.2L455.6 260.7L456.5 261.2L457.4 261.6L458.3 262.1L459.2 262.6L460.1 263.1L461.1 263.6L461.9 264L462.8 264.5L463.5 265L464.2 265.5L464.8 266L465.2 266.4L465.5 266.9L465.6 267.3L465.6 267.4L465.3 267.9L464.8 268.3L464 268.8L463.1 269.3L462.1 269.8L461 270.3L459.8 270.7L458.6 271.2L457.4 271.7L456.2 272.2L455.2 272.7L454.1 273.1L453.2 273.6L452.4 274.1L451.6 274.6L450.9 275L450.3 275.5L449.8 276L447.6 276Z" fill="#fed2d4" stroke="#fdaeb0" stroke-width="1"/>
<path d="M486.4 243.5L486.4 243.5L486.4 243.9L486.4 244.3L486.4 244.7L486.4 245.1L486.4 245.6L486.4 246L486.4 246.4L486.4 246.8L486.4 247.2L486.4 247.6L486.4 248L486.4 248.4L486.4 248.8L486.5 249.3L486.5 249.7L486.5 250.1L486.5 250.5L486.5 250.9L486.6 251.3L486.6 251.7L486.7 252.1L486.7 252.6L486.8 253L486.9 253.4L487 253.8L487.1 254.2L487.2 254.6L487.4 255L487.6 255.4L487.8 255.8L488 256.3L488.3 256.7L488.6 257.1L489 257.5L489.4 257.9L489.8 258.3L490.3 258.7L490.8 259.1L491.4 259.5L492 260L492.7 260.4L493.4 260.8L494.1 261.2L494.9 261.6L495.7 262L496.5 262.4L497.4 262.8L498.2 263.2L499 263.7L499.8 264.1L500.6 264.5L501.3 264.9L502 265.3L502.6 265.7L503.1 266.1L503.5 266.5L503.7 266.9L503.8 267.3L503.8 267.4L503.6 267.8L503.2 268.2L502.7 268.6L502 269L501.2 269.4L500.3 269.8L499.3 270.2L498.4 270.7L497.4 271.1L496.4 271.5L495.4 271.9L494.5 272.3L493.6 272.7L492.7 273.1L492 273.5L491.2 273.9L490.6 274.4L490 274.8L489.4 275.2L489 275.6L488.6 276L486.4 276Z" fill="#fecfd0" stroke="#fda8aa" stroke-width="1"/>
<path d="M525 239.8L525 239.8L525 240.3L525.1 240.7L525.1 241.2L525.1 241.6L525.1 242.1L525.1 242.5L525.1 243L525.1 243.5L525.2 243.9L525.2 244.4L525.2 244.8L525.3 245.3L525.3 245.8L525.4 246.2L525.4 246.7L525.5 247.1L525.6 247.6L525.7 248L525.7 248.5L525.9 249L526 249.4L526.1 249.9L526.3 250.3L526.4 250.8L526.6 251.3L526.8 251.7L527.1 252.2L527.3 252.6L527.6 253.1L527.9 253.5L528.2 254L528.5 254.5L528.9 254.9L529.3 255.4L529.7 255.8L530.2 256.3L530.7 256.8L531.2 257.2L531.7 257.7L532.3 258.1L532.8 258.6L533.4 259L534.1 259.5L534.7 260L535.3 260.4L536 260.9L536.7 261.3L537.3 261.8L538 262.3L538.6 262.7L539.3 263.2L539.9 263.6L540.4 264.1L541 264.5L541.5 265L541.9 265.5L542.3 265.9L542.7 266.4L542.9 266.8L543.1 267.3L543.2 267.8L543.2 267.8L543 268.2L542.6 268.7L542 269.1L541.1 269.6L540.2 270L539.1 270.5L538 271L536.8 271.4L535.7 271.9L534.6 272.3L533.5 272.8L532.4 273.3L531.4 273.7L530.6 274.2L529.7 274.6L529 275.1L528.4 275.5L527.8 276L525 276Z" fill="#fec5c6" stroke="#fd9597" stroke-width="1"/>
<path d="M563.5 249.5L563.9 249.5L563.9 249.8L564 250.2L564.1 250.5L564.1 250.8L564.2 251.2L564.3 251.5L564.4 251.8L564.5 252.2L564.6 252.5L564.7 252.9L564.9 253.2L565 253.5L565.2 253.9L565.4 254.2L565.6 254.5L565.8 254.9L566 255.2L566.3 255.5L566.5 255.9L566.8 256.2L567.1 256.5L567.4 256.9L567.7 257.2L568.1 257.6L568.5 257.9L568.9 258.2L569.3 258.6L569.7 258.9L570.2 259.2L570.6 259.6L571.1 259.9L571.6 260.2L572.1 260.6L572.6 260.9L573.2 261.2L573.7 261.6L574.3 261.9L574.8 262.2L575.4 262.6L575.9 262.9L576.5 263.3L577 263.6L577.5 263.9L578 264.3L578.5 264.6L578.9 264.9L579.4 265.3L579.8 265.6L580.1 265.9L580.4 266.3L580.7 266.6L580.9 266.9L581.1 267.3L581.2 267.6L581.2 267.8L581.2 267.9L581 268.3L580.7 268.6L580.3 269L579.7 269.3L579.1 269.6L578.4 270L577.7 270.3L576.9 270.6L576.1 271L575.3 271.3L574.5 271.6L573.7 272L572.8 272.3L572.1 272.6L571.3 273L570.6 273.3L569.9 273.7L569.2 274L568.6 274.3L568.1 274.7L567.5 275L567.1 275.3L566.6 275.7L566.2 276L563.5 276Z" fill="#ecaeac" stroke="#dc6b69" stroke-width="1"/>
<path d="M601.8 245.9L602 245.9L602 246.3L602 246.7L602.1 247L602.1 247.4L602.2 247.8L602.2 248.2L602.3 248.6L602.3 248.9L602.4 249.3L602.5 249.7L602.6 250.1L602.7 250.5L602.8 250.9L602.9 251.2L603 251.6L603.2 252L603.3 252.4L603.5 252.8L603.7 253.1L603.9 253.5L604.1 253.9L604.3 254.3L604.6 254.7L604.9 255L605.2 255.4L605.5 255.8L605.8 256.2L606.2 256.6L606.6 256.9L607 257.3L607.4 257.7L607.8 258.1L608.3 258.5L608.8 258.9L609.3 259.2L609.8 259.6L610.3 260L610.9 260.4L611.4 260.8L612 261.1L612.6 261.5L613.1 261.9L613.7 262.3L614.3 262.7L614.8 263L615.4 263.4L615.9 263.8L616.4 264.2L616.9 264.6L617.4 265L617.8 265.3L618.2 265.7L618.5 266.1L618.8 266.5L619 266.9L619.2 267.2L619.3 267.6L619.3 267.8L619.3 268L619 268.4L618.6 268.8L618.1 269.1L617.4 269.5L616.7 269.9L615.9 270.3L615 270.7L614.1 271L613.2 271.4L612.2 271.8L611.3 272.2L610.4 272.6L609.6 273L608.8 273.3L608 273.7L607.3 274.1L606.6 274.5L606 274.9L605.4 275.2L604.9 275.6L604.5 276L601.8 276Z" fill="#d69999" stroke="#b44646" stroke-width="1"/>
<path d="M640.6 249.5L641.2 249.5L641.3 249.8L641.4 250.2L641.5 250.5L641.6 250.8L641.7 251.2L641.8 251.5L641.9 251.8L642 252.2L642.2 252.5L642.3 252.9L642.5 253.2L642.7 253.5L642.8 253.9L643 254.2L643.3 254.5L643.5 254.9L643.7 255.2L644 255.5L644.3 255.9L644.5 256.2L644.8 256.5L645.2 256.9L645.5 257.2L645.8 257.6L646.2 257.9L646.6 258.2L647 258.6L647.4 258.9L647.8 259.2L648.2 259.6L648.7 259.9L649.1 260.2L649.6 260.6L650.1 260.9L650.6 261.2L651 261.6L651.5 261.9L652 262.2L652.5 262.6L653 262.9L653.5 263.3L653.9 263.6L654.4 263.9L654.8 264.3L655.3 264.6L655.7 264.9L656.1 265.3L656.4 265.6L656.8 265.9L657.1 266.3L657.3 266.6L657.6 266.9L657.7 267.3L657.9 267.6L658 267.9L658 268.2L658 268.3L657.8 268.6L657.5 269L657.1 269.3L656.5 269.6L655.9 270L655.2 270.3L654.5 270.6L653.7 271L652.8 271.3L652 271.6L651.1 272L650.3 272.3L649.5 272.6L648.7 273L647.9 273.3L647.2 273.7L646.5 274L645.8 274.3L645.3 274.7L644.7 275L644.2 275.3L643.7 275.7L643.3 276L640.6 276Z" fill="#b08080" stroke="#701818" stroke-width="1"/>
<path d="M409.4 257.3V264.7M409.4 270V274.9" stroke="#111" stroke-width="1.6"/>
<rect x="407.8" y="264.7" width="3.2" height="5.3" fill="#fee5e6" stroke="#111" stroke-width="1.4"/>
<path d="M407.8 267.3H411" stroke="#111" stroke-width="1.2"/>
<path d="M447.6 255.2V263M447.6 270V276.4" stroke="#111" stroke-width="1.6"/>
<rect x="446" y="263" width="3.2" height="7" fill="#fedbdb" stroke="#111" stroke-width="1.4"/>
<path d="M446 266.5H449.2" stroke="#111" stroke-width="1.2"/>
<path d="M486.4 255.2V263.6M486.4 269.4V276.4" stroke="#111" stroke-width="1.6"/>
<rect x="484.8" y="263.6" width="3.2" height="5.8" fill="#fed8d9" stroke="#111" stroke-width="1.4"/>
<path d="M484.8 266.5H488" stroke="#111" stroke-width="1.2"/>
<path d="M525 255.6V263.6M525 270.2V276.2" stroke="#111" stroke-width="1.6"/>
<rect x="523.4" y="263.6" width="3.2" height="6.6" fill="#fecfd0" stroke="#111" stroke-width="1.4"/>
<path d="M523.4 267H526.6" stroke="#111" stroke-width="1.2"/>
<path d="M563.5 256.8V263.6M563.5 269V276.2" stroke="#111" stroke-width="1.6"/>
<rect x="561.9" y="263.6" width="3.2" height="5.4" fill="#efbcbc" stroke="#111" stroke-width="1.4"/>
<path d="M561.9 266.3H565.1" stroke="#111" stroke-width="1.2"/>
<path d="M601.8 256.3V264M601.8 269V275.9" stroke="#111" stroke-width="1.6"/>
<rect x="600.2" y="264" width="3.2" height="5" fill="#ddacac" stroke="#111" stroke-width="1.4"/>
<path d="M600.2 266.5H603.4" stroke="#111" stroke-width="1.2"/>
<path d="M640.6 256.8V264M640.6 269.5V276" stroke="#111" stroke-width="1.6"/>
<rect x="639" y="264" width="3.2" height="5.5" fill="#bf9797" stroke="#111" stroke-width="1.4"/>
<path d="M639 266.8H642.2" stroke="#111" stroke-width="1.2"/>
<rect x="395.5" y="401" width="9.4" height="28" fill="#fcc6c8"/>
<path d="M394.7 412.8h0M396.1 424.2h0M395.9 415.7h0M394.8 412.1h0M396 422.9h0M395.7 426.2h0M395.6 424.7h0M396.3 405.7h0M394.8 428.7h0M395.1 413.6h0M395.3 424.8h0M394.5 414.7h0M395.4 403.8h0M395.4 425.5h0M394.6 408h0M395.7 416.2h0M396 410.6h0M394.7 411.4h0M396.2 413.2h0M395.3 422.9h0M395.7 404.8h0M395.3 426.5h0M394.6 422.3h0M395.1 422h0M403.7 419.4h0M405.1 402.9h0M405.3 404h0M403.4 424h0M404.4 402h0M404.7 415.2h0M405.4 428.3h0M405.2 415.6h0M405 421.6h0M403.9 421.9h0M404 412.8h0M403.6 404.8h0M398.5 401.7h0M404.6 401.1h0M397.7 401.7h0M399.9 401.4h0M403.2 401h0M404.8 401.3h0M401.9 400.6h0M401.8 400.9h0M398.1 400.6h0M395 400.8h0M403.4 400.7h0M402 400.6h0M398 400.8h0M395.9 400.6h0M399 399.7h0M399.3 399.7h0M395.4 399.4h0M395.7 399.7h0M401.3 398.8h0M404.5 398.1h0M395.5 398.4h0M402.6 397.4h0M396.4 397.7h0M402.3 397.6h0M397.3 397.2h0M398.4 396.3h0M396.5 395.1h0M401.3 394.1h0M398.8 394h0M401.6 392.4h0M398.5 392.8h0M400.6 392.6h0M401.4 391.8h0M404.5 391.2h0M405.3 389.4h0M403.3 389.9h0M400.1 389.4h0M395.3 388.9h0M400.9 387.2h0M394.7 386.7h0M397.7 385.8h0M399.5 385.2h0M398.2 385.3h0M402.5 384.7h0M397.5 384h0M404.1 383.7h0M397.9 382.6h0M397.8 428.9h0M402.1 428.4h0M396.3 428.4h0M399.3 428.8h0M402.1 428.5h0M404.4 428.6h0M403.9 428.1h0M395.4 428.9h0M402.5 428.3h0M395.8 428.1h0M398 428.9h0M402.6 429.9h0M404.8 429h0M398.1 429.6h0M398.1 429.7h0M401.1 384.2h0M396.1 384.5h0M401.3 379.1h0M398.6 381.6h0M404.9 380.5h0M395 383.2h0M403 384h0M402.7 383.8h0M401 384.3h0M400.3 383.3h0M398.8 377.7h0" stroke="#fcc6c8" stroke-width="2.7" stroke-linecap="round"/>
<rect x="434.1" y="382" width="9.4" height="49.5" fill="#fdaeb0"/>
<path d="M434.3 418.6h0M434.5 403.3h0M433.2 422.9h0M433.3 400.8h0M434.7 430.5h0M434.6 387.6h0M435 384.3h0M433.2 418.4h0M434.9 413.7h0M434.9 414.1h0M433.3 412.7h0M434.6 406.5h0M434.5 405.2h0M433.3 424.7h0M433.5 392.1h0M433.4 399.1h0M433.9 391.8h0M433.4 404.3h0M433.1 406.3h0M433.3 388.6h0M433.3 423.9h0M434.7 430.7h0M434.7 407h0M433.9 410.9h0M434.4 430.9h0M433.8 426.7h0M435 429.2h0M434.4 412.4h0M435.1 402.5h0M434.7 386h0M433.6 406.9h0M434.6 390.9h0M434.7 410.5h0M433.4 383.9h0M433.9 422.7h0M435.1 419.6h0M433.6 426.4h0M433.4 401.7h0M434.4 398.7h0M433.8 403.4h0M434.9 405.2h0M442.2 399.6h0M443.2 408.8h0M443.9 407.2h0M443.6 419.1h0M442.9 402.7h0M442.9 387.9h0M442.2 387.7h0M442.3 386.1h0M442.8 389.4h0M444 402.1h0M442 414.7h0M443.4 428.9h0M442.5 397.7h0M443.5 413h0M443.2 428.3h0M444 382.4h0M442.8 428.7h0M442 398.8h0M443.5 385.7h0M443.2 427.5h0M434.3 382.4h0M436.8 381.8h0M441.1 381.8h0M443 380.2h0M440.2 380.8h0M443.9 380.4h0M442.7 380.6h0M440.1 380.3h0M443.9 379.6h0M440.5 378.2h0M441.7 377.6h0M436.3 377.7h0M440.7 376.8h0M438 430.6h0M434.5 430.9h0M443.7 431h0M443.9 431h0M438.1 430.5h0M434 431.4h0M440.6 431.1h0M442.8 431.2h0M441.1 431.8h0M442.4 431.6h0M442.7 432.5h0M438.7 432h0M439.8 432.4h0M434.1 432.4h0M436.9 431.9h0M442.6 431.6h0M434.7 432.2h0" stroke="#fdaeb0" stroke-width="2.7" stroke-linecap="round"/>
<rect x="472.5" y="383.7" width="9.4" height="48.8" fill="#fda8aa"/>
<path d="M473 394.7h0M472.9 401.1h0M471.6 396.5h0M471.8 405.7h0M472.4 402.5h0M473.3 402.5h0M471.9 429.9h0M472.8 430.1h0M472.4 413.2h0M472.2 430.7h0M472.1 429.1h0M472.2 421.2h0M472.8 421.7h0M471.9 432.5h0M472.5 387.4h0M472.9 387.5h0M472.8 418.7h0M471.9 389.3h0M471.8 415.8h0M473 428.6h0M472.1 388.5h0M472.8 424.5h0M473 407.6h0M472 419.3h0M473.2 394.4h0M472.9 421.3h0M473.5 402h0M472.3 385.9h0M471.8 420h0M472 428.2h0M472.1 422.6h0M472.2 420.6h0M472.4 394h0M471.9 397.7h0M471.7 426h0M473.3 422.6h0M471.5 426.8h0M473.1 424.8h0M472.8 393.8h0M472.1 402.7h0M480.8 385.1h0M482.3 402.7h0M481.6 388.9h0M482.1 420.4h0M480.5 393.5h0M481.9 386.5h0M480.4 389.5h0M480.7 421.5h0M482 411.6h0M481 421.9h0M481.7 386.7h0M480.8 417.6h0M481.5 402.9h0M481.5 395.6h0M481.6 390.4h0M482.4 423.9h0M481.4 431.4h0M481.8 411.9h0M481.7 418h0M482.4 422h0M473.2 384h0M482.4 384.4h0M478 384h0M473.2 383.7h0M473 383.9h0M477.1 384.1h0M482.2 384.6h0M478.7 383.1h0M481.6 383h0M480.8 383.1h0M472.1 382.1h0M479.5 382.2h0M480.7 382.3h0M477.3 382.2h0M473.6 380.8h0M478.3 380h0M481.9 379h0M481 373.8h0M476.8 374.5h0M482.1 432.1h0M478.2 432.2h0M474.4 431.9h0M473.9 432.3h0M475.1 431.6h0M481.2 431.8h0M481.9 431.9h0M478.6 432.3h0M477.1 432.4h0M480.3 432.4h0M477.3 433.5h0M477.5 432.9h0M472.7 432.9h0M476.5 375.8h0M481.7 375.1h0M481.1 375.3h0M475.3 376h0M476.4 374.2h0M475.4 375.9h0M477.4 374.2h0" stroke="#fda8aa" stroke-width="2.7" stroke-linecap="round"/>
<rect x="511.1" y="387.4" width="9.4" height="45.6" fill="#fd9597"/>
<path d="M512 398.2h0M510.3 421.9h0M511.3 403.3h0M510.9 402.4h0M511.4 426.9h0M510.7 428.9h0M510.9 409.8h0M510.6 391.4h0M510.5 398.8h0M511 409.9h0M511.8 403.8h0M511.6 399h0M511.1 390.9h0M511.9 403.5h0M511.4 413h0M511.1 398.3h0M511.7 408.9h0M510.4 392h0M511.1 413.2h0M510.7 398.1h0M511.8 418.6h0M510.4 424.2h0M510.2 425.8h0M511.8 393h0M512.1 428.5h0M510.5 417.2h0M511 394h0M510.5 396.8h0M511.4 413.5h0M512 401.4h0M511.1 404.4h0M510.9 414h0M511.7 418.6h0M510.3 400h0M511.4 422.1h0M511.8 403.9h0M511 389.6h0M511.1 401.3h0M520.1 414.8h0M519.3 390.9h0M520.4 420.3h0M521 410.4h0M519.1 390.9h0M520.9 420.9h0M519.3 406.7h0M519.4 422.8h0M520.5 429.7h0M520.3 405.9h0M520.8 404.9h0M520.5 397.4h0M519.6 415h0M519.6 426.6h0M520 429.7h0M520.2 413.7h0M520 396.3h0M519.7 428.3h0M520.4 422.5h0M513.9 388.1h0M520.2 387.6h0M520.8 388.1h0M512.3 387.4h0M520.2 388.1h0M520.6 387.2h0M510.3 386.7h0M519.9 387.1h0M518.8 386.6h0M519.7 387.1h0M513 386.1h0M514.7 386.3h0M519.1 386.1h0M514 385.8h0M512.9 385.1h0M516 384.7h0M510.9 383.6h0M516.2 382.5h0M511 382.5h0M516.3 383h0M515.7 381h0M519.5 432.1h0M514.1 432.8h0M510.6 432.9h0M517.2 432.4h0M512.7 432.5h0M518.7 433.7h0M516.1 433.4h0M517.2 433.8h0M511.7 433.3h0M512.4 433.8h0M513.6 433.4h0M515.7 434h0M510.1 433.2h0" stroke="#fd9597" stroke-width="2.7" stroke-linecap="round"/>
<rect x="549.9" y="411" width="9.4" height="22" fill="#dc6b69"/>
<path d="M550.6 421.1h0M549.6 431.8h0M549.1 411.3h0M550.7 429h0M550 416.8h0M550.5 414.5h0M549.8 414.8h0M549.7 411.1h0M549.8 421h0M550.9 419.3h0M550 414.3h0M549.5 416.1h0M550.8 413.8h0M550.2 429.3h0M550.8 426.5h0M549.3 431.2h0M549.9 422.6h0M550.7 411.4h0M550.3 427.7h0M559.1 415.3h0M559.6 416.3h0M558.4 429.4h0M559.6 416.8h0M558.8 429.7h0M558.9 416h0M558.5 424.9h0M559.2 417.8h0M558.2 428.2h0M553.1 411.2h0M556 411.1h0M552.8 411.9h0M553.9 411.9h0M557.2 410.8h0M556 410.8h0M551.7 410.8h0M551.4 410.5h0M553.2 410.2h0M551.7 410.9h0M549.8 409.4h0M552.8 409.3h0M551.7 409.2h0M556 408.4h0M548.9 408.3h0M558.5 408.1h0M558.6 408.6h0M558 408.6h0M556.6 408.9h0M555.1 407.5h0M551.9 406.3h0M559.7 406.1h0M554.4 406.7h0M555.7 406.8h0M552.8 406.2h0M558.9 405.4h0M551.2 405.6h0M555.2 405.8h0M554.2 404.2h0M553.5 403.9h0M558.1 403.1h0M551.9 403.6h0M551 403h0M556.7 402.7h0M557.6 401.7h0M556.3 401.9h0M558.8 398.3h0M549 397.4h0M551.1 397.2h0M555 396.6h0M555.2 394.9h0M552.4 393.7h0M551.6 391h0M554.1 390.3h0M549.7 388.2h0M556.3 387.6h0M559 432.7h0M552.3 432.2h0M558.2 432.1h0M554.6 432.7h0M559.1 432.7h0M554.6 393h0M551.8 377.6h0M549.5 393.1h0M559.1 379.7h0M552.2 388.1h0M550.8 389.3h0M554 388.6h0M550 386.7h0M558.6 376.2h0" stroke="#dc6b69" stroke-width="2.7" stroke-linecap="round"/>
<rect x="588.4" y="413.3" width="9.4" height="19.7" fill="#b44646"/>
<path d="M588.7 424.6h0M589.1 414.3h0M588.6 420.6h0M588.7 431.8h0M587.5 416.7h0M588.1 423.8h0M589.1 427.8h0M588.5 417.1h0M588.4 422h0M587.6 431.3h0M589.1 425.4h0M587.9 424.7h0M588 426.1h0M587.5 425.2h0M588.5 431.5h0M588.5 428.7h0M587.8 424.2h0M596.9 432.7h0M598.2 418.1h0M597.5 414.7h0M597.4 432.7h0M596.6 427.7h0M597.3 432.9h0M597.1 429.6h0M597.5 429.1h0M588.7 413.9h0M591.7 414h0M593.1 413.7h0M589.6 414.1h0M590.4 413.9h0M588.5 414.3h0M589.1 413.8h0M596.3 413.5h0M593.7 412.5h0M592.7 412.4h0M594.7 412.6h0M597.9 412.7h0M588 412.3h0M591 412.6h0M588.7 412h0M588 412.1h0M591.7 412h0M594.1 411.4h0M589.9 411.2h0M596.8 410.5h0M593.4 410.6h0M589.4 411.1h0M594.8 410.4h0M594.7 410.3h0M588.4 410.7h0M590.2 410h0M588.2 409.4h0M595.7 409.2h0M596.2 407h0M591.4 406.7h0M588.6 406.6h0M595.2 406.9h0M597.5 406.6h0M589.9 407h0M597.8 406.7h0M591.7 406.4h0M590 407.2h0M597.4 405.6h0M594.4 406h0M588.9 405.6h0M593.9 405.6h0M595.9 404.8h0M594.6 403.8h0M588.4 403.8h0M594.1 403h0M592.6 402.7h0M595.2 402.8h0M588.4 401.7h0M597.1 401.5h0M589.6 400.6h0M593.9 400.4h0M593.3 400.2h0M592.2 399.9h0M591.9 400h0M590.2 398.8h0M597.7 399.3h0M588.7 399h0M587.6 398.4h0M594.5 397.8h0M590.1 395.6h0M591.9 394.1h0M592.5 432.6h0M596.5 432.8h0M587.8 432.2h0M591.1 432.1h0M592.3 432.5h0M593.1 432.3h0M590 432.6h0M587.8 391.9h0M589.5 385.6h0M590.1 391.5h0M590 387.8h0M594.4 386.7h0M597.5 389.6h0M588.9 385.5h0M588.6 391h0M594.7 383h0" stroke="#b44646" stroke-width="2.7" stroke-linecap="round"/>
<rect x="626.7" y="401.5" width="9.4" height="31.5" fill="#701818"/>
<path d="M626.1 415.7h0M625.9 429.1h0M627.2 422.4h0M627.1 412.9h0M626.1 402.1h0M626.5 430.1h0M625.8 407.6h0M626.8 403.8h0M626.3 425.2h0M626.1 411.1h0M626.3 408h0M627.3 431.4h0M626.9 409.5h0M626.2 423.2h0M627.1 427.2h0M626 407.8h0M626.4 415h0M627.3 404.3h0M626.3 405.1h0M627.3 423.9h0M627.3 411.5h0M626.8 429.4h0M625.7 426.7h0M627.2 415.2h0M627.2 425.4h0M626.1 432h0M636.5 409.6h0M636.5 418.7h0M635.6 425.9h0M636.4 409.6h0M634.8 427.9h0M635.5 418.9h0M635.6 429.2h0M635.7 423.7h0M636.1 401.6h0M635.7 420.5h0M634.8 406.8h0M634.7 414.6h0M636.2 409.2h0M635 402h0M628.6 401.9h0M627.1 402.1h0M633 401.9h0M634.3 402.3h0M633.3 400.9h0M633.1 400.7h0M628.2 400.6h0M635.6 401.2h0M629.1 400.6h0M629.4 401.3h0M627.1 399.5h0M628.3 400.3h0M630.9 400.3h0M626.7 400.2h0M629.7 399.1h0M630.4 399.3h0M633 399.4h0M634.8 399.3h0M626.7 398.5h0M630.9 398.4h0M634.5 397.6h0M636.6 398h0M628.9 397.9h0M636 398.4h0M629.6 398.1h0M633.5 395.8h0M630.8 392.7h0M628.4 392.2h0M632.7 389.5h0M632.4 388.2h0M626.1 386h0M629.2 432.6h0M633.5 432.1h0M628.5 432.2h0M625.9 432.6h0M636.6 432.3h0M635.9 432.4h0M635.7 432.1h0M629.2 432.8h0M634.4 383h0M629.1 385.6h0M632 382h0M630 384h0M632.5 382.6h0M627.3 385.2h0M626.8 388h0M631.9 388.4h0M629.3 383h0" stroke="#701818" stroke-width="2.7" stroke-linecap="round"/>
<path d="M409.4 376.5L411.7 376.5L411.8 377.2L411.9 377.9L412 378.5L412.1 379.2L412.2 379.9L412.4 380.6L412.5 381.2L412.6 381.9L412.7 382.6L412.8 383.3L413 383.9L413.1 384.6L413.3 385.3L413.4 386L413.6 386.7L413.7 387.3L413.9 388L414.1 388.7L414.2 389.4L414.4 390L414.6 390.7L414.8 391.4L415 392.1L415.2 392.8L415.4 393.4L415.6 394.1L415.9 394.8L416.1 395.5L416.4 396.1L416.6 396.8L416.9 397.5L417.1 398.2L417.4 398.8L417.7 399.5L418 400.2L418.3 400.9L418.6 401.6L418.9 402.2L419.2 402.9L419.6 403.6L419.9 404.3L420.2 404.9L420.6 405.6L421 406.3L421.4 407L421.7 407.7L422.1 408.3L422.5 409L422.9 409.7L423.3 410.4L423.8 411L424.2 411.7L424.6 412.4L425.1 413.1L425.5 413.7L425.9 414.4L426.3 415.1L426.8 415.8L427.1 416.5L427.4 417L427.4 417.1L427.3 417.8L427 418.5L426.7 419.2L426.2 419.8L425.7 420.5L425.1 421.2L424.4 421.9L423.7 422.6L423 423.2L422.2 423.9L421.4 424.6L420.7 425.3L419.9 425.9L419.1 426.6L418.4 427.3L417.6 428L416.9 428.6L416.3 429.3L415.6 430L409.4 430Z" fill="#fde0e1" stroke="#fcc6c8" stroke-width="1"/>
<path d="M448 375.9L449.4 375.9L449.5 376.6L449.6 377.3L449.8 378L449.9 378.7L450.1 379.5L450.2 380.2L450.4 380.9L450.6 381.6L450.8 382.3L451 383L451.3 383.7L451.5 384.4L451.8 385.1L452 385.8L452.3 386.6L452.6 387.3L452.9 388L453.2 388.7L453.6 389.4L453.9 390.1L454.3 390.8L454.6 391.5L455 392.2L455.4 392.9L455.8 393.7L456.2 394.4L456.6 395.1L457.1 395.8L457.5 396.5L457.9 397.2L458.4 397.9L458.8 398.6L459.3 399.3L459.7 400L460.2 400.8L460.6 401.5L461.1 402.2L461.5 402.9L461.9 403.6L462.3 404.3L462.7 405L463.1 405.7L463.5 406.4L463.8 407.1L464.1 407.9L464.4 408.6L464.7 409.3L465 410L465.2 410.7L465.3 411.4L465.5 412.1L465.6 412.8L465.6 413.5L465.6 413.6L465.6 414.2L465.4 415L465.2 415.7L465 416.4L464.7 417.1L464.3 417.8L464 418.5L463.5 419.2L463.1 419.9L462.6 420.6L462.1 421.3L461.6 422.1L461 422.8L460.5 423.5L459.9 424.2L459.4 424.9L458.8 425.6L458.2 426.3L457.7 427L457.1 427.7L456.6 428.4L456.1 429.2L455.6 429.9L455.1 430.6L454.6 431.3L454.1 432L448 432Z" fill="#fed2d4" stroke="#fdaeb0" stroke-width="1"/>
<path d="M486.4 373L487.8 373L487.9 373.8L488.1 374.5L488.2 375.3L488.4 376L488.6 376.8L488.8 377.6L489 378.3L489.2 379.1L489.4 379.8L489.6 380.6L489.9 381.4L490.1 382.1L490.4 382.9L490.7 383.6L491 384.4L491.3 385.2L491.6 385.9L492 386.7L492.3 387.4L492.7 388.2L493.1 388.9L493.5 389.7L493.9 390.5L494.3 391.2L494.8 392L495.2 392.7L495.7 393.5L496.1 394.3L496.6 395L497 395.8L497.5 396.5L498 397.3L498.4 398.1L498.9 398.8L499.4 399.6L499.8 400.3L500.3 401.1L500.7 401.9L501.1 402.6L501.5 403.4L501.9 404.1L502.3 404.9L502.6 405.7L503 406.4L503.2 407.2L503.5 407.9L503.7 408.7L503.9 409.5L504.1 410.2L504.2 411L504.2 411.7L504.2 411.8L504.2 412.5L504 413.3L503.8 414L503.6 414.8L503.3 415.5L502.9 416.3L502.5 417.1L502.1 417.8L501.6 418.6L501.1 419.3L500.6 420.1L500.1 420.8L499.5 421.6L499 422.4L498.4 423.1L497.8 423.9L497.3 424.6L496.7 425.4L496.1 426.2L495.6 426.9L495 427.7L494.5 428.4L494 429.2L493.5 430L493 430.7L492.5 431.5L492.1 432.2L491.7 433L486.4 433Z" fill="#fecfd0" stroke="#fda8aa" stroke-width="1"/>
<path d="M525 378.2L525.5 378.2L525.6 378.9L525.6 379.6L525.6 380.3L525.7 381L525.7 381.7L525.7 382.4L525.8 383.1L525.8 383.9L525.9 384.6L526 385.3L526 386L526.1 386.7L526.1 387.4L526.2 388.1L526.3 388.8L526.4 389.5L526.4 390.2L526.5 390.9L526.6 391.6L526.7 392.3L526.8 393L526.9 393.7L527 394.4L527.2 395.2L527.3 395.9L527.4 396.6L527.6 397.3L527.7 398L527.9 398.7L528.1 399.4L528.2 400.1L528.4 400.8L528.6 401.5L528.8 402.2L529 402.9L529.3 403.6L529.5 404.3L529.7 405L530 405.7L530.3 406.5L530.6 407.2L530.9 407.9L531.2 408.6L531.5 409.3L531.9 410L532.2 410.7L532.6 411.4L533 412.1L533.4 412.8L533.9 413.5L534.3 414.2L534.8 414.9L535.3 415.6L535.8 416.3L536.3 417L536.9 417.8L537.4 418.5L538 419.2L538.6 419.9L539.2 420.6L539.8 421.3L540.5 422L541.1 422.7L541.7 423.4L542.4 424.1L542.9 424.8L543.2 425.2L543.1 425.5L542.8 426.2L542.1 426.9L541.2 427.6L540.1 428.3L539 429.1L537.7 429.8L536.4 430.5L535.1 431.2L533.9 431.9L532.7 432.6L531.6 433.3L530.6 434L525 434Z" fill="#fec5c6" stroke="#fd9597" stroke-width="1"/>
<path d="M563.8 375L563.9 375L563.9 375.7L563.9 376.5L563.9 377.2L563.9 377.9L563.9 378.7L563.9 379.4L563.9 380.1L563.9 380.9L563.9 381.6L563.9 382.3L564 383.1L564 383.8L564 384.5L564 385.3L564 386L564.1 386.7L564.1 387.5L564.1 388.2L564.1 388.9L564.2 389.7L564.2 390.4L564.2 391.2L564.3 391.9L564.3 392.6L564.4 393.4L564.4 394.1L564.5 394.8L564.5 395.6L564.6 396.3L564.7 397L564.7 397.8L564.8 398.5L564.9 399.2L565 400L565.1 400.7L565.3 401.4L565.4 402.2L565.5 402.9L565.7 403.6L565.8 404.4L566 405.1L566.2 405.8L566.4 406.6L566.6 407.3L566.9 408L567.1 408.8L567.4 409.5L567.7 410.2L568 411L568.3 411.7L568.7 412.4L569.1 413.2L569.5 413.9L570 414.6L570.4 415.4L571 416.1L571.5 416.8L572.1 417.6L572.7 418.3L573.3 419.1L574 419.8L574.7 420.5L575.5 421.3L576.3 422L577.1 422.7L578 423.5L578.8 424.2L579.7 424.9L580.6 425.7L581.2 426.3L581.2 426.4L580.9 427.1L580.2 427.9L579.2 428.6L578 429.3L576.7 430.1L575.3 430.8L573.9 431.5L572.6 432.3L571.3 433L563.8 433Z" fill="#ecaeac" stroke="#dc6b69" stroke-width="1"/>
<path d="M602.3 381.8L602.4 381.8L602.5 382.4L602.5 383.1L602.5 383.7L602.5 384.4L602.5 385L602.5 385.7L602.5 386.3L602.6 387L602.6 387.6L602.6 388.3L602.6 388.9L602.7 389.6L602.7 390.2L602.7 390.9L602.8 391.5L602.8 392.2L602.8 392.8L602.9 393.5L602.9 394.1L603 394.8L603 395.4L603.1 396.1L603.2 396.7L603.2 397.4L603.3 398L603.4 398.7L603.5 399.3L603.5 399.9L603.6 400.6L603.7 401.2L603.9 401.9L604 402.5L604.1 403.2L604.2 403.8L604.4 404.5L604.6 405.1L604.7 405.8L604.9 406.4L605.1 407.1L605.3 407.7L605.5 408.4L605.8 409L606 409.7L606.3 410.3L606.6 411L606.9 411.6L607.2 412.3L607.5 412.9L607.9 413.6L608.3 414.2L608.7 414.9L609.1 415.5L609.6 416.1L610.1 416.8L610.6 417.4L611.1 418.1L611.7 418.7L612.3 419.4L612.9 420L613.6 420.7L614.3 421.3L615 422L615.7 422.6L616.5 423.3L617.3 423.9L618.1 424.6L618.9 425.2L619.6 425.9L620 426.3L620 426.5L619.6 427.2L619 427.8L618.2 428.5L617.1 429.1L616 429.8L614.8 430.4L613.5 431.1L612.3 431.7L611.1 432.4L609.9 433L602.3 433Z" fill="#d69999" stroke="#b44646" stroke-width="1"/>
<path d="M640.6 381.8L641 381.8L641 382.4L641 383.1L641 383.7L641.1 384.4L641.1 385L641.1 385.7L641.2 386.3L641.2 387L641.2 387.6L641.3 388.3L641.3 388.9L641.4 389.6L641.4 390.2L641.5 390.9L641.5 391.5L641.6 392.2L641.7 392.8L641.7 393.5L641.8 394.1L641.9 394.8L642 395.4L642 396.1L642.1 396.7L642.2 397.4L642.3 398L642.4 398.7L642.6 399.3L642.7 399.9L642.8 400.6L642.9 401.2L643.1 401.9L643.2 402.5L643.4 403.2L643.6 403.8L643.8 404.5L643.9 405.1L644.1 405.8L644.4 406.4L644.6 407.1L644.8 407.7L645.1 408.4L645.3 409L645.6 409.7L645.9 410.3L646.2 411L646.5 411.6L646.8 412.3L647.2 412.9L647.5 413.6L647.9 414.2L648.3 414.9L648.7 415.5L649.2 416.1L649.6 416.8L650.1 417.4L650.6 418.1L651.1 418.7L651.6 419.4L652.2 420L652.8 420.7L653.3 421.3L653.9 422L654.6 422.6L655.2 423.3L655.8 423.9L656.5 424.6L657.1 425.2L657.7 425.9L658 426.3L658 426.5L657.6 427.2L657 427.8L656.2 428.5L655.2 429.1L654.1 429.8L652.9 430.4L651.6 431.1L650.4 431.7L649.2 432.4L648.1 433L640.6 433Z" fill="#b08080" stroke="#701818" stroke-width="1"/>
<path d="M409.4 376.5V404.5M409.4 423.6V430" stroke="#111" stroke-width="1.6"/>
<path d="M407.4 404.5H411.4V413.6L410.4 415.6L411.4 417.6V423.6H407.4V417.6L408.4 415.6L407.4 413.6Z" fill="#fee5e6" stroke="#111" stroke-width="1.2"/>
<path d="M408.4 415.6H410.4" stroke="#111" stroke-width="1.2"/>
<path d="M448 375.9V402.4M448 422.6V432.1" stroke="#111" stroke-width="1.6"/>
<path d="M446 402.4H450V410L449 412L450 414V422.6H446V414L447 412L446 410Z" fill="#fedbdb" stroke="#111" stroke-width="1.2"/>
<path d="M447 412H449" stroke="#111" stroke-width="1.2"/>
<path d="M486.4 373.2V402M486.4 422V433.2" stroke="#111" stroke-width="1.6"/>
<path d="M484.4 402H488.4V408.9L487.4 410.9L488.4 412.9V422H484.4V412.9L485.4 410.9L484.4 408.9Z" fill="#fed8d9" stroke="#111" stroke-width="1.2"/>
<path d="M485.4 410.9H487.4" stroke="#111" stroke-width="1.2"/>
<path d="M525 397.6V415.3M525 426.7V434" stroke="#111" stroke-width="1.6"/>
<path d="M523 415.3H527V420.5L526 422.5L527 424.5V426.7H523V424.5L524 422.5L523 420.5Z" fill="#fecfd0" stroke="#111" stroke-width="1.2"/>
<path d="M524 422.5H526" stroke="#111" stroke-width="1.2"/>
<path d="M563.8 408.5V420.1M563.8 427.9V432.7" stroke="#111" stroke-width="1.6"/>
<path d="M561.8 420.1H565.8V422.6L564.8 424.5L565.8 426.4V427.9H561.8V426.4L562.8 424.5L561.8 422.6Z" fill="#efbcbc" stroke="#111" stroke-width="1.2"/>
<path d="M562.8 424.5H564.8" stroke="#111" stroke-width="1.2"/>
<path d="M602.3 412V419.4M602.3 427.9V432.7" stroke="#111" stroke-width="1.6"/>
<path d="M600.3 419.4H604.3V422L603.3 424L604.3 426V427.9H600.3V426L601.3 424L600.3 422Z" fill="#ddacac" stroke="#111" stroke-width="1.2"/>
<path d="M601.3 424H603.3" stroke="#111" stroke-width="1.2"/>
<path d="M640.6 408.5V419.4M640.6 427.9V433" stroke="#111" stroke-width="1.6"/>
<path d="M638.6 419.4H642.6V422L641.6 424L642.6 426V427.9H638.6V426L639.6 424L638.6 422Z" fill="#bf9797" stroke="#111" stroke-width="1.2"/>
<path d="M639.6 424H641.6" stroke="#111" stroke-width="1.2"/>
<path d="M409.4 323.3H525" stroke="#a8a8a8" stroke-width="1"/>
<path d="M409.4 325.5H563.8" stroke="#a8a8a8" stroke-width="1"/>
<path d="M409.4 327.6H602.3" stroke="#a8a8a8" stroke-width="1"/>
<path d="M409.4 329.7H640.6" stroke="#a8a8a8" stroke-width="1"/>
<path d="M448 335.1H525" stroke="#b86a6a" stroke-width="1"/>
<path d="M448 337.1H563.8" stroke="#b86a6a" stroke-width="1"/>
<path d="M448 339.2H602.3" stroke="#b86a6a" stroke-width="1"/>
<path d="M448 341.2H640.6" stroke="#b86a6a" stroke-width="1"/>
<path d="M486.4 346.9H525" stroke="#b86a6a" stroke-width="1"/>
<path d="M486.4 349.1H563.8" stroke="#b86a6a" stroke-width="1"/>
<path d="M486.4 351.4H602.3" stroke="#b86a6a" stroke-width="1"/>
<path d="M486.4 353.4H640.6" stroke="#b86a6a" stroke-width="1"/>
<path d="M525 358.4H563.8" stroke="#b86a6a" stroke-width="1"/>
<path d="M525 360.4H602.3" stroke="#b86a6a" stroke-width="1"/>
<path d="M525 362.8H640.6" stroke="#b86a6a" stroke-width="1"/>
<rect x="395.1" y="548.3" width="9.4" height="16.7" fill="#fcc6c8"/>
<path d="M394.1 555.5h0M395.6 554.6h0M395.7 554.8h0M395.2 553.4h0M394.3 561.4h0M395.1 561.6h0M395.7 561.3h0M394.9 553.2h0M394.6 556.1h0M395.3 562.7h0M396.1 560.5h0M395.2 553.1h0M395.3 553h0M395.8 552.1h0M403.8 552h0M403.4 561.1h0M403.4 553.7h0M403.1 563.5h0M404.8 554.6h0M404.8 552.1h0M403.5 557.6h0M404.5 548.9h0M399.2 548.7h0M403.4 548.4h0M398.4 548.4h0M398.4 549.1h0M403.2 548.4h0M396.8 549h0M396 548.3h0M398.4 548.2h0M400.4 547.4h0M400.2 547.6h0M403.9 547.5h0M399.5 547.3h0M401.7 546.4h0M404.2 546.8h0M400 546.7h0M398.4 547.2h0M402.4 546.7h0M403 546.7h0M398.7 545.7h0M401.2 544.8h0M401.2 545.2h0M395.8 543.7h0M404.2 543.4h0M396.7 544.3h0M402.2 543.8h0M395.9 543.3h0M397.7 543.5h0M396.7 543h0M402.1 543.2h0M399.4 542.4h0M404.6 542.3h0M394.4 541h0M401.1 540.4h0M402.2 541.2h0M396.1 540.9h0M395.4 540.2h0M396.1 538.3h0M400.2 535.3h0M402.5 536h0M398.3 534h0M398.8 564.8h0M404.9 564h0M401 564.8h0M403 564.9h0M401.1 564.8h0M398.5 564.6h0M400.1 564.4h0M399 564.7h0M395.7 564.8h0M404.8 565.4h0M398.7 565.2h0M402.7 565.1h0M402.6 565.5h0M403.5 565.6h0M404.4 565.5h0M396.6 565.9h0M403.8 565.8h0M397 533.4h0M403 537h0M398.9 532.8h0M402.7 534.2h0M394.3 536.2h0M404.9 536.8h0M404.8 536.3h0M401.4 537h0M399.8 530h0" stroke="#fcc6c8" stroke-width="2.7" stroke-linecap="round"/>
<rect x="433.7" y="539.2" width="9.4" height="26.2" fill="#fdaeb0"/>
<path d="M433.7 539.2h0M433.8 555.4h0M434.4 561h0M434.3 540.7h0M434.5 552.9h0M434.4 563h0M432.9 549.9h0M433.7 555h0M434.6 540.1h0M433.9 552.1h0M433 557.1h0M434.2 542.2h0M432.9 552h0M434.6 561h0M434 549.6h0M434.6 551.6h0M433 554.9h0M432.9 561.9h0M433.7 558.5h0M434.4 559.9h0M434.3 559.8h0M433.5 540h0M442.1 556.2h0M442.2 565h0M442.2 557.8h0M441.8 551.1h0M443.2 563h0M441.7 560.3h0M443.5 539.8h0M443.2 540.3h0M443 565.1h0M441.8 558.8h0M441.8 554.5h0M437.1 539.3h0M433 539.9h0M440.4 539.2h0M439.8 539.9h0M436.4 539.5h0M441 538.4h0M436.1 538.7h0M436.2 538.9h0M434.3 539.1h0M443 538.3h0M438.6 538h0M435.3 538h0M440.9 537.8h0M439.3 536.9h0M440.5 536.6h0M440.9 536.5h0M434.1 537.2h0M442.7 536.6h0M438.7 536.2h0M439.4 535.3h0M436 564.6h0M433.1 564.9h0M436.8 565h0M437 564.5h0M442.1 564.4h0M432.9 564.4h0M441.3 564.8h0M438.9 566h0M435.7 566.1h0M436 566.2h0M433.5 565.9h0M443.1 566h0M442.9 566.3h0M441 566.2h0M440.7 565.9h0M433.1 566.9h0M440.5 566.8h0M436.9 566.4h0M443.1 533.8h0M435.4 533.8h0M436.7 533.7h0M437 533.6h0" stroke="#fdaeb0" stroke-width="2.7" stroke-linecap="round"/>
<rect x="472.1" y="540" width="9.4" height="25" fill="#fda8aa"/>
<path d="M471.2 557.8h0M471.1 561h0M471.1 559.5h0M471.8 548.7h0M472.1 544.6h0M471.5 557.8h0M472.9 543.5h0M471.7 564.5h0M472.5 562.9h0M471.9 559.2h0M472.5 558.6h0M472.1 547.3h0M471.8 543.6h0M471.3 549.5h0M472.8 548.3h0M472.2 560.6h0M471.3 549.3h0M471.8 557.8h0M472.9 540.2h0M472.2 540.1h0M471.7 550h0M480.6 550.3h0M480.7 552.5h0M480.5 549.8h0M480.4 550.5h0M481.4 540.8h0M482 543.7h0M481.6 547.2h0M480.1 559.7h0M481.1 546.6h0M480.8 561.6h0M479.9 540.7h0M471.4 540.4h0M475.4 540.7h0M475.7 540.2h0M480.3 540.2h0M477 539.1h0M477 539.5h0M480.9 539.4h0M472.8 539.4h0M479.7 539h0M471.5 540h0M477.2 539.7h0M476.2 539.2h0M481 538.4h0M478.7 538.2h0M477.7 538.3h0M471.8 537.6h0M475.6 537h0M474.9 536.1h0M478.9 535.5h0M478.5 534.3h0M480.2 533.7h0M478.8 564.8h0M471.6 564.8h0M480 564.6h0M480.8 565h0M473.3 564.9h0M480.5 564.6h0M480 565.4h0M478.7 565.8h0M472.2 565.3h0M472.3 565.4h0M472.6 565.9h0M479.7 565.6h0M473.4 534.7h0M481 533.2h0M481.2 531.3h0M475 532.1h0" stroke="#fda8aa" stroke-width="2.7" stroke-linecap="round"/>
<rect x="510.3" y="540.3" width="9.4" height="24.7" fill="#fd9597"/>
<path d="M510.7 553.1h0M510.4 557h0M509.9 546.9h0M510.1 546.1h0M511 549.3h0M509.4 555.9h0M511.3 553.9h0M509.9 562.6h0M510.6 555.6h0M510.2 559.4h0M510.6 553.8h0M510 559.7h0M511.1 542.6h0M509.4 542.8h0M511 555.5h0M510.1 564.4h0M511.2 550.8h0M510 553.5h0M510.5 561.1h0M511.1 547.3h0M511 542.2h0M518.6 550.7h0M518.4 548.9h0M518.3 560.2h0M519.6 546.7h0M519.2 549.9h0M519.8 547.6h0M518.7 559.5h0M519.7 557.7h0M518.3 541.3h0M520.1 564.3h0M512.1 541.3h0M514.1 540.5h0M510.1 540.9h0M518.5 540.6h0M516.3 539.4h0M514.4 539.8h0M512.4 539h0M515.5 538.9h0M517.5 538.6h0M519.3 538.8h0M512.3 538h0M519.7 537.8h0M515.2 537.3h0M511 538.1h0M516.7 536.9h0M515.7 536h0M510.1 536.3h0M510.2 535.2h0M512 535.2h0M520 535.1h0M519.2 533.9h0M514.8 564.2h0M516.2 564.1h0M512.3 564.6h0M518.5 564.7h0M512.4 564.4h0M514.8 564.9h0M511.2 564.8h0M510.5 564.8h0M509.5 565.1h0M518.1 565.4h0M514.9 565.8h0M517.1 565.5h0M512.6 565.1h0M510.5 565.1h0M513.7 565.9h0M519.6 567h0M516.4 566.6h0M514.1 530.6h0M518.4 530h0M515.1 533.5h0M510.7 533.1h0M515.9 532.5h0M514.9 529.2h0" stroke="#fd9597" stroke-width="2.7" stroke-linecap="round"/>
<rect x="549.6" y="543.9" width="9.4" height="21.1" fill="#dc6b69"/>
<path d="M549.4 555.6h0M549.6 544.5h0M550 560.5h0M549.5 557.6h0M549.1 559.3h0M549.5 557.4h0M549.9 553h0M549 563.7h0M550.3 552h0M549.4 561.8h0M550.1 549.8h0M550.2 551h0M550.3 546.2h0M550.5 551.6h0M550.4 549.1h0M549.3 549.2h0M549.8 549.3h0M549.9 558.2h0M559 553.5h0M558.4 549.2h0M558.5 555h0M558.1 555.7h0M557.8 552.7h0M558.1 555.2h0M559.1 544.6h0M558.4 546h0M558.2 559.4h0M555.9 544.6h0M554.5 544h0M555.6 544.7h0M558.1 543.9h0M552.7 544.4h0M555.4 544.7h0M548.9 544.8h0M554.4 543.7h0M552 543.8h0M551.4 543.9h0M555.7 543.6h0M552.8 543.4h0M552.4 543.4h0M557.8 543.7h0M557.2 542.8h0M556.6 542.6h0M556 542.5h0M552.9 542.6h0M553.2 542.1h0M558.4 542.8h0M552.2 541.2h0M550.2 541.3h0M558.9 540.2h0M550.1 538.1h0M557.2 537.7h0M550.1 564.7h0M555.8 564.4h0M550 564.3h0M553.4 564.7h0M553.1 564.8h0M552.6 564.6h0M556 565.1h0M550.7 565.5h0M558.7 566h0M557 565.4h0M551.7 566.7h0M555.3 566.9h0M553.1 534.7h0M551.3 525.2h0M559.3 535.9h0M558.1 534.1h0M558.4 533.1h0M551.8 522.5h0M550 518.3h0" stroke="#dc6b69" stroke-width="2.7" stroke-linecap="round"/>
<rect x="587.9" y="543.9" width="9.4" height="21.1" fill="#b44646"/>
<path d="M588.2 551.1h0M587.6 559h0M587.7 549.7h0M588.6 560.7h0M588.5 550.8h0M588.9 554.7h0M587.5 546.8h0M588.5 558.8h0M588.8 545.9h0M587 562.7h0M587.4 550.9h0M587.2 554.5h0M587.3 545.2h0M588.8 546.8h0M587.6 548.1h0M588.5 560.4h0M588.7 553.9h0M588.5 561h0M597.5 547.2h0M596.8 557.7h0M596.4 560.5h0M597.1 560.8h0M597.3 553.1h0M596 549h0M596.8 564h0M596.2 561.1h0M596.3 556.3h0M595.1 544.7h0M591.9 544.2h0M593.5 544.7h0M591.9 544.5h0M595.1 544.8h0M587.8 544.6h0M587.6 544.2h0M592.3 543.5h0M590.8 543.9h0M590.5 543.1h0M592.7 543.1h0M593.7 543.2h0M590.9 543.6h0M594.3 542.9h0M593.1 543.5h0M590.8 543.3h0M593.5 543.7h0M588.4 542h0M591.5 542.3h0M597.4 542.8h0M595.9 542.6h0M588.9 542.1h0M595.8 542.7h0M589.8 541.5h0M591 540.8h0M587.2 540.7h0M587.5 540.2h0M597 540.2h0M587.4 540h0M596.1 539.1h0M588.2 539.8h0M591.1 539.4h0M593.9 537h0M592.4 537.7h0M589.7 537.5h0M589.3 534.2h0M593.5 533.2h0M591.5 565h0M589.4 564.1h0M589.9 564.5h0M597.7 565.5h0M594.3 565.3h0M592.1 565.8h0M590.2 566.8h0M595.1 531.2h0M590.3 534.5h0M591.7 532.2h0M597.8 534.2h0M595.4 534.5h0M596.8 534.7h0M590.4 531.7h0" stroke="#b44646" stroke-width="2.7" stroke-linecap="round"/>
<rect x="626.2" y="540.3" width="9.4" height="25.7" fill="#701818"/>
<path d="M627 558.6h0M626.9 556.7h0M625.4 550.5h0M627.2 543.5h0M626.3 553.7h0M626.1 547.5h0M625.8 545.5h0M625.7 541.3h0M626.7 563.3h0M625.6 541.8h0M626 543.1h0M626.1 546.9h0M626.4 559.4h0M627 558.7h0M626.9 565.9h0M626 544.3h0M625.5 552.3h0M626.6 561.7h0M625.5 553.8h0M625.4 555h0M626.9 549.2h0M626.6 556.6h0M635.4 545h0M635.1 541.7h0M634.9 541.7h0M636 549.2h0M634.6 563.5h0M635 553.4h0M635.8 553.7h0M634.9 559.3h0M634.7 544.2h0M635.5 553.1h0M636.1 554.3h0M629 541.1h0M630.4 540.9h0M632.6 539.6h0M635.2 539.9h0M626.9 539.6h0M627.2 540.1h0M628.6 538.5h0M628.5 538.5h0M632.4 539h0M631.7 539h0M633.4 538.9h0M630.4 537.5h0M632.8 538h0M630.8 536.6h0M626.4 537.2h0M626.8 533.7h0M630.4 565.5h0M631.7 565.9h0M629.7 565.9h0M631.1 566.6h0M629.3 566.8h0M629.3 566.9h0M635.3 566h0M632.2 566.9h0M625.8 566.7h0M631.6 566.5h0M633.2 533h0M627.2 533.3h0M636 532.6h0M626.8 532.2h0M633.5 532.2h0M633 530.4h0M633.6 527.5h0" stroke="#701818" stroke-width="2.7" stroke-linecap="round"/>
<path d="M409 528.8L409.2 528.8L409.2 529.3L409.2 529.7L409.3 530.2L409.3 530.7L409.4 531.2L409.4 531.6L409.5 532.1L409.6 532.6L409.6 533.1L409.7 533.5L409.8 534L409.9 534.5L410 535L410.2 535.4L410.3 535.9L410.5 536.4L410.6 536.9L410.8 537.3L411 537.8L411.2 538.3L411.5 538.8L411.7 539.2L412 539.7L412.3 540.2L412.7 540.7L413 541.1L413.4 541.6L413.8 542.1L414.2 542.6L414.6 543L415.1 543.5L415.6 544L416.1 544.5L416.6 544.9L417.1 545.4L417.7 545.9L418.2 546.4L418.8 546.8L419.4 547.3L420 547.8L420.6 548.3L421.2 548.7L421.8 549.2L422.4 549.7L423 550.2L423.5 550.6L424.1 551.1L424.6 551.6L425 552.1L425.5 552.5L425.9 553L426.2 553.5L426.5 554L426.8 554.4L426.9 554.9L427 555.4L427 555.5L426.9 555.9L426.7 556.3L426.3 556.8L425.8 557.3L425.2 557.8L424.5 558.2L423.8 558.7L423 559.2L422.1 559.7L421.2 560.1L420.4 560.6L419.5 561.1L418.6 561.6L417.8 562L417 562.5L416.2 563L415.5 563.5L414.8 563.9L414.2 564.4L413.6 564.9L413 565.4L412.5 565.8L412.1 566.3L409 566.3Z" fill="#fde0e1" stroke="#fcc6c8" stroke-width="1"/>
<path d="M447.6 532.4L447.8 532.4L447.8 532.8L447.8 533.3L447.9 533.7L447.9 534.2L448 534.6L448 535L448.1 535.5L448.2 535.9L448.2 536.3L448.3 536.8L448.4 537.2L448.5 537.7L448.7 538.1L448.8 538.5L448.9 539L449.1 539.4L449.3 539.8L449.5 540.3L449.7 540.7L449.9 541.2L450.2 541.6L450.5 542L450.8 542.5L451.1 542.9L451.4 543.3L451.8 543.8L452.2 544.2L452.6 544.7L453 545.1L453.5 545.5L454 546L454.5 546.4L455 546.9L455.5 547.3L456.1 547.7L456.6 548.2L457.2 548.6L457.8 549L458.4 549.5L459 549.9L459.6 550.4L460.2 550.8L460.8 551.2L461.4 551.7L461.9 552.1L462.5 552.5L463 553L463.4 553.4L463.8 553.9L464.2 554.3L464.6 554.7L464.8 555.2L465 555.6L465.2 556.1L465.2 556.4L465.2 556.5L465.1 556.9L464.8 557.4L464.4 557.8L464 558.2L463.4 558.7L462.8 559.1L462.1 559.6L461.4 560L460.7 560.4L459.9 560.9L459.1 561.3L458.4 561.7L457.6 562.2L456.8 562.6L456.1 563.1L455.4 563.5L454.7 563.9L454 564.4L453.4 564.8L452.8 565.2L452.3 565.7L451.8 566.1L451.3 566.6L450.9 567L447.6 567Z" fill="#fed2d4" stroke="#fdaeb0" stroke-width="1"/>
<path d="M486 530.9L486.1 530.9L486.1 531.3L486.1 531.8L486.1 532.2L486.1 532.7L486.1 533.1L486.2 533.6L486.2 534L486.2 534.5L486.3 534.9L486.3 535.3L486.4 535.8L486.4 536.2L486.5 536.7L486.6 537.1L486.7 537.6L486.8 538L486.9 538.5L487 538.9L487.1 539.3L487.3 539.8L487.4 540.2L487.6 540.7L487.8 541.1L488.1 541.6L488.3 542L488.6 542.5L488.9 542.9L489.2 543.3L489.5 543.8L489.9 544.2L490.3 544.7L490.7 545.1L491.2 545.6L491.7 546L492.2 546.5L492.7 546.9L493.2 547.3L493.8 547.8L494.4 548.2L495 548.7L495.6 549.1L496.3 549.6L496.9 550L497.5 550.4L498.2 550.9L498.8 551.3L499.4 551.8L500 552.2L500.6 552.7L501.1 553.1L501.6 553.6L502.1 554L502.5 554.4L502.8 554.9L503.1 555.3L503.3 555.8L503.4 556.2L503.4 556.4L503.4 556.7L503.1 557.1L502.8 557.6L502.3 558L501.7 558.4L501.1 558.9L500.3 559.3L499.5 559.8L498.7 560.2L497.9 560.7L497 561.1L496.2 561.6L495.3 562L494.5 562.4L493.7 562.9L493 563.3L492.3 563.8L491.6 564.2L491 564.7L490.4 565.1L489.9 565.6L489.4 566L486 566Z" fill="#fecfd0" stroke="#fda8aa" stroke-width="1"/>
<path d="M524.2 528L525.3 528L525.4 528.5L525.4 529L525.5 529.5L525.6 530L525.7 530.5L525.8 531L525.9 531.5L525.9 531.9L526 532.4L526.2 532.9L526.3 533.4L526.4 533.9L526.5 534.4L526.6 534.9L526.8 535.4L526.9 535.9L527.1 536.4L527.2 536.9L527.4 537.4L527.6 537.9L527.8 538.4L527.9 538.9L528.2 539.4L528.4 539.8L528.6 540.3L528.8 540.8L529.1 541.3L529.3 541.8L529.6 542.3L529.9 542.8L530.2 543.3L530.5 543.8L530.8 544.3L531.1 544.8L531.5 545.3L531.9 545.8L532.2 546.3L532.6 546.8L533.1 547.3L533.5 547.7L533.9 548.2L534.4 548.7L534.9 549.2L535.4 549.7L535.9 550.2L536.4 550.7L537 551.2L537.6 551.7L538.1 552.2L538.7 552.7L539.3 553.2L539.9 553.7L540.5 554.2L541.2 554.7L541.7 555.2L542.3 555.6L542.4 555.8L542.3 556.1L542.1 556.6L541.6 557.1L541.1 557.6L540.4 558.1L539.7 558.6L538.8 559.1L537.9 559.6L537 560.1L536.1 560.6L535.1 561.1L534.2 561.6L533.3 562.1L532.4 562.6L531.6 563.1L530.8 563.5L530 564L529.4 564.5L528.7 565L528.1 565.5L527.6 566L527.1 566.5L526.7 567L524.2 567Z" fill="#fec5c6" stroke="#fd9597" stroke-width="1"/>
<path d="M563.5 517.1L563.5 517.1L563.5 517.7L563.5 518.4L563.5 519L563.5 519.6L563.5 520.3L563.5 520.9L563.5 521.5L563.5 522.2L563.6 522.8L563.6 523.4L563.6 524L563.6 524.7L563.6 525.3L563.7 525.9L563.7 526.6L563.7 527.2L563.8 527.8L563.8 528.5L563.9 529.1L563.9 529.7L564 530.4L564.1 531L564.2 531.6L564.3 532.3L564.4 532.9L564.5 533.5L564.7 534.2L564.9 534.8L565.1 535.4L565.3 536L565.5 536.7L565.8 537.3L566.1 537.9L566.4 538.6L566.8 539.2L567.1 539.8L567.5 540.5L568 541.1L568.5 541.7L569 542.4L569.5 543L570.1 543.6L570.6 544.3L571.3 544.9L571.9 545.5L572.5 546.2L573.2 546.8L573.9 547.4L574.6 548.1L575.2 548.7L575.9 549.3L576.6 549.9L577.2 550.6L577.8 551.2L578.4 551.8L578.9 552.5L579.4 553.1L579.8 553.7L580.1 554.4L580.3 555L580.5 555.6L580.5 556L580.5 556.3L580.1 556.9L579.6 557.5L578.8 558.2L577.9 558.8L576.9 559.4L575.8 560.1L574.6 560.7L573.5 561.3L572.4 561.9L571.3 562.6L570.3 563.2L569.3 563.8L568.5 564.5L567.7 565.1L567 565.7L566.4 566.4L565.9 567L563.5 567Z" fill="#ecaeac" stroke="#dc6b69" stroke-width="1"/>
<path d="M601.8 530.5L601.9 530.5L601.9 531L602 531.4L602 531.9L602 532.3L602.1 532.8L602.1 533.3L602.2 533.7L602.2 534.2L602.3 534.7L602.3 535.1L602.4 535.6L602.5 536L602.6 536.5L602.7 537L602.8 537.4L603 537.9L603.1 538.4L603.3 538.8L603.5 539.3L603.7 539.7L603.9 540.2L604.2 540.7L604.4 541.1L604.7 541.6L605 542.1L605.3 542.5L605.7 543L606.1 543.4L606.5 543.9L606.9 544.4L607.4 544.8L607.8 545.3L608.3 545.7L608.8 546.2L609.4 546.7L609.9 547.1L610.5 547.6L611.1 548.1L611.7 548.5L612.3 549L612.9 549.4L613.5 549.9L614.1 550.4L614.7 550.8L615.2 551.3L615.8 551.8L616.3 552.2L616.8 552.7L617.2 553.1L617.6 553.6L618 554.1L618.3 554.5L618.5 555L618.7 555.4L618.8 555.9L618.8 556L618.7 556.4L618.5 556.8L618.1 557.3L617.6 557.8L617 558.2L616.4 558.7L615.6 559.1L614.8 559.6L614 560.1L613.2 560.5L612.4 561L611.5 561.5L610.7 561.9L609.9 562.4L609.2 562.8L608.4 563.3L607.7 563.8L607.1 564.2L606.5 564.7L605.9 565.2L605.4 565.6L605 566.1L604.5 566.5L604.2 567L601.8 567Z" fill="#d69999" stroke="#b44646" stroke-width="1"/>
<path d="M640.1 526.3L640.4 526.3L640.4 526.8L640.5 527.3L640.5 527.8L640.6 528.4L640.6 528.9L640.7 529.4L640.8 529.9L640.8 530.4L640.9 530.9L641 531.5L641.1 532L641.2 532.5L641.4 533L641.5 533.5L641.7 534L641.8 534.5L642 535.1L642.2 535.6L642.4 536.1L642.6 536.6L642.9 537.1L643.1 537.6L643.4 538.1L643.7 538.7L644 539.2L644.4 539.7L644.7 540.2L645.1 540.7L645.5 541.2L645.9 541.8L646.3 542.3L646.8 542.8L647.2 543.3L647.7 543.8L648.2 544.3L648.7 544.8L649.2 545.4L649.7 545.9L650.2 546.4L650.8 546.9L651.3 547.4L651.9 547.9L652.4 548.5L652.9 549L653.4 549.5L654 550L654.4 550.5L654.9 551L655.4 551.5L655.8 552.1L656.2 552.6L656.5 553.1L656.8 553.6L657.1 554.1L657.3 554.6L657.5 555.2L657.6 555.7L657.6 556L657.6 556.2L657.4 556.7L657 557.2L656.4 557.7L655.7 558.2L655 558.8L654.1 559.3L653.2 559.8L652.3 560.3L651.3 560.8L650.3 561.3L649.4 561.8L648.5 562.4L647.6 562.9L646.8 563.4L646 563.9L645.3 564.4L644.6 564.9L644 565.5L643.5 566L643 566.5L642.5 567L640.1 567Z" fill="#b08080" stroke="#701818" stroke-width="1"/>
<path d="M409 540V551.5M409 560V565.9" stroke="#111" stroke-width="1.6"/>
<rect x="407.4" y="551.5" width="3.2" height="8.5" fill="#fee5e6" stroke="#111" stroke-width="1.4"/>
<path d="M407.4 555.5H410.6" stroke="#111" stroke-width="1.2"/>
<path d="M447.6 541.5V551.5M447.6 560.6V567" stroke="#111" stroke-width="1.6"/>
<rect x="446" y="551.5" width="3.2" height="9.1" fill="#fedbdb" stroke="#111" stroke-width="1.4"/>
<path d="M446 556H449.2" stroke="#111" stroke-width="1.2"/>
<path d="M486 541.5V551.5M486 560V565.9" stroke="#111" stroke-width="1.6"/>
<rect x="484.4" y="551.5" width="3.2" height="8.5" fill="#fed8d9" stroke="#111" stroke-width="1.4"/>
<path d="M484.4 555.8H487.6" stroke="#111" stroke-width="1.2"/>
<path d="M524.2 541.4V552.3M524.2 560.3V566.8" stroke="#111" stroke-width="1.6"/>
<rect x="522.6" y="552.3" width="3.2" height="8" fill="#fecfd0" stroke="#111" stroke-width="1.4"/>
<path d="M522.6 556.3H525.8" stroke="#111" stroke-width="1.2"/>
<path d="M563.5 542.6V552M563.5 560V566.8" stroke="#111" stroke-width="1.6"/>
<rect x="561.9" y="552" width="3.2" height="8" fill="#efbcbc" stroke="#111" stroke-width="1.4"/>
<path d="M561.9 556H565.1" stroke="#111" stroke-width="1.2"/>
<path d="M601.8 545V552M601.8 560V566.8" stroke="#111" stroke-width="1.6"/>
<rect x="600.2" y="552" width="3.2" height="8" fill="#ddacac" stroke="#111" stroke-width="1.4"/>
<path d="M600.2 556H603.4" stroke="#111" stroke-width="1.2"/>
<path d="M640.1 541.4V552M640.1 560V566.8" stroke="#111" stroke-width="1.6"/>
<rect x="638.5" y="552" width="3.2" height="8" fill="#bf9797" stroke="#111" stroke-width="1.4"/>
<path d="M638.5 556H641.7" stroke="#111" stroke-width="1.2"/>
<path d="M409 479.9H524.2" stroke="#a8a8a8" stroke-width="1"/>
<rect x="394.9" y="678.3" width="9.4" height="19.7" fill="#fcc6c8"/>
<path d="M394.5 685.1h0M395.6 685.8h0M394.9 694.7h0M395.2 696.3h0M393.9 690.5h0M394.9 686.4h0M394.5 685.7h0M395.5 687.7h0M394.3 692h0M395.5 686.3h0M394.2 693h0M395.3 692h0M393.9 680.7h0M395.8 689.2h0M394.4 679.3h0M394.9 684.7h0M394.2 690.9h0M403.2 697h0M403.3 695.8h0M403.5 684.1h0M404.3 688.3h0M403.1 694.9h0M403.9 689.5h0M403.6 694.6h0M404 679.7h0M395.2 678.6h0M399.7 678.5h0M402.5 678.8h0M398.6 678.7h0M401.8 677.7h0M403.9 677.4h0M400.2 677.7h0M398.9 677.4h0M397.6 677.5h0M401.3 678.1h0M403.2 676.7h0M402.1 676.4h0M399.3 676.9h0M402.3 676.9h0M400.7 677.2h0M396.8 676.7h0M403.5 676.8h0M400.4 676.8h0M402 675.5h0M402.4 676.2h0M402.2 676h0M396.9 675.4h0M402.6 675h0M400 674.5h0M396.1 675.2h0M398.1 675.1h0M404.5 674.5h0M398.6 674.1h0M396.6 672.4h0M395.6 672.4h0M397.7 670.6h0M395.6 669.6h0M403.8 665.2h0M397.1 663.2h0M403.3 697.7h0M394.6 697.8h0M397 697.9h0M395.5 697h0M403.3 697.9h0M399.3 697.9h0M393.9 698.4h0M403.2 698.2h0M395.3 698.5h0M401.2 698.3h0M402.8 698.9h0M396.3 698.4h0M399.5 699.8h0M401.8 699.5h0M394.3 699.2h0M398.8 699.8h0M403.8 700h0M398.1 700h0M398.1 699.2h0M404 699.1h0M402.4 664.2h0M403.2 663.8h0M398.8 664.1h0M400.7 664.5h0M399.4 664h0M399.4 663.6h0M399.3 663.6h0M396.1 663.3h0M398.1 663.6h0" stroke="#fcc6c8" stroke-width="2.7" stroke-linecap="round"/>
<rect x="433.3" y="670" width="9.4" height="28" fill="#fcb0b0"/>
<path d="M432.9 694.6h0M433.5 696.4h0M433.4 696.2h0M433.8 695h0M432.9 697.9h0M432.9 691h0M433.5 679.9h0M432.5 671.3h0M432.3 685.4h0M433.4 673h0M432.4 670.5h0M433.5 691.1h0M434.1 683.1h0M433.8 676.7h0M432.4 686.1h0M433 681.2h0M432.5 689.4h0M434.1 690.8h0M432.6 677.6h0M432.7 697.7h0M433.1 674.1h0M433.9 675.9h0M432.5 680.4h0M432.4 682.8h0M442.1 678.7h0M442.3 692.1h0M441.9 677.6h0M442.5 681.8h0M441.7 696.5h0M441.6 681.2h0M441.8 692.7h0M442.5 695.5h0M441.7 693.1h0M442.5 673.2h0M441.7 693.5h0M442.1 674.5h0M441.6 670.3h0M439.7 670.8h0M440.5 670.6h0M437.2 670.7h0M439.5 669.5h0M438.9 669.7h0M437.4 669.1h0M438.6 669.3h0M442.8 668.2h0M434.7 667h0M437.7 667.1h0M434.2 667.1h0M442.8 666.2h0M432.4 665.4h0M439.6 664.7h0M434.2 697.9h0M442.9 697.6h0M439 697.1h0M441.1 697.4h0M437.9 698.9h0M437.5 698.3h0M437.3 698.4h0M436.9 698.5h0M440.1 698.7h0M432.6 698.9h0M436.1 698.4h0M437.9 698.9h0M439.7 699.5h0" stroke="#fcb0b0" stroke-width="2.7" stroke-linecap="round"/>
<rect x="472.5" y="671" width="9.4" height="30.7" fill="#fb9698"/>
<path d="M472.3 687.5h0M472.9 684.9h0M473.4 688.4h0M472.4 698.9h0M471.6 698.7h0M472.5 675.3h0M472.9 678.7h0M472.5 687.5h0M473.4 691.9h0M472.4 691h0M472.8 675.6h0M472.3 676.4h0M471.7 681.2h0M471.6 676.7h0M471.9 687.7h0M472.4 674.4h0M473.5 694.1h0M472.9 690.8h0M473 677h0M473 682.3h0M471.9 680h0M473.2 683.7h0M473.3 701.6h0M473.4 685.8h0M472.6 689.6h0M471.7 694.3h0M482 677.2h0M481.1 690.5h0M482.3 682.1h0M482.2 673.1h0M481.5 680.2h0M482.1 676.8h0M480.6 682.7h0M481.9 693.6h0M481.1 693.4h0M480.7 684.8h0M482.2 676h0M480.9 682.1h0M480.8 687.3h0M472.3 671.6h0M473.4 671.2h0M479.8 671.1h0M481.8 671.2h0M477.9 670.9h0M473.1 670.3h0M482 670.9h0M471.9 670.1h0M478.5 670.8h0M482.2 670.1h0M476.7 670.5h0M480.8 670.5h0M477 669.1h0M479.1 668h0M477 668.2h0M475.9 668.8h0M480.7 668.9h0M471.8 667.9h0M479.4 667.4h0M474.3 668h0M474.2 664.6h0M475.7 664.3h0M477.8 664.9h0M477.5 664.3h0M473.6 664.8h0M480.3 663.1h0M482.3 656.3h0M476.3 657.2h0M471.5 660.6h0M476.3 663.8h0M477.2 662.5h0M481.8 664h0M476.8 656.2h0" stroke="#fb9698" stroke-width="2.7" stroke-linecap="round"/>
<rect x="511.1" y="670.3" width="9.4" height="30.9" fill="#dd6e6c"/>
<path d="M510.4 690.1h0M511.3 692.2h0M512.1 683.9h0M510.1 676.5h0M510.9 678.1h0M511.1 689.8h0M511.1 671.9h0M510.2 671.2h0M511.5 682.9h0M511.2 682.6h0M511.5 700.9h0M511.3 676.7h0M511.6 676.9h0M511.5 688h0M510.1 676.1h0M510.6 682h0M511.9 692.2h0M511.1 682.8h0M510.2 677h0M511.9 682h0M510.6 699.4h0M510.5 695h0M510.9 681.6h0M510.8 678.6h0M510.6 679h0M511 684h0M519 682.5h0M520.6 693.6h0M519.3 676.7h0M520.3 689.7h0M519.1 679.9h0M520 691.4h0M520.1 690.2h0M520.8 697.4h0M519.4 697.1h0M519.4 670.4h0M520.6 698.3h0M519.2 693.6h0M519.2 698.6h0M515.9 671.2h0M514.1 670.3h0M512.6 670.8h0M510.8 670.4h0M512.6 671.1h0M514.8 670.4h0M516.7 669.8h0M511.7 669.5h0M516.9 670.1h0M510.9 670.1h0M515 669.9h0M518.7 669.4h0M515.8 669h0M518.7 669.2h0M520.7 668.3h0M520 669.2h0M521 669.1h0M520.4 669.3h0M516.2 668.2h0M519.1 666.9h0M515.7 666.8h0M518.8 666.4h0M517.3 665.7h0M520.1 664.6h0M515.9 663.4h0M516.9 664h0M516.7 700.5h0M517.3 700.8h0M520.9 700.9h0M510.2 700.3h0M515.5 700.7h0M515.3 700.9h0M520.3 700.3h0M516.9 700.5h0M514.4 701.2h0M513.2 702.1h0M518.3 701.9h0M518.5 702.1h0M516.1 701.5h0M510.2 701.4h0M517.3 701.6h0M512.2 701.3h0M510.5 701.8h0M520.5 661h0M511.8 660.1h0M520.6 663.5h0M516 663.2h0M517.1 659.9h0M515.2 664h0M515.8 659.4h0" stroke="#dd6e6c" stroke-width="2.7" stroke-linecap="round"/>
<rect x="549.6" y="671.5" width="9.4" height="29.7" fill="#b84a48"/>
<path d="M549.7 674.8h0M550.5 686.4h0M549.9 694.3h0M549.1 672.3h0M549.8 698.5h0M550.4 697.6h0M549 697.7h0M548.8 680h0M550.3 674.3h0M550.2 695.1h0M550.4 696.9h0M550 676.5h0M548.8 673.9h0M549.2 680.8h0M550.6 696.9h0M548.8 685.5h0M550.2 683.1h0M549.6 697.5h0M550.4 676.6h0M550.2 684.9h0M548.6 680.5h0M550.4 677h0M548.9 699.9h0M549.5 698.6h0M549.2 673.3h0M559.3 681h0M559.4 691.5h0M559.2 681h0M558.9 695.7h0M558.9 698.9h0M559.3 688.3h0M559.4 692.7h0M559.3 675.7h0M558.1 676h0M557.5 691h0M559.4 690.2h0M559.4 695.9h0M548.7 671.8h0M551.5 671.8h0M552.4 671.5h0M554.2 672.4h0M555.3 671.7h0M559.2 672.4h0M558.2 671.6h0M556.3 671.8h0M557.3 671.9h0M551.3 672.5h0M553.2 670.8h0M558.6 671h0M550.2 670.6h0M557 671.4h0M551.1 671.1h0M553.9 670.9h0M556.2 671.3h0M557.5 670.7h0M555.2 670.7h0M554 669.7h0M550.5 670.4h0M555.7 669.7h0M557 670.5h0M553.4 668.7h0M550 669.5h0M553.6 668.7h0M556.7 668.1h0M556.5 668.3h0M552.9 667h0M553.7 666.6h0M552.9 667.3h0M554.2 667.2h0M556.2 667.1h0M559.2 664.5h0M553.1 700.6h0M553.3 700.8h0M558.7 700.3h0M550.2 700.9h0M554.5 700.9h0M557.8 701h0M555.1 701.8h0M553.9 702.1h0M549.3 701.2h0" stroke="#b84a48" stroke-width="2.7" stroke-linecap="round"/>
<rect x="588.4" y="676.2" width="9.4" height="25.8" fill="#8a2c2c"/>
<path d="M589.3 697.9h0M587.5 694.8h0M588.6 679.9h0M588.2 691.6h0M588.6 681.4h0M587.4 677.8h0M587.9 684.3h0M587.8 685h0M587.6 686.3h0M588.1 683.9h0M588.2 698.5h0M589 679.5h0M587.6 690.7h0M587.6 697.1h0M588.1 701.5h0M588.1 690.1h0M587.5 680.6h0M587.8 700.5h0M589.4 692.7h0M588.7 695.9h0M588.3 700.3h0M587.9 699.7h0M596.3 691.4h0M597.5 695.8h0M596.7 685h0M598.1 681.3h0M596.9 691.1h0M598.3 684.7h0M596.6 679.4h0M598.3 682.8h0M597.8 678h0M597.2 691.3h0M597.8 692.6h0M597 676.4h0M591.5 676.7h0M589.2 677h0M589.2 677h0M587.7 676.2h0M595.1 675.7h0M592.9 675.5h0M589.3 676.1h0M591.4 675.2h0M591.3 676.2h0M587.6 676.2h0M589.5 675.2h0M598.2 675.5h0M598 675.5h0M591.3 676.2h0M590.2 676h0M596.5 675.6h0M589.6 675.1h0M590.5 674.7h0M594.7 674.5h0M591.2 673.8h0M590.8 673.6h0M594.4 673.9h0M595.3 673.9h0M596.6 672.1h0M595.4 669.9h0M592.3 666.2h0M592.8 701.8h0M595.4 701.9h0M589 701.7h0M594.7 701.3h0M597.8 701.5h0M594.4 702h0M593.3 701.7h0M593.7 701.8h0M589 655.9h0M597.2 670.2h0M588.8 652.9h0M594.6 648.4h0M595.6 658.1h0M590.7 646h0M594.8 670.2h0M595.2 666.2h0M594.5 644.1h0" stroke="#8a2c2c" stroke-width="2.7" stroke-linecap="round"/>
<rect x="626.7" y="669.2" width="9.4" height="32.8" fill="#6e1a1a"/>
<path d="M627.1 695.9h0M626 675.1h0M626.7 674.7h0M626.7 678h0M627.7 696.7h0M627.3 697.7h0M626.2 686.6h0M626.9 670.8h0M626.2 696.2h0M626.2 698.9h0M626.6 685.6h0M625.9 697.2h0M626.5 676.5h0M626 674.6h0M627.3 681.2h0M626.9 680.6h0M627.6 686.1h0M626.6 700.2h0M627.3 701.4h0M627.2 676.7h0M626.6 695.1h0M626.2 683.9h0M626 683.7h0M626.8 674.9h0M626.9 674.1h0M626.7 691.9h0M627.2 683.4h0M634.9 701.2h0M635.7 685.2h0M634.7 694.1h0M636.2 692.8h0M635.5 684.4h0M636.2 699.8h0M635.8 690.2h0M636.3 680.3h0M635 693.9h0M635.8 680.4h0M636.3 693.9h0M634.7 685.8h0M636 698.9h0M628.6 669.7h0M636.4 669.6h0M625.9 669.3h0M627.4 669.9h0M629.7 669.9h0M628.8 670h0M631.1 670.1h0M634 669.7h0M629.1 668.3h0M627 668.3h0M629.8 668.8h0M631.9 668.8h0M635.6 667.4h0M632.6 667.7h0M631.8 667h0M629 666.6h0M635 666.1h0M630.1 665.8h0M629.1 665.1h0M628 663.2h0M632.1 663.5h0M631.1 659.1h0M635.4 701.1h0M629.9 701.1h0M630.5 701.6h0M626.9 701.7h0M628.6 701.2h0M629.4 701.9h0M635.3 701.3h0M626 701.1h0M626 658.9h0M632.2 655.9h0M627.3 659.3h0M629.7 651.7h0M636.4 660.8h0M631.6 655h0M629.8 652.1h0" stroke="#6e1a1a" stroke-width="2.7" stroke-linecap="round"/>
<path d="M408.8 662.4L409.2 662.4L409.3 662.9L409.4 663.3L409.4 663.8L409.5 664.3L409.6 664.7L409.7 665.2L409.8 665.7L409.9 666.2L410 666.6L410.2 667.1L410.3 667.6L410.5 668L410.7 668.5L410.9 669L411.1 669.4L411.3 669.9L411.6 670.4L411.8 670.9L412.1 671.3L412.4 671.8L412.7 672.3L413.1 672.7L413.4 673.2L413.8 673.7L414.2 674.1L414.6 674.6L415.1 675.1L415.5 675.5L416 676L416.5 676.5L417 677L417.5 677.4L418.1 677.9L418.6 678.4L419.1 678.8L419.7 679.3L420.2 679.8L420.8 680.2L421.3 680.7L421.9 681.2L422.4 681.7L422.9 682.1L423.4 682.6L423.9 683.1L424.3 683.5L424.8 684L425.1 684.5L425.5 684.9L425.8 685.4L426 685.9L426.2 686.4L426.3 686.8L426.4 687.3L426.4 687.3L426.3 687.8L426 688.2L425.6 688.7L425.1 689.2L424.4 689.6L423.7 690.1L423 690.6L422.2 691L421.3 691.5L420.5 692L419.6 692.5L418.7 692.9L417.9 693.4L417.1 693.9L416.3 694.3L415.5 694.8L414.8 695.3L414.2 695.7L413.6 696.2L413 696.7L412.5 697.2L412 697.6L411.6 698.1L411.2 698.6L410.9 699L410.6 699.5L408.8 699.5Z" fill="#fde0e1" stroke="#fcc6c8" stroke-width="1"/>
<path d="M447.2 664.5L447.4 664.5L447.5 664.9L447.5 665.4L447.6 665.8L447.6 666.3L447.7 666.7L447.7 667.2L447.8 667.6L447.9 668.1L448 668.5L448.1 669L448.2 669.4L448.3 669.9L448.5 670.3L448.6 670.8L448.8 671.2L449 671.7L449.2 672.1L449.4 672.6L449.6 673L449.9 673.5L450.1 673.9L450.4 674.4L450.7 674.8L451.1 675.3L451.5 675.7L451.8 676.2L452.2 676.6L452.7 677.1L453.1 677.5L453.6 678L454.1 678.4L454.6 678.9L455.2 679.3L455.7 679.8L456.3 680.2L456.8 680.7L457.4 681.1L458 681.6L458.6 682L459.2 682.5L459.8 682.9L460.4 683.4L461 683.8L461.6 684.3L462.1 684.7L462.6 685.2L463.1 685.6L463.6 686.1L464 686.5L464.3 687L464.6 687.4L464.9 687.9L465.1 688.3L465.2 688.8L465.2 689L465.2 689.2L464.9 689.7L464.5 690.1L464 690.6L463.4 691L462.6 691.5L461.8 691.9L460.9 692.4L460 692.8L459.1 693.3L458.1 693.7L457.2 694.2L456.3 694.6L455.4 695.1L454.6 695.5L453.8 696L453 696.4L452.3 696.9L451.7 697.3L451.1 697.8L450.6 698.2L450.1 698.7L449.7 699.1L449.3 699.6L449 700L447.2 700Z" fill="#fdd4d4" stroke="#fcb0b0" stroke-width="1"/>
<path d="M486.4 655L486.4 655L486.4 655.6L486.4 656.2L486.4 656.7L486.4 657.3L486.4 657.9L486.4 658.5L486.4 659.1L486.4 659.7L486.5 660.2L486.5 660.8L486.5 661.4L486.5 662L486.5 662.6L486.5 663.2L486.6 663.7L486.6 664.3L486.7 664.9L486.7 665.5L486.8 666.1L486.8 666.6L486.9 667.2L487 667.8L487.1 668.4L487.2 669L487.4 669.6L487.5 670.1L487.7 670.7L487.9 671.3L488.2 671.9L488.4 672.5L488.7 673.1L489.1 673.6L489.4 674.2L489.8 674.8L490.2 675.4L490.7 676L491.2 676.5L491.7 677.1L492.3 677.7L492.9 678.3L493.6 678.9L494.2 679.5L494.9 680L495.7 680.6L496.4 681.2L497.1 681.8L497.9 682.4L498.6 682.9L499.4 683.5L500.1 684.1L500.8 684.7L501.4 685.3L502 685.9L502.6 686.4L503 687L503.4 687.6L503.6 688.2L503.8 688.8L503.8 689L503.7 689.4L503.4 689.9L502.8 690.5L502 691.1L501.1 691.7L500.1 692.3L499 692.8L497.9 693.4L496.8 694L495.7 694.6L494.6 695.2L493.6 695.8L492.6 696.3L491.8 696.9L491 697.5L490.3 698.1L489.6 698.7L489.1 699.3L488.6 699.8L488.2 700.4L487.8 701L486.4 701Z" fill="#fdc5c6" stroke="#fb9698" stroke-width="1"/>
<path d="M525 658.2L525.8 658.2L525.8 658.8L525.9 659.3L525.9 659.9L526 660.4L526 661L526.1 661.5L526.2 662.1L526.3 662.6L526.4 663.2L526.4 663.7L526.5 664.3L526.6 664.9L526.7 665.4L526.9 666L527 666.5L527.1 667.1L527.2 667.6L527.4 668.2L527.5 668.7L527.7 669.3L527.9 669.8L528 670.4L528.2 671L528.4 671.5L528.6 672.1L528.9 672.6L529.1 673.2L529.3 673.7L529.6 674.3L529.9 674.8L530.2 675.4L530.5 675.9L530.8 676.5L531.1 677.1L531.5 677.6L531.9 678.2L532.2 678.7L532.7 679.3L533.1 679.8L533.5 680.4L534 680.9L534.5 681.5L535 682L535.6 682.6L536.1 683.1L536.7 683.7L537.3 684.3L537.9 684.8L538.6 685.4L539.2 685.9L539.9 686.5L540.6 687L541.2 687.6L541.9 688.1L542.6 688.7L543.2 689.2L543.2 689.3L543.1 689.8L542.7 690.4L542.1 690.9L541.3 691.5L540.4 692L539.4 692.6L538.4 693.1L537.3 693.7L536.2 694.2L535.1 694.8L534 695.3L533 695.9L532 696.5L531.1 697L530.3 697.6L529.6 698.1L528.9 698.7L528.3 699.2L527.8 699.8L527.3 700.3L526.9 700.9L526.5 701.4L526.3 702L525 702Z" fill="#ecafae" stroke="#dd6e6c" stroke-width="1"/>
<path d="M563.5 663.8L564.5 663.8L564.6 664.3L564.6 664.8L564.7 665.3L564.8 665.7L564.9 666.2L565 666.7L565.1 667.2L565.2 667.7L565.3 668.2L565.4 668.6L565.5 669.1L565.6 669.6L565.7 670.1L565.9 670.6L566 671.1L566.2 671.5L566.3 672L566.5 672.5L566.7 673L566.9 673.5L567.1 674L567.3 674.4L567.5 674.9L567.8 675.4L568 675.9L568.3 676.4L568.5 676.9L568.8 677.3L569.1 677.8L569.5 678.3L569.8 678.8L570.2 679.3L570.5 679.8L570.9 680.2L571.3 680.7L571.7 681.2L572.2 681.7L572.6 682.2L573.1 682.7L573.6 683.1L574.1 683.6L574.7 684.1L575.2 684.6L575.8 685.1L576.4 685.6L577 686L577.7 686.5L578.3 687L578.9 687.5L579.6 688L580.2 688.5L580.8 688.9L581.2 689.3L581.2 689.4L581 689.9L580.6 690.4L580.1 690.9L579.5 691.4L578.8 691.8L578 692.3L577.1 692.8L576.2 693.3L575.3 693.8L574.3 694.3L573.4 694.7L572.5 695.2L571.6 695.7L570.8 696.2L570 696.7L569.2 697.2L568.5 697.6L567.9 698.1L567.3 698.6L566.8 699.1L566.4 699.6L565.9 700.1L565.6 700.5L565.2 701L565 701.5L564.7 702L563.5 702Z" fill="#d89b9a" stroke="#b84a48" stroke-width="1"/>
<path d="M602.3 642.9L602.4 642.9L602.4 643.6L602.4 644.4L602.4 645.1L602.4 645.9L602.4 646.6L602.4 647.4L602.4 648.1L602.4 648.9L602.5 649.6L602.5 650.4L602.5 651.1L602.5 651.9L602.5 652.6L602.6 653.4L602.6 654.1L602.6 654.9L602.6 655.6L602.7 656.4L602.7 657.1L602.8 657.9L602.8 658.6L602.9 659.4L602.9 660.1L603 660.9L603.1 661.6L603.1 662.4L603.2 663.1L603.3 663.8L603.4 664.6L603.5 665.3L603.7 666.1L603.8 666.8L603.9 667.6L604.1 668.3L604.3 669.1L604.5 669.8L604.7 670.6L604.9 671.3L605.2 672.1L605.4 672.8L605.7 673.6L606 674.3L606.4 675.1L606.8 675.8L607.2 676.6L607.6 677.3L608.1 678.1L608.6 678.8L609.2 679.6L609.8 680.3L610.4 681.1L611.1 681.8L611.8 682.5L612.6 683.3L613.4 684L614.3 684.8L615.2 685.5L616.1 686.3L617.1 687L618.1 687.8L619.1 688.5L620 689.3L620 689.3L619.7 690L619 690.8L618.1 691.5L616.9 692.3L615.5 693L614.1 693.8L612.6 694.5L611.2 695.3L609.9 696L608.6 696.8L607.5 697.5L606.6 698.3L605.7 699L605 699.8L604.4 700.5L603.9 701.3L603.5 702L602.3 702Z" fill="#bf8b8b" stroke="#8a2c2c" stroke-width="1"/>
<path d="M640.6 650.9L640.8 650.9L640.8 651.5L640.8 652.2L640.8 652.8L640.9 653.5L640.9 654.1L640.9 654.8L640.9 655.4L641 656.1L641 656.7L641 657.4L641.1 658L641.1 658.7L641.2 659.3L641.2 660L641.3 660.6L641.3 661.2L641.4 661.9L641.4 662.5L641.5 663.2L641.6 663.8L641.7 664.5L641.8 665.1L641.9 665.8L642 666.4L642.1 667.1L642.2 667.7L642.4 668.4L642.5 669L642.7 669.7L642.9 670.3L643 671L643.3 671.6L643.5 672.2L643.7 672.9L644 673.5L644.2 674.2L644.5 674.8L644.8 675.5L645.2 676.1L645.5 676.8L645.9 677.4L646.3 678.1L646.7 678.7L647.2 679.4L647.7 680L648.2 680.7L648.8 681.3L649.4 681.9L650 682.6L650.7 683.2L651.3 683.9L652.1 684.5L652.8 685.2L653.6 685.8L654.5 686.5L655.3 687.1L656.1 687.8L657 688.4L657.8 689.1L658 689.3L657.9 689.7L657.5 690.4L656.8 691L655.9 691.7L654.9 692.3L653.7 692.9L652.5 693.6L651.3 694.2L650.1 694.9L648.9 695.5L647.8 696.2L646.7 696.8L645.8 697.5L645 698.1L644.2 698.8L643.6 699.4L643 700.1L642.5 700.7L642.1 701.4L641.8 702L640.6 702Z" fill="#af8181" stroke="#6e1a1a" stroke-width="1"/>
<path d="M408.8 674.1V684.3M408.8 692.1V699.5" stroke="#111" stroke-width="1.6"/>
<rect x="407.2" y="684.3" width="3.2" height="7.8" fill="#fee5e6" stroke="#111" stroke-width="1.4"/>
<path d="M407.2 688.2H410.4" stroke="#111" stroke-width="1.2"/>
<path d="M447.2 675.2V684.7M447.2 693.2V700.6" stroke="#111" stroke-width="1.6"/>
<rect x="445.6" y="684.7" width="3.2" height="8.5" fill="#fedbdb" stroke="#111" stroke-width="1.4"/>
<path d="M445.6 689H448.8" stroke="#111" stroke-width="1.2"/>
<path d="M486.4 675.2V684.7M486.4 692.5V701.7" stroke="#111" stroke-width="1.6"/>
<rect x="484.8" y="684.7" width="3.2" height="7.8" fill="#fdd0d1" stroke="#111" stroke-width="1.4"/>
<path d="M484.8 688.6H488" stroke="#111" stroke-width="1.2"/>
<path d="M525 672.7V684.8M525 693.3V701.8" stroke="#111" stroke-width="1.6"/>
<rect x="523.4" y="684.8" width="3.2" height="8.5" fill="#f0bebd" stroke="#111" stroke-width="1.4"/>
<path d="M523.4 689H526.6" stroke="#111" stroke-width="1.2"/>
<path d="M563.5 674V685.6M563.5 692.8V701.8" stroke="#111" stroke-width="1.6"/>
<rect x="561.9" y="685.6" width="3.2" height="7.2" fill="#dfaead" stroke="#111" stroke-width="1.4"/>
<path d="M561.9 689.2H565.1" stroke="#111" stroke-width="1.2"/>
<path d="M602.3 672.7V684.8M602.3 693.3V702" stroke="#111" stroke-width="1.6"/>
<rect x="600.7" y="684.8" width="3.2" height="8.5" fill="#caa0a0" stroke="#111" stroke-width="1.4"/>
<path d="M600.7 689H603.9" stroke="#111" stroke-width="1.2"/>
<path d="M640.6 672.7V685M640.6 693V702" stroke="#111" stroke-width="1.6"/>
<rect x="639" y="685" width="3.2" height="8" fill="#be9898" stroke="#111" stroke-width="1.4"/>
<path d="M639 689H642.2" stroke="#111" stroke-width="1.2"/>
<path d="M408.8 623.5H447.2" stroke="#a8a8a8" stroke-width="1"/>
<path d="M408.8 625.4H525" stroke="#a8a8a8" stroke-width="1"/>
<path d="M408.8 627.5H563.5" stroke="#a8a8a8" stroke-width="1"/>
<path d="M376.1 46.4V162.9H660" fill="none" stroke="#222" stroke-width="1.3"/>
<path d="M373.6 52.2H376.1" stroke="#222" stroke-width="1"/>
<text x="372.6" y="56.1" text-anchor="end" font-size="10.8" fill="#1a1a1a">0.30</text>
<path d="M373.6 104.7H376.1" stroke="#222" stroke-width="1"/>
<text x="372.6" y="108.6" text-anchor="end" font-size="10.8" fill="#1a1a1a">0.15</text>
<path d="M373.6 157.2H376.1" stroke="#222" stroke-width="1"/>
<text x="372.6" y="161.1" text-anchor="end" font-size="10.8" fill="#1a1a1a">0.00</text>
<path d="M399.2 162.9V165.4" stroke="#222" stroke-width="1"/>
<path d="M438 162.9V165.4" stroke="#222" stroke-width="1"/>
<path d="M476.8 162.9V165.4" stroke="#222" stroke-width="1"/>
<path d="M515.6 162.9V165.4" stroke="#222" stroke-width="1"/>
<path d="M554.4 162.9V165.4" stroke="#222" stroke-width="1"/>
<path d="M593.2 162.9V165.4" stroke="#222" stroke-width="1"/>
<path d="M632 162.9V165.4" stroke="#222" stroke-width="1"/>
<path d="M375.9 191.5V306.8H660" fill="none" stroke="#222" stroke-width="1.3"/>
<path d="M373.4 196.9H375.9" stroke="#222" stroke-width="1"/>
<text x="372.6" y="200.8" text-anchor="end" font-size="10.8" fill="#1a1a1a">0.30</text>
<path d="M373.4 249.5H375.9" stroke="#222" stroke-width="1"/>
<text x="372.6" y="253.4" text-anchor="end" font-size="10.8" fill="#1a1a1a">0.15</text>
<path d="M373.4 301.7H375.9" stroke="#222" stroke-width="1"/>
<text x="372.6" y="305.6" text-anchor="end" font-size="10.8" fill="#1a1a1a">0.00</text>
<path d="M399.2 306.8V309.3" stroke="#222" stroke-width="1"/>
<path d="M438 306.8V309.3" stroke="#222" stroke-width="1"/>
<path d="M476.8 306.8V309.3" stroke="#222" stroke-width="1"/>
<path d="M515.6 306.8V309.3" stroke="#222" stroke-width="1"/>
<path d="M554.4 306.8V309.3" stroke="#222" stroke-width="1"/>
<path d="M593.2 306.8V309.3" stroke="#222" stroke-width="1"/>
<path d="M632 306.8V309.3" stroke="#222" stroke-width="1"/>
<path d="M377 332.4V449.9H660" fill="none" stroke="#222" stroke-width="1.3"/>
<path d="M374.5 338.2H377" stroke="#222" stroke-width="1"/>
<text x="372.6" y="342.1" text-anchor="end" font-size="10.8" fill="#1a1a1a">1.00</text>
<path d="M374.5 391.1H377" stroke="#222" stroke-width="1"/>
<text x="372.6" y="395" text-anchor="end" font-size="10.8" fill="#1a1a1a">0.50</text>
<path d="M374.5 444.9H377" stroke="#222" stroke-width="1"/>
<text x="372.6" y="448.8" text-anchor="end" font-size="10.8" fill="#1a1a1a">0.00</text>
<path d="M399.8 449.9V452.4" stroke="#222" stroke-width="1"/>
<path d="M438.6 449.9V452.4" stroke="#222" stroke-width="1"/>
<path d="M477.4 449.9V452.4" stroke="#222" stroke-width="1"/>
<path d="M516.2 449.9V452.4" stroke="#222" stroke-width="1"/>
<path d="M555 449.9V452.4" stroke="#222" stroke-width="1"/>
<path d="M593.8 449.9V452.4" stroke="#222" stroke-width="1"/>
<path d="M632.6 449.9V452.4" stroke="#222" stroke-width="1"/>
<path d="M376.5 476V591H660" fill="none" stroke="#222" stroke-width="1.3"/>
<path d="M374 481.5H376.5" stroke="#222" stroke-width="1"/>
<text x="372.6" y="485.4" text-anchor="end" font-size="10.8" fill="#1a1a1a">0.60</text>
<path d="M374 533.9H376.5" stroke="#222" stroke-width="1"/>
<text x="372.6" y="537.8" text-anchor="end" font-size="10.8" fill="#1a1a1a">0.30</text>
<path d="M374 585.8H376.5" stroke="#222" stroke-width="1"/>
<text x="372.6" y="589.7" text-anchor="end" font-size="10.8" fill="#1a1a1a">0.00</text>
<path d="M399.5 591V593.5" stroke="#222" stroke-width="1"/>
<path d="M438.3 591V593.5" stroke="#222" stroke-width="1"/>
<path d="M477.1 591V593.5" stroke="#222" stroke-width="1"/>
<path d="M515.9 591V593.5" stroke="#222" stroke-width="1"/>
<path d="M554.7 591V593.5" stroke="#222" stroke-width="1"/>
<path d="M593.5 591V593.5" stroke="#222" stroke-width="1"/>
<path d="M632.3 591V593.5" stroke="#222" stroke-width="1"/>
<path d="M376.1 616.4V732.6H660" fill="none" stroke="#222" stroke-width="1.3"/>
<path d="M373.6 621.9H376.1" stroke="#222" stroke-width="1"/>
<text x="372.6" y="625.8" text-anchor="end" font-size="10.8" fill="#1a1a1a">0.60</text>
<path d="M373.6 674.7H376.1" stroke="#222" stroke-width="1"/>
<text x="372.6" y="678.6" text-anchor="end" font-size="10.8" fill="#1a1a1a">0.30</text>
<path d="M373.6 727.6H376.1" stroke="#222" stroke-width="1"/>
<text x="372.6" y="731.5" text-anchor="end" font-size="10.8" fill="#1a1a1a">0.00</text>
<path d="M399.3 732.6V735.1" stroke="#222" stroke-width="1"/>
<path d="M438.1 732.6V735.1" stroke="#222" stroke-width="1"/>
<path d="M476.9 732.6V735.1" stroke="#222" stroke-width="1"/>
<path d="M515.7 732.6V735.1" stroke="#222" stroke-width="1"/>
<path d="M554.5 732.6V735.1" stroke="#222" stroke-width="1"/>
<path d="M593.3 732.6V735.1" stroke="#222" stroke-width="1"/>
<path d="M632.1 732.6V735.1" stroke="#222" stroke-width="1"/>
<text x="75.6" y="752" text-anchor="middle" font-size="11" fill="#1a1a1a">C</text>
<text x="399.3" y="752" text-anchor="middle" font-size="11" fill="#1a1a1a">C</text>
<text x="114.3" y="752" text-anchor="middle" font-size="11" fill="#1a1a1a">J1</text>
<text x="438.1" y="752" text-anchor="middle" font-size="11" fill="#1a1a1a">J1</text>
<text x="153.1" y="752" text-anchor="middle" font-size="11" fill="#1a1a1a">J2</text>
<text x="476.9" y="752" text-anchor="middle" font-size="11" fill="#1a1a1a">J2</text>
<text x="191.8" y="752" text-anchor="middle" font-size="11" fill="#1a1a1a">J3</text>
<text x="515.7" y="752" text-anchor="middle" font-size="11" fill="#1a1a1a">J3</text>
<text x="230.6" y="752" text-anchor="middle" font-size="11" fill="#1a1a1a">J4</text>
<text x="554.5" y="752" text-anchor="middle" font-size="11" fill="#1a1a1a">J4</text>
<text x="269.4" y="752" text-anchor="middle" font-size="11" fill="#1a1a1a">J5</text>
<text x="593.3" y="752" text-anchor="middle" font-size="11" fill="#1a1a1a">J5</text>
<text x="308.1" y="752" text-anchor="middle" font-size="11" fill="#1a1a1a">J6-8</text>
<text x="632.1" y="752" text-anchor="middle" font-size="11" fill="#1a1a1a">J6-8</text>
<text x="201.4" y="767.5" text-anchor="middle" font-size="15.4" fill="#111">ACAM-J States</text>
<text x="525.2" y="767.5" text-anchor="middle" font-size="15.4" fill="#111">ACAM-J States</text>
<text x="2.5" y="15.9" font-size="22" fill="#111">A</text>
<text x="50.8" y="17" font-size="20.5" fill="#111">WSMI</text>
<text x="335.5" y="15.9" font-size="22" fill="#111">B</text>
<text x="376.5" y="17" font-size="20.5" fill="#111">WPLI</text>
<text x="28" y="32.6" font-size="10.7" fill="#1a1a1a">bits</text>
<text x="351" y="33.6" font-size="10.7" fill="#1a1a1a">a.u.</text>
</svg>
</body></html>
